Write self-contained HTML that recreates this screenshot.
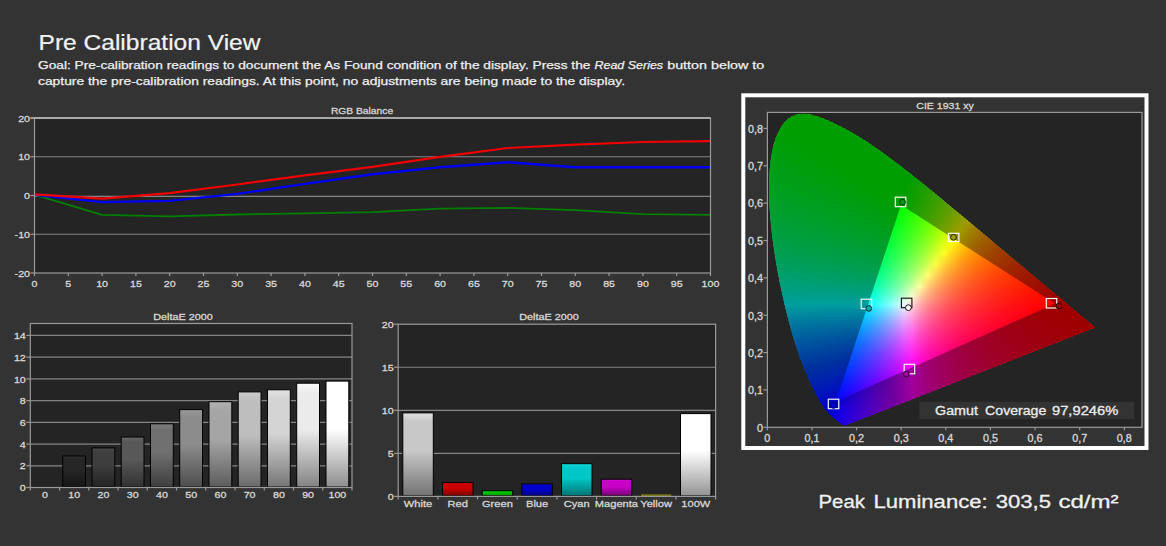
<!DOCTYPE html><html><head><meta charset="utf-8"><style>html,body{margin:0;padding:0;background:#333333}svg{display:block}text{font-family:"Liberation Sans",sans-serif}</style></head><body>
<svg width="1166" height="546" viewBox="0 0 1166 546">
<rect width="1166" height="546" fill="#333333"/>
<text x="38.5" y="49.5" font-size="21.6" fill="#f2f2f2" stroke="#f2f2f2" stroke-width="0.2" textLength="222" lengthAdjust="spacingAndGlyphs">Pre Calibration View</text>
<text x="38" y="68.8" font-size="11.6" fill="#f0f0f0" stroke="#f0f0f0" stroke-width="0.25" lengthAdjust="spacingAndGlyphs" textLength="552.4">Goal: Pre-calibration readings to document the As Found condition of the display. Press the</text>
<text x="594.5" y="68.8" font-size="11.6" fill="#f0f0f0" stroke="#f0f0f0" stroke-width="0.25" lengthAdjust="spacingAndGlyphs" font-style="italic" textLength="68.6">Read Series</text>
<text x="667.2" y="68.8" font-size="11.6" fill="#f0f0f0" stroke="#f0f0f0" stroke-width="0.25" lengthAdjust="spacingAndGlyphs" textLength="97.1">button below to</text>
<text x="38" y="84.6" font-size="11.6" fill="#f0f0f0" stroke="#f0f0f0" stroke-width="0.25" textLength="587" lengthAdjust="spacingAndGlyphs">capture the pre-calibration readings. At this point, no adjustments are being made to the display.</text>
<rect x="34.5" y="118" width="676" height="155" fill="#242424"/>
<line x1="34.5" y1="156.75" x2="710.5" y2="156.75" stroke="#858585" stroke-width="1.2"/>
<line x1="34.5" y1="196.3" x2="710.5" y2="196.3" stroke="#858585" stroke-width="1.2"/>
<line x1="34.5" y1="234.25" x2="710.5" y2="234.25" stroke="#858585" stroke-width="1.2"/>
<clipPath id="rc"><rect x="34.5" y="118" width="676" height="155"/></clipPath>
<polyline clip-path="url(#rc)" points="34.5,194.7 102.1,214.9 169.7,216.4 237.3,214.5 304.9,213.3 372.5,212.2 440.1,208.7 507.7,207.9 575.3,210.2 642.9,214.1 710.5,214.9" fill="none" stroke="#008000" stroke-width="1.8" stroke-linejoin="round"/>
<polyline clip-path="url(#rc)" points="34.5,194.7 102.1,202.1 169.7,200.9 237.3,193.9 304.9,183.9 372.5,174.2 440.1,167.2 507.7,162.2 575.3,167.2 642.9,167.2 710.5,167.2" fill="none" stroke="#0000f0" stroke-width="2.4" stroke-linejoin="round"/>
<polyline clip-path="url(#rc)" points="34.5,194.3 102.1,198.6 169.7,193.2 237.3,184.5 304.9,175.3 372.5,166.8 440.1,156.8 507.7,148.0 575.3,144.7 642.9,142.0 710.5,141.2" fill="none" stroke="#f00000" stroke-width="2.2" stroke-linejoin="round"/>
<rect x="34.5" y="118" width="676" height="155" fill="none" stroke="#9a9a9a" stroke-width="1.2"/>
<line x1="30.5" y1="118" x2="710.5" y2="118" stroke="#a8a8a8" stroke-width="1.8"/>
<line x1="30.5" y1="118" x2="34.5" y2="118" stroke="#9a9a9a" stroke-width="1.2"/>
<text transform="translate(30.0,121.6) scale(1.1,1)" font-size="9.7" fill="#d8d8d8" stroke="#d8d8d8" stroke-width="0.3" text-anchor="end">20</text>
<line x1="30.5" y1="156.75" x2="34.5" y2="156.75" stroke="#9a9a9a" stroke-width="1.2"/>
<text transform="translate(30.0,160.3) scale(1.1,1)" font-size="9.7" fill="#d8d8d8" stroke="#d8d8d8" stroke-width="0.3" text-anchor="end">10</text>
<line x1="30.5" y1="195.5" x2="34.5" y2="195.5" stroke="#9a9a9a" stroke-width="1.2"/>
<text transform="translate(30.0,199.1) scale(1.1,1)" font-size="9.7" fill="#d8d8d8" stroke="#d8d8d8" stroke-width="0.3" text-anchor="end">0</text>
<line x1="30.5" y1="234.25" x2="34.5" y2="234.25" stroke="#9a9a9a" stroke-width="1.2"/>
<text transform="translate(30.0,237.8) scale(1.1,1)" font-size="9.7" fill="#d8d8d8" stroke="#d8d8d8" stroke-width="0.3" text-anchor="end">-10</text>
<line x1="30.5" y1="273" x2="34.5" y2="273" stroke="#9a9a9a" stroke-width="1.2"/>
<text transform="translate(30.0,276.6) scale(1.1,1)" font-size="9.7" fill="#d8d8d8" stroke="#d8d8d8" stroke-width="0.3" text-anchor="end">-20</text>
<line x1="34.5" y1="273" x2="34.5" y2="276" stroke="#9a9a9a" stroke-width="1.2"/>
<text transform="translate(34.5,287.0) scale(1.1,1)" font-size="9.7" fill="#d8d8d8" stroke="#d8d8d8" stroke-width="0.3" text-anchor="middle">0</text>
<line x1="68.3" y1="273" x2="68.3" y2="276" stroke="#9a9a9a" stroke-width="1.2"/>
<text transform="translate(68.3,287.0) scale(1.1,1)" font-size="9.7" fill="#d8d8d8" stroke="#d8d8d8" stroke-width="0.3" text-anchor="middle">5</text>
<line x1="102.1" y1="273" x2="102.1" y2="276" stroke="#9a9a9a" stroke-width="1.2"/>
<text transform="translate(102.1,287.0) scale(1.1,1)" font-size="9.7" fill="#d8d8d8" stroke="#d8d8d8" stroke-width="0.3" text-anchor="middle">10</text>
<line x1="135.9" y1="273" x2="135.9" y2="276" stroke="#9a9a9a" stroke-width="1.2"/>
<text transform="translate(135.9,287.0) scale(1.1,1)" font-size="9.7" fill="#d8d8d8" stroke="#d8d8d8" stroke-width="0.3" text-anchor="middle">15</text>
<line x1="169.7" y1="273" x2="169.7" y2="276" stroke="#9a9a9a" stroke-width="1.2"/>
<text transform="translate(169.7,287.0) scale(1.1,1)" font-size="9.7" fill="#d8d8d8" stroke="#d8d8d8" stroke-width="0.3" text-anchor="middle">20</text>
<line x1="203.5" y1="273" x2="203.5" y2="276" stroke="#9a9a9a" stroke-width="1.2"/>
<text transform="translate(203.5,287.0) scale(1.1,1)" font-size="9.7" fill="#d8d8d8" stroke="#d8d8d8" stroke-width="0.3" text-anchor="middle">25</text>
<line x1="237.3" y1="273" x2="237.3" y2="276" stroke="#9a9a9a" stroke-width="1.2"/>
<text transform="translate(237.3,287.0) scale(1.1,1)" font-size="9.7" fill="#d8d8d8" stroke="#d8d8d8" stroke-width="0.3" text-anchor="middle">30</text>
<line x1="271.1" y1="273" x2="271.1" y2="276" stroke="#9a9a9a" stroke-width="1.2"/>
<text transform="translate(271.1,287.0) scale(1.1,1)" font-size="9.7" fill="#d8d8d8" stroke="#d8d8d8" stroke-width="0.3" text-anchor="middle">35</text>
<line x1="304.9" y1="273" x2="304.9" y2="276" stroke="#9a9a9a" stroke-width="1.2"/>
<text transform="translate(304.9,287.0) scale(1.1,1)" font-size="9.7" fill="#d8d8d8" stroke="#d8d8d8" stroke-width="0.3" text-anchor="middle">40</text>
<line x1="338.7" y1="273" x2="338.7" y2="276" stroke="#9a9a9a" stroke-width="1.2"/>
<text transform="translate(338.7,287.0) scale(1.1,1)" font-size="9.7" fill="#d8d8d8" stroke="#d8d8d8" stroke-width="0.3" text-anchor="middle">45</text>
<line x1="372.5" y1="273" x2="372.5" y2="276" stroke="#9a9a9a" stroke-width="1.2"/>
<text transform="translate(372.5,287.0) scale(1.1,1)" font-size="9.7" fill="#d8d8d8" stroke="#d8d8d8" stroke-width="0.3" text-anchor="middle">50</text>
<line x1="406.3" y1="273" x2="406.3" y2="276" stroke="#9a9a9a" stroke-width="1.2"/>
<text transform="translate(406.3,287.0) scale(1.1,1)" font-size="9.7" fill="#d8d8d8" stroke="#d8d8d8" stroke-width="0.3" text-anchor="middle">55</text>
<line x1="440.1" y1="273" x2="440.1" y2="276" stroke="#9a9a9a" stroke-width="1.2"/>
<text transform="translate(440.1,287.0) scale(1.1,1)" font-size="9.7" fill="#d8d8d8" stroke="#d8d8d8" stroke-width="0.3" text-anchor="middle">60</text>
<line x1="473.9" y1="273" x2="473.9" y2="276" stroke="#9a9a9a" stroke-width="1.2"/>
<text transform="translate(473.9,287.0) scale(1.1,1)" font-size="9.7" fill="#d8d8d8" stroke="#d8d8d8" stroke-width="0.3" text-anchor="middle">65</text>
<line x1="507.7" y1="273" x2="507.7" y2="276" stroke="#9a9a9a" stroke-width="1.2"/>
<text transform="translate(507.7,287.0) scale(1.1,1)" font-size="9.7" fill="#d8d8d8" stroke="#d8d8d8" stroke-width="0.3" text-anchor="middle">70</text>
<line x1="541.5" y1="273" x2="541.5" y2="276" stroke="#9a9a9a" stroke-width="1.2"/>
<text transform="translate(541.5,287.0) scale(1.1,1)" font-size="9.7" fill="#d8d8d8" stroke="#d8d8d8" stroke-width="0.3" text-anchor="middle">75</text>
<line x1="575.3" y1="273" x2="575.3" y2="276" stroke="#9a9a9a" stroke-width="1.2"/>
<text transform="translate(575.3,287.0) scale(1.1,1)" font-size="9.7" fill="#d8d8d8" stroke="#d8d8d8" stroke-width="0.3" text-anchor="middle">80</text>
<line x1="609.1" y1="273" x2="609.1" y2="276" stroke="#9a9a9a" stroke-width="1.2"/>
<text transform="translate(609.1,287.0) scale(1.1,1)" font-size="9.7" fill="#d8d8d8" stroke="#d8d8d8" stroke-width="0.3" text-anchor="middle">85</text>
<line x1="642.9" y1="273" x2="642.9" y2="276" stroke="#9a9a9a" stroke-width="1.2"/>
<text transform="translate(642.9,287.0) scale(1.1,1)" font-size="9.7" fill="#d8d8d8" stroke="#d8d8d8" stroke-width="0.3" text-anchor="middle">90</text>
<line x1="676.7" y1="273" x2="676.7" y2="276" stroke="#9a9a9a" stroke-width="1.2"/>
<text transform="translate(676.7,287.0) scale(1.1,1)" font-size="9.7" fill="#d8d8d8" stroke="#d8d8d8" stroke-width="0.3" text-anchor="middle">95</text>
<line x1="710.5" y1="273" x2="710.5" y2="276" stroke="#9a9a9a" stroke-width="1.2"/>
<text transform="translate(710.5,287.0) scale(1.1,1)" font-size="9.7" fill="#d8d8d8" stroke="#d8d8d8" stroke-width="0.3" text-anchor="middle">100</text>
<text transform="translate(362.0,113.8) scale(1.07,1)" font-size="9.6" fill="#d8d8d8" stroke="#d8d8d8" stroke-width="0.3" text-anchor="middle">RGB Balance</text>
<rect x="30.3" y="323.5" width="321.7" height="164" fill="#242424"/>
<line x1="30.3" y1="465.78" x2="352" y2="465.78" stroke="#858585" stroke-width="1.2"/>
<line x1="30.3" y1="444.06" x2="352" y2="444.06" stroke="#858585" stroke-width="1.2"/>
<line x1="30.3" y1="422.34" x2="352" y2="422.34" stroke="#858585" stroke-width="1.2"/>
<line x1="30.3" y1="400.62" x2="352" y2="400.62" stroke="#858585" stroke-width="1.2"/>
<line x1="30.3" y1="378.9" x2="352" y2="378.9" stroke="#858585" stroke-width="1.2"/>
<line x1="30.3" y1="357.18" x2="352" y2="357.18" stroke="#858585" stroke-width="1.2"/>
<line x1="30.3" y1="335.46" x2="352" y2="335.46" stroke="#858585" stroke-width="1.2"/>
<defs>
<linearGradient id="gb1" x1="0" y1="0" x2="0" y2="1"><stop offset="0" stop-color="rgb(52,52,52)"/><stop offset="0.1" stop-color="rgb(38,38,38)"/><stop offset="0.45" stop-color="rgb(38,38,38)"/><stop offset="1" stop-color="rgb(21,21,21)"/></linearGradient>
<linearGradient id="gb2" x1="0" y1="0" x2="0" y2="1"><stop offset="0" stop-color="rgb(76,76,76)"/><stop offset="0.1" stop-color="rgb(62,62,62)"/><stop offset="0.45" stop-color="rgb(62,62,62)"/><stop offset="1" stop-color="rgb(34,34,34)"/></linearGradient>
<linearGradient id="gb3" x1="0" y1="0" x2="0" y2="1"><stop offset="0" stop-color="rgb(102,102,102)"/><stop offset="0.1" stop-color="rgb(88,88,88)"/><stop offset="0.45" stop-color="rgb(88,88,88)"/><stop offset="1" stop-color="rgb(49,49,49)"/></linearGradient>
<linearGradient id="gb4" x1="0" y1="0" x2="0" y2="1"><stop offset="0" stop-color="rgb(126,126,126)"/><stop offset="0.1" stop-color="rgb(112,112,112)"/><stop offset="0.45" stop-color="rgb(112,112,112)"/><stop offset="1" stop-color="rgb(62,62,62)"/></linearGradient>
<linearGradient id="gb5" x1="0" y1="0" x2="0" y2="1"><stop offset="0" stop-color="rgb(154,154,154)"/><stop offset="0.1" stop-color="rgb(140,140,140)"/><stop offset="0.45" stop-color="rgb(140,140,140)"/><stop offset="1" stop-color="rgb(78,78,78)"/></linearGradient>
<linearGradient id="gb6" x1="0" y1="0" x2="0" y2="1"><stop offset="0" stop-color="rgb(179,179,179)"/><stop offset="0.1" stop-color="rgb(165,165,165)"/><stop offset="0.45" stop-color="rgb(165,165,165)"/><stop offset="1" stop-color="rgb(92,92,92)"/></linearGradient>
<linearGradient id="gb7" x1="0" y1="0" x2="0" y2="1"><stop offset="0" stop-color="rgb(204,204,204)"/><stop offset="0.1" stop-color="rgb(190,190,190)"/><stop offset="0.45" stop-color="rgb(190,190,190)"/><stop offset="1" stop-color="rgb(106,106,106)"/></linearGradient>
<linearGradient id="gb8" x1="0" y1="0" x2="0" y2="1"><stop offset="0" stop-color="rgb(226,226,226)"/><stop offset="0.1" stop-color="rgb(212,212,212)"/><stop offset="0.45" stop-color="rgb(212,212,212)"/><stop offset="1" stop-color="rgb(118,118,118)"/></linearGradient>
<linearGradient id="gb9" x1="0" y1="0" x2="0" y2="1"><stop offset="0" stop-color="rgb(249,249,249)"/><stop offset="0.1" stop-color="rgb(235,235,235)"/><stop offset="0.45" stop-color="rgb(235,235,235)"/><stop offset="1" stop-color="rgb(131,131,131)"/></linearGradient>
<linearGradient id="gb10" x1="0" y1="0" x2="0" y2="1"><stop offset="0" stop-color="rgb(255,255,255)"/><stop offset="0.1" stop-color="rgb(255,255,255)"/><stop offset="0.45" stop-color="rgb(255,255,255)"/><stop offset="1" stop-color="rgb(142,142,142)"/></linearGradient>
</defs>
<rect x="62.7" y="456.0" width="22.8" height="31.0" fill="url(#gb1)" stroke="#000" stroke-width="1"/>
<rect x="92.0" y="447.9" width="22.8" height="39.1" fill="url(#gb2)" stroke="#000" stroke-width="1"/>
<rect x="121.2" y="437.0" width="22.8" height="50.0" fill="url(#gb3)" stroke="#000" stroke-width="1"/>
<rect x="150.5" y="423.8" width="22.8" height="63.2" fill="url(#gb4)" stroke="#000" stroke-width="1"/>
<rect x="179.7" y="409.6" width="22.8" height="77.4" fill="url(#gb5)" stroke="#000" stroke-width="1"/>
<rect x="209.0" y="401.7" width="22.8" height="85.3" fill="url(#gb6)" stroke="#000" stroke-width="1"/>
<rect x="238.2" y="391.9" width="22.8" height="95.1" fill="url(#gb7)" stroke="#000" stroke-width="1"/>
<rect x="267.5" y="389.8" width="22.8" height="97.2" fill="url(#gb8)" stroke="#000" stroke-width="1"/>
<rect x="296.7" y="383.2" width="22.8" height="103.8" fill="url(#gb9)" stroke="#000" stroke-width="1"/>
<rect x="326.0" y="381.1" width="22.8" height="105.9" fill="url(#gb10)" stroke="#000" stroke-width="1"/>
<rect x="30.3" y="323.5" width="321.7" height="164" fill="none" stroke="#9a9a9a" stroke-width="1.2"/>
<line x1="26.3" y1="487.5" x2="30.3" y2="487.5" stroke="#9a9a9a" stroke-width="1.2"/>
<text transform="translate(25.8,491.1) scale(1.1,1)" font-size="9.7" fill="#d8d8d8" stroke="#d8d8d8" stroke-width="0.3" text-anchor="end">0</text>
<line x1="26.3" y1="465.78" x2="30.3" y2="465.78" stroke="#9a9a9a" stroke-width="1.2"/>
<text transform="translate(25.8,469.4) scale(1.1,1)" font-size="9.7" fill="#d8d8d8" stroke="#d8d8d8" stroke-width="0.3" text-anchor="end">2</text>
<line x1="26.3" y1="444.06" x2="30.3" y2="444.06" stroke="#9a9a9a" stroke-width="1.2"/>
<text transform="translate(25.8,447.7) scale(1.1,1)" font-size="9.7" fill="#d8d8d8" stroke="#d8d8d8" stroke-width="0.3" text-anchor="end">4</text>
<line x1="26.3" y1="422.34" x2="30.3" y2="422.34" stroke="#9a9a9a" stroke-width="1.2"/>
<text transform="translate(25.8,425.9) scale(1.1,1)" font-size="9.7" fill="#d8d8d8" stroke="#d8d8d8" stroke-width="0.3" text-anchor="end">6</text>
<line x1="26.3" y1="400.62" x2="30.3" y2="400.62" stroke="#9a9a9a" stroke-width="1.2"/>
<text transform="translate(25.8,404.2) scale(1.1,1)" font-size="9.7" fill="#d8d8d8" stroke="#d8d8d8" stroke-width="0.3" text-anchor="end">8</text>
<line x1="26.3" y1="378.9" x2="30.3" y2="378.9" stroke="#9a9a9a" stroke-width="1.2"/>
<text transform="translate(25.8,382.5) scale(1.1,1)" font-size="9.7" fill="#d8d8d8" stroke="#d8d8d8" stroke-width="0.3" text-anchor="end">10</text>
<line x1="26.3" y1="357.18" x2="30.3" y2="357.18" stroke="#9a9a9a" stroke-width="1.2"/>
<text transform="translate(25.8,360.8) scale(1.1,1)" font-size="9.7" fill="#d8d8d8" stroke="#d8d8d8" stroke-width="0.3" text-anchor="end">12</text>
<line x1="26.3" y1="335.46" x2="30.3" y2="335.46" stroke="#9a9a9a" stroke-width="1.2"/>
<text transform="translate(25.8,339.1) scale(1.1,1)" font-size="9.7" fill="#d8d8d8" stroke="#d8d8d8" stroke-width="0.3" text-anchor="end">14</text>
<line x1="30.3" y1="487.5" x2="30.3" y2="490.5" stroke="#9a9a9a" stroke-width="1.2"/>
<line x1="59.5455" y1="487.5" x2="59.5455" y2="490.5" stroke="#9a9a9a" stroke-width="1.2"/>
<line x1="88.7909" y1="487.5" x2="88.7909" y2="490.5" stroke="#9a9a9a" stroke-width="1.2"/>
<line x1="118.036" y1="487.5" x2="118.036" y2="490.5" stroke="#9a9a9a" stroke-width="1.2"/>
<line x1="147.282" y1="487.5" x2="147.282" y2="490.5" stroke="#9a9a9a" stroke-width="1.2"/>
<line x1="176.527" y1="487.5" x2="176.527" y2="490.5" stroke="#9a9a9a" stroke-width="1.2"/>
<line x1="205.773" y1="487.5" x2="205.773" y2="490.5" stroke="#9a9a9a" stroke-width="1.2"/>
<line x1="235.018" y1="487.5" x2="235.018" y2="490.5" stroke="#9a9a9a" stroke-width="1.2"/>
<line x1="264.264" y1="487.5" x2="264.264" y2="490.5" stroke="#9a9a9a" stroke-width="1.2"/>
<line x1="293.509" y1="487.5" x2="293.509" y2="490.5" stroke="#9a9a9a" stroke-width="1.2"/>
<line x1="322.755" y1="487.5" x2="322.755" y2="490.5" stroke="#9a9a9a" stroke-width="1.2"/>
<line x1="352" y1="487.5" x2="352" y2="490.5" stroke="#9a9a9a" stroke-width="1.2"/>
<text transform="translate(44.9,497.9) scale(1.1,1)" font-size="9.7" fill="#d8d8d8" stroke="#d8d8d8" stroke-width="0.3" text-anchor="middle">0</text>
<text transform="translate(74.2,497.9) scale(1.1,1)" font-size="9.7" fill="#d8d8d8" stroke="#d8d8d8" stroke-width="0.3" text-anchor="middle">10</text>
<text transform="translate(103.4,497.9) scale(1.1,1)" font-size="9.7" fill="#d8d8d8" stroke="#d8d8d8" stroke-width="0.3" text-anchor="middle">20</text>
<text transform="translate(132.7,497.9) scale(1.1,1)" font-size="9.7" fill="#d8d8d8" stroke="#d8d8d8" stroke-width="0.3" text-anchor="middle">30</text>
<text transform="translate(161.9,497.9) scale(1.1,1)" font-size="9.7" fill="#d8d8d8" stroke="#d8d8d8" stroke-width="0.3" text-anchor="middle">40</text>
<text transform="translate(191.2,497.9) scale(1.1,1)" font-size="9.7" fill="#d8d8d8" stroke="#d8d8d8" stroke-width="0.3" text-anchor="middle">50</text>
<text transform="translate(220.4,497.9) scale(1.1,1)" font-size="9.7" fill="#d8d8d8" stroke="#d8d8d8" stroke-width="0.3" text-anchor="middle">60</text>
<text transform="translate(249.6,497.9) scale(1.1,1)" font-size="9.7" fill="#d8d8d8" stroke="#d8d8d8" stroke-width="0.3" text-anchor="middle">70</text>
<text transform="translate(278.9,497.9) scale(1.1,1)" font-size="9.7" fill="#d8d8d8" stroke="#d8d8d8" stroke-width="0.3" text-anchor="middle">80</text>
<text transform="translate(308.1,497.9) scale(1.1,1)" font-size="9.7" fill="#d8d8d8" stroke="#d8d8d8" stroke-width="0.3" text-anchor="middle">90</text>
<text transform="translate(337.4,497.9) scale(1.1,1)" font-size="9.7" fill="#d8d8d8" stroke="#d8d8d8" stroke-width="0.3" text-anchor="middle">100</text>
<text transform="translate(183.0,319.8) scale(1.13,1)" font-size="9.6" fill="#d8d8d8" stroke="#d8d8d8" stroke-width="0.3" text-anchor="middle">DeltaE 2000</text>
<rect x="398.2" y="324.2" width="317.4" height="172.2" fill="#242424"/>
<line x1="398.2" y1="453.35" x2="715.6" y2="453.35" stroke="#858585" stroke-width="1.2"/>
<line x1="398.2" y1="410.3" x2="715.6" y2="410.3" stroke="#858585" stroke-width="1.2"/>
<line x1="398.2" y1="367.25" x2="715.6" y2="367.25" stroke="#858585" stroke-width="1.2"/>
<defs>
<linearGradient id="cb0" x1="0" y1="0" x2="0" y2="1"><stop offset="0" stop-color="rgb(225,225,225)"/><stop offset="0.1" stop-color="rgb(200,200,200)"/><stop offset="0.45" stop-color="rgb(200,200,200)"/><stop offset="1" stop-color="rgb(115,115,115)"/></linearGradient>
<linearGradient id="cb1" x1="0" y1="0" x2="0" y2="1"><stop offset="0" stop-color="rgb(230,25,25)"/><stop offset="0.1" stop-color="rgb(205,0,0)"/><stop offset="0.45" stop-color="rgb(205,0,0)"/><stop offset="1" stop-color="rgb(118,0,0)"/></linearGradient>
<linearGradient id="cb2" x1="0" y1="0" x2="0" y2="1"><stop offset="0" stop-color="rgb(25,225,25)"/><stop offset="0.1" stop-color="rgb(0,200,0)"/><stop offset="0.45" stop-color="rgb(0,200,0)"/><stop offset="1" stop-color="rgb(0,115,0)"/></linearGradient>
<linearGradient id="cb3" x1="0" y1="0" x2="0" y2="1"><stop offset="0" stop-color="rgb(25,25,230)"/><stop offset="0.1" stop-color="rgb(0,0,205)"/><stop offset="0.45" stop-color="rgb(0,0,205)"/><stop offset="1" stop-color="rgb(0,0,118)"/></linearGradient>
<linearGradient id="cb4" x1="0" y1="0" x2="0" y2="1"><stop offset="0" stop-color="rgb(25,225,225)"/><stop offset="0.1" stop-color="rgb(0,200,200)"/><stop offset="0.45" stop-color="rgb(0,200,200)"/><stop offset="1" stop-color="rgb(0,115,115)"/></linearGradient>
<linearGradient id="cb5" x1="0" y1="0" x2="0" y2="1"><stop offset="0" stop-color="rgb(225,25,225)"/><stop offset="0.1" stop-color="rgb(200,0,200)"/><stop offset="0.45" stop-color="rgb(200,0,200)"/><stop offset="1" stop-color="rgb(115,0,115)"/></linearGradient>
<linearGradient id="cb6" x1="0" y1="0" x2="0" y2="1"><stop offset="0" stop-color="rgb(225,225,25)"/><stop offset="0.1" stop-color="rgb(200,200,0)"/><stop offset="0.45" stop-color="rgb(200,200,0)"/><stop offset="1" stop-color="rgb(115,115,0)"/></linearGradient>
<linearGradient id="cb7" x1="0" y1="0" x2="0" y2="1"><stop offset="0" stop-color="rgb(255,255,255)"/><stop offset="0.1" stop-color="rgb(255,255,255)"/><stop offset="0.45" stop-color="rgb(255,255,255)"/><stop offset="1" stop-color="rgb(147,147,147)"/></linearGradient>
</defs>
<rect x="402.8" y="412.9" width="30.5" height="83.0" fill="url(#cb0)" stroke="#000" stroke-width="1"/>
<rect x="442.5" y="482.6" width="30.5" height="13.3" fill="url(#cb1)" stroke="#000" stroke-width="1"/>
<rect x="482.2" y="490.7" width="30.5" height="5.2" fill="url(#cb2)" stroke="#000" stroke-width="1"/>
<rect x="521.8" y="483.9" width="30.5" height="12.0" fill="url(#cb3)" stroke="#000" stroke-width="1"/>
<rect x="561.5" y="463.7" width="30.5" height="32.2" fill="url(#cb4)" stroke="#000" stroke-width="1"/>
<rect x="601.2" y="479.2" width="30.5" height="16.7" fill="url(#cb5)" stroke="#000" stroke-width="1"/>
<rect x="640.4" y="494.2" width="31.5" height="2" fill="#111"/><rect x="640.9" y="494.5" width="30.5" height="1.2" fill="#a0a010"/>
<rect x="680.5" y="413.6" width="30.5" height="82.3" fill="url(#cb7)" stroke="#000" stroke-width="1"/>
<rect x="398.2" y="324.2" width="317.4" height="172.2" fill="none" stroke="#9a9a9a" stroke-width="1.2"/>
<line x1="394.2" y1="496.4" x2="398.2" y2="496.4" stroke="#9a9a9a" stroke-width="1.2"/>
<text transform="translate(393.7,500.0) scale(1.1,1)" font-size="9.7" fill="#d8d8d8" stroke="#d8d8d8" stroke-width="0.3" text-anchor="end">0</text>
<line x1="394.2" y1="453.35" x2="398.2" y2="453.35" stroke="#9a9a9a" stroke-width="1.2"/>
<text transform="translate(393.7,456.9) scale(1.1,1)" font-size="9.7" fill="#d8d8d8" stroke="#d8d8d8" stroke-width="0.3" text-anchor="end">5</text>
<line x1="394.2" y1="410.3" x2="398.2" y2="410.3" stroke="#9a9a9a" stroke-width="1.2"/>
<text transform="translate(393.7,413.9) scale(1.1,1)" font-size="9.7" fill="#d8d8d8" stroke="#d8d8d8" stroke-width="0.3" text-anchor="end">10</text>
<line x1="394.2" y1="367.25" x2="398.2" y2="367.25" stroke="#9a9a9a" stroke-width="1.2"/>
<text transform="translate(393.7,370.9) scale(1.1,1)" font-size="9.7" fill="#d8d8d8" stroke="#d8d8d8" stroke-width="0.3" text-anchor="end">15</text>
<line x1="394.2" y1="324.2" x2="398.2" y2="324.2" stroke="#9a9a9a" stroke-width="1.2"/>
<text transform="translate(393.7,327.8) scale(1.1,1)" font-size="9.7" fill="#d8d8d8" stroke="#d8d8d8" stroke-width="0.3" text-anchor="end">20</text>
<line x1="398.2" y1="496.4" x2="398.2" y2="499.4" stroke="#9a9a9a" stroke-width="1.2"/>
<line x1="437.875" y1="496.4" x2="437.875" y2="499.4" stroke="#9a9a9a" stroke-width="1.2"/>
<line x1="477.55" y1="496.4" x2="477.55" y2="499.4" stroke="#9a9a9a" stroke-width="1.2"/>
<line x1="517.225" y1="496.4" x2="517.225" y2="499.4" stroke="#9a9a9a" stroke-width="1.2"/>
<line x1="556.9" y1="496.4" x2="556.9" y2="499.4" stroke="#9a9a9a" stroke-width="1.2"/>
<line x1="596.575" y1="496.4" x2="596.575" y2="499.4" stroke="#9a9a9a" stroke-width="1.2"/>
<line x1="636.25" y1="496.4" x2="636.25" y2="499.4" stroke="#9a9a9a" stroke-width="1.2"/>
<line x1="675.925" y1="496.4" x2="675.925" y2="499.4" stroke="#9a9a9a" stroke-width="1.2"/>
<line x1="715.6" y1="496.4" x2="715.6" y2="499.4" stroke="#9a9a9a" stroke-width="1.2"/>
<text transform="translate(418.0,507.3) scale(1.12,1)" font-size="9.9" fill="#d8d8d8" stroke="#d8d8d8" stroke-width="0.3" text-anchor="middle">White</text>
<text transform="translate(457.7,507.3) scale(1.12,1)" font-size="9.9" fill="#d8d8d8" stroke="#d8d8d8" stroke-width="0.3" text-anchor="middle">Red</text>
<text transform="translate(497.4,507.3) scale(1.12,1)" font-size="9.9" fill="#d8d8d8" stroke="#d8d8d8" stroke-width="0.3" text-anchor="middle">Green</text>
<text transform="translate(537.1,507.3) scale(1.12,1)" font-size="9.9" fill="#d8d8d8" stroke="#d8d8d8" stroke-width="0.3" text-anchor="middle">Blue</text>
<text transform="translate(576.7,507.3) scale(1.12,1)" font-size="9.9" fill="#d8d8d8" stroke="#d8d8d8" stroke-width="0.3" text-anchor="middle">Cyan</text>
<text transform="translate(616.4,507.3) scale(1.12,1)" font-size="9.9" fill="#d8d8d8" stroke="#d8d8d8" stroke-width="0.3" text-anchor="middle">Magenta</text>
<text transform="translate(656.1,507.3) scale(1.12,1)" font-size="9.9" fill="#d8d8d8" stroke="#d8d8d8" stroke-width="0.3" text-anchor="middle">Yellow</text>
<text transform="translate(695.8,507.3) scale(1.12,1)" font-size="9.9" fill="#d8d8d8" stroke="#d8d8d8" stroke-width="0.3" text-anchor="middle">100W</text>
<text transform="translate(549.0,319.8) scale(1.13,1)" font-size="9.6" fill="#d8d8d8" stroke="#d8d8d8" stroke-width="0.3" text-anchor="middle">DeltaE 2000</text>
<rect x="743.3" y="95.3" width="403.2" height="352.7" fill="#333333" stroke="#ffffff" stroke-width="4"/>
<rect x="767.4" y="112.4" width="374.6" height="314.9" fill="#242424"/>
<defs><clipPath id="lc"><polygon points="845.0,425.4 845.0,425.4 845.0,425.4 845.0,425.4 844.9,425.4 844.9,425.4 844.9,425.4 844.9,425.5 844.9,425.5 844.8,425.5 844.8,425.5 844.8,425.5 844.8,425.5 844.7,425.5 844.7,425.5 844.7,425.5 844.6,425.5 844.6,425.5 844.6,425.5 844.5,425.5 844.5,425.5 844.5,425.5 844.4,425.5 844.4,425.5 844.3,425.5 844.3,425.5 844.2,425.5 844.2,425.5 844.1,425.5 844.0,425.5 844.0,425.5 843.9,425.4 843.8,425.4 843.7,425.3 843.6,425.3 843.4,425.2 843.3,425.1 843.2,425.0 843.0,424.9 842.8,424.8 842.7,424.7 842.5,424.6 842.3,424.4 842.0,424.2 841.8,424.1 841.5,423.9 841.3,423.7 841.0,423.4 840.7,423.2 840.3,423.0 840.0,422.7 839.6,422.4 839.2,422.1 838.7,421.8 838.3,421.4 837.7,421.1 837.2,420.6 836.6,420.2 836.0,419.8 835.4,419.3 834.7,418.8 834.0,418.2 833.2,417.6 832.4,416.9 831.6,416.1 830.7,415.3 829.8,414.5 828.8,413.5 827.8,412.3 826.6,410.9 825.4,409.4 824.1,407.6 822.7,405.6 821.2,403.3 819.6,400.8 818.0,397.9 816.2,394.7 814.3,391.0 812.4,387.0 810.3,382.5 808.0,377.4 805.7,371.8 803.1,365.8 800.5,359.1 798.0,351.9 795.4,343.9 792.7,335.3 790.1,326.1 787.6,316.4 785.0,306.0 782.5,295.0 780.0,283.6 777.8,272.2 775.8,260.5 773.9,248.5 772.3,236.6 771.0,224.9 770.0,213.5 769.3,202.3 769.0,191.5 769.0,181.2 769.6,171.3 770.5,161.9 771.8,153.2 773.5,145.3 775.7,138.3 778.4,132.0 781.4,126.5 784.7,122.1 788.2,118.7 792.1,116.3 796.3,114.8 800.5,113.9 804.8,113.7 809.2,114.3 813.7,115.4 818.3,116.7 822.8,118.3 827.3,120.2 831.9,122.2 836.3,124.4 840.7,126.5 845.0,128.8 849.2,131.1 853.4,133.5 857.5,136.0 861.6,138.5 865.7,141.1 869.8,143.8 873.8,146.5 877.9,149.3 881.9,152.1 885.9,155.0 889.9,158.0 893.9,161.0 897.9,164.0 901.9,167.1 905.9,170.2 909.9,173.3 913.8,176.4 917.8,179.6 921.8,182.8 925.8,186.0 929.8,189.3 933.8,192.6 937.8,195.8 941.8,199.1 945.7,202.4 949.7,205.7 953.6,209.0 957.6,212.2 961.6,215.5 965.5,218.8 969.4,222.0 973.3,225.3 977.1,228.5 981.0,231.8 984.8,235.0 988.6,238.1 992.3,241.3 996.0,244.4 999.7,247.5 1003.3,250.5 1006.9,253.5 1010.4,256.5 1013.9,259.4 1017.3,262.3 1020.7,265.1 1024.0,267.8 1027.2,270.5 1030.3,273.2 1033.4,275.8 1036.3,278.3 1039.2,280.6 1041.9,282.9 1044.5,285.1 1047.1,287.3 1049.6,289.4 1052.0,291.4 1054.3,293.3 1056.6,295.2 1058.7,297.0 1060.7,298.6 1062.6,300.2 1064.4,301.7 1066.1,303.2 1067.8,304.6 1069.3,305.9 1070.8,307.1 1072.2,308.3 1073.5,309.4 1074.7,310.4 1075.9,311.4 1077.0,312.3 1078.0,313.2 1079.0,314.0 1079.9,314.8 1080.8,315.5 1081.7,316.2 1082.4,316.9 1083.2,317.5 1083.9,318.2 1084.6,318.7 1085.3,319.3 1085.9,319.8 1086.5,320.3 1087.1,320.8 1087.6,321.3 1088.2,321.7 1088.6,322.1 1089.1,322.5 1089.5,322.8 1089.9,323.2 1090.3,323.5 1090.7,323.8 1091.0,324.0 1091.3,324.3 1091.6,324.5 1091.8,324.8 1092.1,325.0 1092.3,325.2 1092.5,325.3 1092.7,325.5 1092.9,325.7 1093.1,325.8 1093.2,325.9 1093.3,326.0 1093.4,326.1 1093.6,326.2 1093.7,326.3 1093.8,326.4 1093.9,326.5 1094.0,326.6 1094.0,326.6 1094.1,326.7 1094.2,326.8 1094.3,326.8 1094.3,326.9 1094.4,327.0 1094.5,327.0 1094.6,327.1 1094.7,327.1 1094.7,327.2 1094.8,327.3 1094.8,327.3 1094.9,327.4 1094.9,327.4 1095.0,327.4 1095.0,327.5 1095.1,327.5 1095.1,327.5 1095.1,327.5 1095.1,327.5 1095.1,327.5 1095.1,327.6 1095.2,327.6 1095.2,327.6"/></clipPath>
<linearGradient id="s0" gradientUnits="userSpaceOnUse" x1="792.0" y1="0" x2="816.0" y2="0"><stop offset="0" stop-color="#00ff00"/><stop offset="0.333" stop-color="#00ff00"/><stop offset="0.667" stop-color="#00ff00"/><stop offset="1" stop-color="#00ff00"/></linearGradient>
<linearGradient id="s1" gradientUnits="userSpaceOnUse" x1="784.0" y1="0" x2="824.0" y2="0"><stop offset="0" stop-color="#00ff00"/><stop offset="0.2" stop-color="#00ff00"/><stop offset="0.4" stop-color="#00ff00"/><stop offset="0.6" stop-color="#00ff00"/><stop offset="0.8" stop-color="#00ff00"/><stop offset="1" stop-color="#00ff00"/></linearGradient>
<linearGradient id="s2" gradientUnits="userSpaceOnUse" x1="784.0" y1="0" x2="824.0" y2="0"><stop offset="0" stop-color="#00ff00"/><stop offset="0.2" stop-color="#00ff00"/><stop offset="0.4" stop-color="#00ff00"/><stop offset="0.6" stop-color="#00ff00"/><stop offset="0.8" stop-color="#00ff00"/><stop offset="1" stop-color="#00ff00"/></linearGradient>
<linearGradient id="s3" gradientUnits="userSpaceOnUse" x1="784.0" y1="0" x2="832.0" y2="0"><stop offset="0" stop-color="#00ff00"/><stop offset="0.167" stop-color="#00ff00"/><stop offset="0.333" stop-color="#00ff00"/><stop offset="0.5" stop-color="#00ff00"/><stop offset="0.667" stop-color="#00ff00"/><stop offset="0.833" stop-color="#00ff00"/><stop offset="1" stop-color="#00ff00"/></linearGradient>
<linearGradient id="s4" gradientUnits="userSpaceOnUse" x1="776.0" y1="0" x2="840.0" y2="0"><stop offset="0" stop-color="#00ff01"/><stop offset="0.125" stop-color="#00ff00"/><stop offset="0.25" stop-color="#00ff00"/><stop offset="0.375" stop-color="#00ff00"/><stop offset="0.5" stop-color="#00ff00"/><stop offset="0.625" stop-color="#00ff00"/><stop offset="0.75" stop-color="#00ff00"/><stop offset="0.875" stop-color="#00ff00"/><stop offset="1" stop-color="#00ff00"/></linearGradient>
<linearGradient id="s5" gradientUnits="userSpaceOnUse" x1="776.0" y1="0" x2="840.0" y2="0"><stop offset="0" stop-color="#00ff02"/><stop offset="0.125" stop-color="#00ff00"/><stop offset="0.25" stop-color="#00ff00"/><stop offset="0.375" stop-color="#00ff00"/><stop offset="0.5" stop-color="#00ff00"/><stop offset="0.625" stop-color="#00ff00"/><stop offset="0.75" stop-color="#00ff00"/><stop offset="0.875" stop-color="#00ff00"/><stop offset="1" stop-color="#00ff00"/></linearGradient>
<linearGradient id="s6" gradientUnits="userSpaceOnUse" x1="776.0" y1="0" x2="848.0" y2="0"><stop offset="0" stop-color="#00ff03"/><stop offset="0.111" stop-color="#00ff00"/><stop offset="0.222" stop-color="#00ff00"/><stop offset="0.333" stop-color="#00ff00"/><stop offset="0.444" stop-color="#00ff00"/><stop offset="0.556" stop-color="#00ff00"/><stop offset="0.667" stop-color="#00ff00"/><stop offset="0.778" stop-color="#00ff00"/><stop offset="0.889" stop-color="#00ff00"/><stop offset="1" stop-color="#00ff00"/></linearGradient>
<linearGradient id="s7" gradientUnits="userSpaceOnUse" x1="776.0" y1="0" x2="848.0" y2="0"><stop offset="0" stop-color="#00ff04"/><stop offset="0.111" stop-color="#00ff01"/><stop offset="0.222" stop-color="#00ff00"/><stop offset="0.333" stop-color="#00ff00"/><stop offset="0.444" stop-color="#00ff00"/><stop offset="0.556" stop-color="#00ff00"/><stop offset="0.667" stop-color="#00ff00"/><stop offset="0.778" stop-color="#00ff00"/><stop offset="0.889" stop-color="#00ff00"/><stop offset="1" stop-color="#00ff00"/></linearGradient>
<linearGradient id="s8" gradientUnits="userSpaceOnUse" x1="776.0" y1="0" x2="856.0" y2="0"><stop offset="0" stop-color="#00ff05"/><stop offset="0.1" stop-color="#00ff02"/><stop offset="0.2" stop-color="#00ff00"/><stop offset="0.3" stop-color="#00ff00"/><stop offset="0.4" stop-color="#00ff00"/><stop offset="0.5" stop-color="#00ff00"/><stop offset="0.6" stop-color="#00ff00"/><stop offset="0.7" stop-color="#00ff00"/><stop offset="0.8" stop-color="#00ff00"/><stop offset="0.9" stop-color="#00ff00"/><stop offset="1" stop-color="#00ff00"/></linearGradient>
<linearGradient id="s9" gradientUnits="userSpaceOnUse" x1="776.0" y1="0" x2="856.0" y2="0"><stop offset="0" stop-color="#00ff06"/><stop offset="0.1" stop-color="#00ff03"/><stop offset="0.2" stop-color="#00ff00"/><stop offset="0.3" stop-color="#00ff00"/><stop offset="0.4" stop-color="#00ff00"/><stop offset="0.5" stop-color="#00ff00"/><stop offset="0.6" stop-color="#00ff00"/><stop offset="0.7" stop-color="#00ff00"/><stop offset="0.8" stop-color="#00ff00"/><stop offset="0.9" stop-color="#00ff00"/><stop offset="1" stop-color="#00ff00"/></linearGradient>
<linearGradient id="s10" gradientUnits="userSpaceOnUse" x1="768.0" y1="0" x2="864.0" y2="0"><stop offset="0" stop-color="#00ff0b"/><stop offset="0.0833" stop-color="#00ff08"/><stop offset="0.167" stop-color="#00ff05"/><stop offset="0.25" stop-color="#00ff01"/><stop offset="0.333" stop-color="#00ff00"/><stop offset="0.417" stop-color="#00ff00"/><stop offset="0.5" stop-color="#00ff00"/><stop offset="0.583" stop-color="#00ff00"/><stop offset="0.667" stop-color="#00ff00"/><stop offset="0.75" stop-color="#00ff00"/><stop offset="0.833" stop-color="#00ff00"/><stop offset="0.917" stop-color="#00ff00"/><stop offset="1" stop-color="#00ff00"/></linearGradient>
<linearGradient id="s11" gradientUnits="userSpaceOnUse" x1="768.0" y1="0" x2="864.0" y2="0"><stop offset="0" stop-color="#00ff0c"/><stop offset="0.0833" stop-color="#00ff09"/><stop offset="0.167" stop-color="#00ff06"/><stop offset="0.25" stop-color="#00ff03"/><stop offset="0.333" stop-color="#00ff00"/><stop offset="0.417" stop-color="#00ff00"/><stop offset="0.5" stop-color="#00ff00"/><stop offset="0.583" stop-color="#00ff00"/><stop offset="0.667" stop-color="#00ff00"/><stop offset="0.75" stop-color="#00ff00"/><stop offset="0.833" stop-color="#00ff00"/><stop offset="0.917" stop-color="#00ff00"/><stop offset="1" stop-color="#00ff00"/></linearGradient>
<linearGradient id="s12" gradientUnits="userSpaceOnUse" x1="768.0" y1="0" x2="864.0" y2="0"><stop offset="0" stop-color="#00ff0d"/><stop offset="0.0833" stop-color="#00ff0a"/><stop offset="0.167" stop-color="#00ff07"/><stop offset="0.25" stop-color="#00ff04"/><stop offset="0.333" stop-color="#00ff01"/><stop offset="0.417" stop-color="#00ff00"/><stop offset="0.5" stop-color="#00ff00"/><stop offset="0.583" stop-color="#00ff00"/><stop offset="0.667" stop-color="#00ff00"/><stop offset="0.75" stop-color="#00ff00"/><stop offset="0.833" stop-color="#00ff00"/><stop offset="0.917" stop-color="#00ff00"/><stop offset="1" stop-color="#00ff00"/></linearGradient>
<linearGradient id="s13" gradientUnits="userSpaceOnUse" x1="768.0" y1="0" x2="872.0" y2="0"><stop offset="0" stop-color="#00ff0e"/><stop offset="0.0769" stop-color="#00ff0b"/><stop offset="0.154" stop-color="#00ff08"/><stop offset="0.231" stop-color="#00ff05"/><stop offset="0.308" stop-color="#00ff02"/><stop offset="0.385" stop-color="#00ff00"/><stop offset="0.462" stop-color="#00ff00"/><stop offset="0.538" stop-color="#00ff00"/><stop offset="0.615" stop-color="#00ff00"/><stop offset="0.692" stop-color="#00ff00"/><stop offset="0.769" stop-color="#00ff00"/><stop offset="0.846" stop-color="#00ff00"/><stop offset="0.923" stop-color="#00ff00"/><stop offset="1" stop-color="#00ff00"/></linearGradient>
<linearGradient id="s14" gradientUnits="userSpaceOnUse" x1="768.0" y1="0" x2="872.0" y2="0"><stop offset="0" stop-color="#00ff10"/><stop offset="0.0769" stop-color="#00ff0d"/><stop offset="0.154" stop-color="#00ff0a"/><stop offset="0.231" stop-color="#00ff06"/><stop offset="0.308" stop-color="#00ff03"/><stop offset="0.385" stop-color="#00ff00"/><stop offset="0.462" stop-color="#00ff00"/><stop offset="0.538" stop-color="#00ff00"/><stop offset="0.615" stop-color="#00ff00"/><stop offset="0.692" stop-color="#00ff00"/><stop offset="0.769" stop-color="#00ff00"/><stop offset="0.846" stop-color="#00ff00"/><stop offset="0.923" stop-color="#00ff00"/><stop offset="1" stop-color="#00ff00"/></linearGradient>
<linearGradient id="s15" gradientUnits="userSpaceOnUse" x1="768.0" y1="0" x2="880.0" y2="0"><stop offset="0" stop-color="#00ff11"/><stop offset="0.0714" stop-color="#00ff0e"/><stop offset="0.143" stop-color="#00ff0b"/><stop offset="0.214" stop-color="#00ff08"/><stop offset="0.286" stop-color="#00ff04"/><stop offset="0.357" stop-color="#00ff01"/><stop offset="0.429" stop-color="#00ff00"/><stop offset="0.5" stop-color="#00ff00"/><stop offset="0.571" stop-color="#00ff00"/><stop offset="0.643" stop-color="#00ff00"/><stop offset="0.714" stop-color="#00ff00"/><stop offset="0.786" stop-color="#00ff00"/><stop offset="0.857" stop-color="#00ff00"/><stop offset="0.929" stop-color="#00ff00"/><stop offset="1" stop-color="#00ff00"/></linearGradient>
<linearGradient id="s16" gradientUnits="userSpaceOnUse" x1="768.0" y1="0" x2="880.0" y2="0"><stop offset="0" stop-color="#00ff12"/><stop offset="0.0714" stop-color="#00ff0f"/><stop offset="0.143" stop-color="#00ff0c"/><stop offset="0.214" stop-color="#00ff09"/><stop offset="0.286" stop-color="#00ff06"/><stop offset="0.357" stop-color="#00ff02"/><stop offset="0.429" stop-color="#00ff00"/><stop offset="0.5" stop-color="#00ff00"/><stop offset="0.571" stop-color="#00ff00"/><stop offset="0.643" stop-color="#00ff00"/><stop offset="0.714" stop-color="#00ff00"/><stop offset="0.786" stop-color="#00ff00"/><stop offset="0.857" stop-color="#00ff00"/><stop offset="0.929" stop-color="#00ff00"/><stop offset="1" stop-color="#00ff00"/></linearGradient>
<linearGradient id="s17" gradientUnits="userSpaceOnUse" x1="768.0" y1="0" x2="880.0" y2="0"><stop offset="0" stop-color="#00ff14"/><stop offset="0.0714" stop-color="#00ff11"/><stop offset="0.143" stop-color="#00ff0e"/><stop offset="0.214" stop-color="#00ff0a"/><stop offset="0.286" stop-color="#00ff07"/><stop offset="0.357" stop-color="#00ff04"/><stop offset="0.429" stop-color="#00ff00"/><stop offset="0.5" stop-color="#00ff00"/><stop offset="0.571" stop-color="#00ff00"/><stop offset="0.643" stop-color="#00ff00"/><stop offset="0.714" stop-color="#00ff00"/><stop offset="0.786" stop-color="#00ff00"/><stop offset="0.857" stop-color="#00ff00"/><stop offset="0.929" stop-color="#00ff00"/><stop offset="1" stop-color="#00ff00"/></linearGradient>
<linearGradient id="s18" gradientUnits="userSpaceOnUse" x1="768.0" y1="0" x2="888.0" y2="0"><stop offset="0" stop-color="#00ff15"/><stop offset="0.0667" stop-color="#00ff12"/><stop offset="0.133" stop-color="#00ff0f"/><stop offset="0.2" stop-color="#00ff0c"/><stop offset="0.267" stop-color="#00ff08"/><stop offset="0.333" stop-color="#00ff05"/><stop offset="0.4" stop-color="#00ff02"/><stop offset="0.467" stop-color="#00ff00"/><stop offset="0.533" stop-color="#00ff00"/><stop offset="0.6" stop-color="#00ff00"/><stop offset="0.667" stop-color="#00ff00"/><stop offset="0.733" stop-color="#00ff00"/><stop offset="0.8" stop-color="#00ff00"/><stop offset="0.867" stop-color="#00ff00"/><stop offset="0.933" stop-color="#00ff00"/><stop offset="1" stop-color="#00ff00"/></linearGradient>
<linearGradient id="s19" gradientUnits="userSpaceOnUse" x1="768.0" y1="0" x2="888.0" y2="0"><stop offset="0" stop-color="#00ff16"/><stop offset="0.0667" stop-color="#00ff13"/><stop offset="0.133" stop-color="#00ff10"/><stop offset="0.2" stop-color="#00ff0d"/><stop offset="0.267" stop-color="#00ff0a"/><stop offset="0.333" stop-color="#00ff06"/><stop offset="0.4" stop-color="#00ff03"/><stop offset="0.467" stop-color="#00ff00"/><stop offset="0.533" stop-color="#00ff00"/><stop offset="0.6" stop-color="#00ff00"/><stop offset="0.667" stop-color="#00ff00"/><stop offset="0.733" stop-color="#00ff00"/><stop offset="0.8" stop-color="#00ff00"/><stop offset="0.867" stop-color="#00ff00"/><stop offset="0.933" stop-color="#00ff00"/><stop offset="1" stop-color="#00ff00"/></linearGradient>
<linearGradient id="s20" gradientUnits="userSpaceOnUse" x1="768.0" y1="0" x2="888.0" y2="0"><stop offset="0" stop-color="#00ff18"/><stop offset="0.0667" stop-color="#00ff15"/><stop offset="0.133" stop-color="#00ff12"/><stop offset="0.2" stop-color="#00ff0e"/><stop offset="0.267" stop-color="#00ff0b"/><stop offset="0.333" stop-color="#00ff08"/><stop offset="0.4" stop-color="#00ff04"/><stop offset="0.467" stop-color="#00ff01"/><stop offset="0.533" stop-color="#00ff00"/><stop offset="0.6" stop-color="#00ff00"/><stop offset="0.667" stop-color="#00ff00"/><stop offset="0.733" stop-color="#00ff00"/><stop offset="0.8" stop-color="#00ff00"/><stop offset="0.867" stop-color="#00ff00"/><stop offset="0.933" stop-color="#00ff00"/><stop offset="1" stop-color="#00ff00"/></linearGradient>
<linearGradient id="s21" gradientUnits="userSpaceOnUse" x1="768.0" y1="0" x2="896.0" y2="0"><stop offset="0" stop-color="#00ff19"/><stop offset="0.0625" stop-color="#00ff16"/><stop offset="0.125" stop-color="#00ff13"/><stop offset="0.188" stop-color="#00ff10"/><stop offset="0.25" stop-color="#00ff0d"/><stop offset="0.312" stop-color="#00ff09"/><stop offset="0.375" stop-color="#00ff06"/><stop offset="0.438" stop-color="#00ff02"/><stop offset="0.5" stop-color="#00ff00"/><stop offset="0.562" stop-color="#00ff00"/><stop offset="0.625" stop-color="#00ff00"/><stop offset="0.688" stop-color="#00ff00"/><stop offset="0.75" stop-color="#00ff00"/><stop offset="0.812" stop-color="#00ff00"/><stop offset="0.875" stop-color="#00ff00"/><stop offset="0.938" stop-color="#00ff00"/><stop offset="1" stop-color="#00ff00"/></linearGradient>
<linearGradient id="s22" gradientUnits="userSpaceOnUse" x1="768.0" y1="0" x2="896.0" y2="0"><stop offset="0" stop-color="#00ff1b"/><stop offset="0.0625" stop-color="#00ff18"/><stop offset="0.125" stop-color="#00ff15"/><stop offset="0.188" stop-color="#00ff11"/><stop offset="0.25" stop-color="#00ff0e"/><stop offset="0.312" stop-color="#00ff0b"/><stop offset="0.375" stop-color="#00ff07"/><stop offset="0.438" stop-color="#00ff04"/><stop offset="0.5" stop-color="#00ff00"/><stop offset="0.562" stop-color="#00ff00"/><stop offset="0.625" stop-color="#00ff00"/><stop offset="0.688" stop-color="#00ff00"/><stop offset="0.75" stop-color="#00ff00"/><stop offset="0.812" stop-color="#00ff00"/><stop offset="0.875" stop-color="#00ff00"/><stop offset="0.938" stop-color="#00ff00"/><stop offset="1" stop-color="#00ff00"/></linearGradient>
<linearGradient id="s23" gradientUnits="userSpaceOnUse" x1="768.0" y1="0" x2="896.0" y2="0"><stop offset="0" stop-color="#00ff1c"/><stop offset="0.0625" stop-color="#00ff19"/><stop offset="0.125" stop-color="#00ff16"/><stop offset="0.188" stop-color="#00ff13"/><stop offset="0.25" stop-color="#00ff0f"/><stop offset="0.312" stop-color="#00ff0c"/><stop offset="0.375" stop-color="#00ff09"/><stop offset="0.438" stop-color="#00ff05"/><stop offset="0.5" stop-color="#00ff01"/><stop offset="0.562" stop-color="#00ff00"/><stop offset="0.625" stop-color="#00ff00"/><stop offset="0.688" stop-color="#00ff00"/><stop offset="0.75" stop-color="#00ff00"/><stop offset="0.812" stop-color="#00ff00"/><stop offset="0.875" stop-color="#00ff00"/><stop offset="0.938" stop-color="#00ff00"/><stop offset="1" stop-color="#00ff00"/></linearGradient>
<linearGradient id="s24" gradientUnits="userSpaceOnUse" x1="768.0" y1="0" x2="904.0" y2="0"><stop offset="0" stop-color="#00ff1e"/><stop offset="0.0588" stop-color="#00ff1b"/><stop offset="0.118" stop-color="#00ff17"/><stop offset="0.176" stop-color="#00ff14"/><stop offset="0.235" stop-color="#00ff11"/><stop offset="0.294" stop-color="#00ff0e"/><stop offset="0.353" stop-color="#00ff0a"/><stop offset="0.412" stop-color="#00ff06"/><stop offset="0.471" stop-color="#00ff03"/><stop offset="0.529" stop-color="#00ff00"/><stop offset="0.588" stop-color="#00ff00"/><stop offset="0.647" stop-color="#00ff00"/><stop offset="0.706" stop-color="#00ff00"/><stop offset="0.765" stop-color="#00ff00"/><stop offset="0.824" stop-color="#00ff00"/><stop offset="0.882" stop-color="#00ff00"/><stop offset="0.941" stop-color="#00ff00"/><stop offset="1" stop-color="#00ff00"/></linearGradient>
<linearGradient id="s25" gradientUnits="userSpaceOnUse" x1="768.0" y1="0" x2="904.0" y2="0"><stop offset="0" stop-color="#00ff1f"/><stop offset="0.0588" stop-color="#00ff1c"/><stop offset="0.118" stop-color="#00ff19"/><stop offset="0.176" stop-color="#00ff16"/><stop offset="0.235" stop-color="#00ff12"/><stop offset="0.294" stop-color="#00ff0f"/><stop offset="0.353" stop-color="#00ff0c"/><stop offset="0.412" stop-color="#00ff08"/><stop offset="0.471" stop-color="#00ff04"/><stop offset="0.529" stop-color="#00ff00"/><stop offset="0.588" stop-color="#00ff00"/><stop offset="0.647" stop-color="#00ff00"/><stop offset="0.706" stop-color="#00ff00"/><stop offset="0.765" stop-color="#00ff00"/><stop offset="0.824" stop-color="#00ff00"/><stop offset="0.882" stop-color="#00ff00"/><stop offset="0.941" stop-color="#00ff00"/><stop offset="1" stop-color="#00ff00"/></linearGradient>
<linearGradient id="s26" gradientUnits="userSpaceOnUse" x1="768.0" y1="0" x2="904.0" y2="0"><stop offset="0" stop-color="#00ff21"/><stop offset="0.0588" stop-color="#00ff1e"/><stop offset="0.118" stop-color="#00ff1a"/><stop offset="0.176" stop-color="#00ff17"/><stop offset="0.235" stop-color="#00ff14"/><stop offset="0.294" stop-color="#00ff11"/><stop offset="0.353" stop-color="#00ff0d"/><stop offset="0.412" stop-color="#00ff09"/><stop offset="0.471" stop-color="#00ff06"/><stop offset="0.529" stop-color="#00ff02"/><stop offset="0.588" stop-color="#00ff00"/><stop offset="0.647" stop-color="#00ff00"/><stop offset="0.706" stop-color="#00ff00"/><stop offset="0.765" stop-color="#00ff00"/><stop offset="0.824" stop-color="#00ff00"/><stop offset="0.882" stop-color="#00ff00"/><stop offset="0.941" stop-color="#00ff00"/><stop offset="1" stop-color="#00ff00"/></linearGradient>
<linearGradient id="s27" gradientUnits="userSpaceOnUse" x1="760.0" y1="0" x2="912.0" y2="0"><stop offset="0" stop-color="#00ff25"/><stop offset="0.0526" stop-color="#00ff22"/><stop offset="0.105" stop-color="#00ff1f"/><stop offset="0.158" stop-color="#00ff1c"/><stop offset="0.211" stop-color="#00ff19"/><stop offset="0.263" stop-color="#00ff16"/><stop offset="0.316" stop-color="#00ff12"/><stop offset="0.368" stop-color="#00ff0f"/><stop offset="0.421" stop-color="#00ff0b"/><stop offset="0.474" stop-color="#00ff07"/><stop offset="0.526" stop-color="#00ff03"/><stop offset="0.579" stop-color="#00ff00"/><stop offset="0.632" stop-color="#00ff00"/><stop offset="0.684" stop-color="#00ff00"/><stop offset="0.737" stop-color="#00ff00"/><stop offset="0.789" stop-color="#00ff00"/><stop offset="0.842" stop-color="#00ff00"/><stop offset="0.895" stop-color="#00ff00"/><stop offset="0.947" stop-color="#00ff00"/><stop offset="1" stop-color="#00ff00"/></linearGradient>
<linearGradient id="s28" gradientUnits="userSpaceOnUse" x1="760.0" y1="0" x2="912.0" y2="0"><stop offset="0" stop-color="#00ff27"/><stop offset="0.0526" stop-color="#00ff24"/><stop offset="0.105" stop-color="#00ff21"/><stop offset="0.158" stop-color="#00ff1e"/><stop offset="0.211" stop-color="#00ff1a"/><stop offset="0.263" stop-color="#00ff17"/><stop offset="0.316" stop-color="#00ff14"/><stop offset="0.368" stop-color="#00ff10"/><stop offset="0.421" stop-color="#00ff0d"/><stop offset="0.474" stop-color="#00ff09"/><stop offset="0.526" stop-color="#00ff05"/><stop offset="0.579" stop-color="#00ff01"/><stop offset="0.632" stop-color="#00ff00"/><stop offset="0.684" stop-color="#00ff00"/><stop offset="0.737" stop-color="#00ff00"/><stop offset="0.789" stop-color="#00ff00"/><stop offset="0.842" stop-color="#00ff00"/><stop offset="0.895" stop-color="#00ff00"/><stop offset="0.947" stop-color="#00ff00"/><stop offset="1" stop-color="#00ff00"/></linearGradient>
<linearGradient id="s29" gradientUnits="userSpaceOnUse" x1="760.0" y1="0" x2="912.0" y2="0"><stop offset="0" stop-color="#00ff28"/><stop offset="0.0526" stop-color="#00ff25"/><stop offset="0.105" stop-color="#00ff22"/><stop offset="0.158" stop-color="#00ff1f"/><stop offset="0.211" stop-color="#00ff1c"/><stop offset="0.263" stop-color="#00ff19"/><stop offset="0.316" stop-color="#00ff15"/><stop offset="0.368" stop-color="#00ff12"/><stop offset="0.421" stop-color="#00ff0e"/><stop offset="0.474" stop-color="#00ff0a"/><stop offset="0.526" stop-color="#00ff06"/><stop offset="0.579" stop-color="#00ff02"/><stop offset="0.632" stop-color="#00ff00"/><stop offset="0.684" stop-color="#00ff00"/><stop offset="0.737" stop-color="#00ff00"/><stop offset="0.789" stop-color="#00ff00"/><stop offset="0.842" stop-color="#00ff00"/><stop offset="0.895" stop-color="#00ff00"/><stop offset="0.947" stop-color="#00ff00"/><stop offset="1" stop-color="#00ff00"/></linearGradient>
<linearGradient id="s30" gradientUnits="userSpaceOnUse" x1="760.0" y1="0" x2="920.0" y2="0"><stop offset="0" stop-color="#00ff2a"/><stop offset="0.05" stop-color="#00ff27"/><stop offset="0.1" stop-color="#00ff24"/><stop offset="0.15" stop-color="#00ff21"/><stop offset="0.2" stop-color="#00ff1e"/><stop offset="0.25" stop-color="#00ff1a"/><stop offset="0.3" stop-color="#00ff17"/><stop offset="0.35" stop-color="#00ff13"/><stop offset="0.4" stop-color="#00ff10"/><stop offset="0.45" stop-color="#00ff0c"/><stop offset="0.5" stop-color="#00ff08"/><stop offset="0.55" stop-color="#00ff04"/><stop offset="0.6" stop-color="#00ff00"/><stop offset="0.65" stop-color="#00ff00"/><stop offset="0.7" stop-color="#00ff00"/><stop offset="0.75" stop-color="#00ff00"/><stop offset="0.8" stop-color="#00ff00"/><stop offset="0.85" stop-color="#00ff00"/><stop offset="0.9" stop-color="#00ff00"/><stop offset="0.95" stop-color="#02ff00"/><stop offset="1" stop-color="#14ff00"/></linearGradient>
<linearGradient id="s31" gradientUnits="userSpaceOnUse" x1="760.0" y1="0" x2="920.0" y2="0"><stop offset="0" stop-color="#00ff2c"/><stop offset="0.05" stop-color="#00ff29"/><stop offset="0.1" stop-color="#00ff26"/><stop offset="0.15" stop-color="#00ff22"/><stop offset="0.2" stop-color="#00ff1f"/><stop offset="0.25" stop-color="#00ff1c"/><stop offset="0.3" stop-color="#00ff18"/><stop offset="0.35" stop-color="#00ff15"/><stop offset="0.4" stop-color="#00ff11"/><stop offset="0.45" stop-color="#00ff0e"/><stop offset="0.5" stop-color="#00ff0a"/><stop offset="0.55" stop-color="#00ff06"/><stop offset="0.6" stop-color="#00ff02"/><stop offset="0.65" stop-color="#00ff00"/><stop offset="0.7" stop-color="#00ff00"/><stop offset="0.75" stop-color="#00ff00"/><stop offset="0.8" stop-color="#00ff00"/><stop offset="0.85" stop-color="#00ff00"/><stop offset="0.9" stop-color="#00ff00"/><stop offset="0.95" stop-color="#03ff00"/><stop offset="1" stop-color="#16ff00"/></linearGradient>
<linearGradient id="s32" gradientUnits="userSpaceOnUse" x1="760.0" y1="0" x2="920.0" y2="0"><stop offset="0" stop-color="#00ff2d"/><stop offset="0.05" stop-color="#00ff2a"/><stop offset="0.1" stop-color="#00ff27"/><stop offset="0.15" stop-color="#00ff24"/><stop offset="0.2" stop-color="#00ff21"/><stop offset="0.25" stop-color="#00ff1e"/><stop offset="0.3" stop-color="#00ff1a"/><stop offset="0.35" stop-color="#00ff17"/><stop offset="0.4" stop-color="#00ff13"/><stop offset="0.45" stop-color="#00ff0f"/><stop offset="0.5" stop-color="#00ff0b"/><stop offset="0.55" stop-color="#00ff07"/><stop offset="0.6" stop-color="#00ff03"/><stop offset="0.65" stop-color="#00ff00"/><stop offset="0.7" stop-color="#00ff00"/><stop offset="0.75" stop-color="#00ff00"/><stop offset="0.8" stop-color="#00ff00"/><stop offset="0.85" stop-color="#00ff00"/><stop offset="0.9" stop-color="#00ff00"/><stop offset="0.95" stop-color="#05ff00"/><stop offset="1" stop-color="#17ff00"/></linearGradient>
<linearGradient id="s33" gradientUnits="userSpaceOnUse" x1="760.0" y1="0" x2="928.0" y2="0"><stop offset="0" stop-color="#00ff2f"/><stop offset="0.0476" stop-color="#00ff2c"/><stop offset="0.0952" stop-color="#00ff29"/><stop offset="0.143" stop-color="#00ff26"/><stop offset="0.19" stop-color="#00ff23"/><stop offset="0.238" stop-color="#00ff1f"/><stop offset="0.286" stop-color="#00ff1c"/><stop offset="0.333" stop-color="#00ff18"/><stop offset="0.381" stop-color="#00ff15"/><stop offset="0.429" stop-color="#00ff11"/><stop offset="0.476" stop-color="#00ff0d"/><stop offset="0.524" stop-color="#00ff09"/><stop offset="0.571" stop-color="#00ff05"/><stop offset="0.619" stop-color="#00ff00"/><stop offset="0.667" stop-color="#00ff00"/><stop offset="0.714" stop-color="#00ff00"/><stop offset="0.762" stop-color="#00ff00"/><stop offset="0.81" stop-color="#00ff00"/><stop offset="0.857" stop-color="#00ff00"/><stop offset="0.905" stop-color="#06ff00"/><stop offset="0.952" stop-color="#19ff00"/><stop offset="1" stop-color="#2dff00"/></linearGradient>
<linearGradient id="s34" gradientUnits="userSpaceOnUse" x1="760.0" y1="0" x2="928.0" y2="0"><stop offset="0" stop-color="#00ff31"/><stop offset="0.0476" stop-color="#00ff2e"/><stop offset="0.0952" stop-color="#00ff2b"/><stop offset="0.143" stop-color="#00ff28"/><stop offset="0.19" stop-color="#00ff24"/><stop offset="0.238" stop-color="#00ff21"/><stop offset="0.286" stop-color="#00ff1e"/><stop offset="0.333" stop-color="#00ff1a"/><stop offset="0.381" stop-color="#00ff16"/><stop offset="0.429" stop-color="#00ff13"/><stop offset="0.476" stop-color="#00ff0f"/><stop offset="0.524" stop-color="#00ff0b"/><stop offset="0.571" stop-color="#00ff06"/><stop offset="0.619" stop-color="#00ff02"/><stop offset="0.667" stop-color="#00ff00"/><stop offset="0.714" stop-color="#00ff00"/><stop offset="0.762" stop-color="#00ff00"/><stop offset="0.81" stop-color="#00ff00"/><stop offset="0.857" stop-color="#00ff00"/><stop offset="0.905" stop-color="#08ff00"/><stop offset="0.952" stop-color="#1bff00"/><stop offset="1" stop-color="#2fff00"/></linearGradient>
<linearGradient id="s35" gradientUnits="userSpaceOnUse" x1="760.0" y1="0" x2="928.0" y2="0"><stop offset="0" stop-color="#00ff32"/><stop offset="0.0476" stop-color="#00ff2f"/><stop offset="0.0952" stop-color="#00ff2c"/><stop offset="0.143" stop-color="#00ff29"/><stop offset="0.19" stop-color="#00ff26"/><stop offset="0.238" stop-color="#00ff23"/><stop offset="0.286" stop-color="#00ff1f"/><stop offset="0.333" stop-color="#00ff1c"/><stop offset="0.381" stop-color="#00ff18"/><stop offset="0.429" stop-color="#00ff14"/><stop offset="0.476" stop-color="#00ff10"/><stop offset="0.524" stop-color="#00ff0c"/><stop offset="0.571" stop-color="#00ff08"/><stop offset="0.619" stop-color="#00ff04"/><stop offset="0.667" stop-color="#00ff00"/><stop offset="0.714" stop-color="#00ff00"/><stop offset="0.762" stop-color="#00ff00"/><stop offset="0.81" stop-color="#00ff00"/><stop offset="0.857" stop-color="#00ff00"/><stop offset="0.905" stop-color="#0aff00"/><stop offset="0.952" stop-color="#1dff00"/><stop offset="1" stop-color="#31ff00"/></linearGradient>
<linearGradient id="s36" gradientUnits="userSpaceOnUse" x1="760.0" y1="0" x2="928.0" y2="0"><stop offset="0" stop-color="#00ff34"/><stop offset="0.0476" stop-color="#00ff31"/><stop offset="0.0952" stop-color="#00ff2e"/><stop offset="0.143" stop-color="#00ff2b"/><stop offset="0.19" stop-color="#00ff28"/><stop offset="0.238" stop-color="#00ff25"/><stop offset="0.286" stop-color="#00ff21"/><stop offset="0.333" stop-color="#00ff1e"/><stop offset="0.381" stop-color="#00ff1a"/><stop offset="0.429" stop-color="#00ff16"/><stop offset="0.476" stop-color="#00ff12"/><stop offset="0.524" stop-color="#00ff0e"/><stop offset="0.571" stop-color="#00ff0a"/><stop offset="0.619" stop-color="#00ff06"/><stop offset="0.667" stop-color="#00ff01"/><stop offset="0.714" stop-color="#00ff00"/><stop offset="0.762" stop-color="#00ff00"/><stop offset="0.81" stop-color="#00ff00"/><stop offset="0.857" stop-color="#00ff00"/><stop offset="0.905" stop-color="#0bff00"/><stop offset="0.952" stop-color="#1fff00"/><stop offset="1" stop-color="#33ff00"/></linearGradient>
<linearGradient id="s37" gradientUnits="userSpaceOnUse" x1="760.0" y1="0" x2="936.0" y2="0"><stop offset="0" stop-color="#00ff36"/><stop offset="0.0455" stop-color="#00ff33"/><stop offset="0.0909" stop-color="#00ff30"/><stop offset="0.136" stop-color="#00ff2d"/><stop offset="0.182" stop-color="#00ff2a"/><stop offset="0.227" stop-color="#00ff26"/><stop offset="0.273" stop-color="#00ff23"/><stop offset="0.318" stop-color="#00ff1f"/><stop offset="0.364" stop-color="#00ff1c"/><stop offset="0.409" stop-color="#00ff18"/><stop offset="0.455" stop-color="#00ff14"/><stop offset="0.5" stop-color="#00ff10"/><stop offset="0.545" stop-color="#00ff0c"/><stop offset="0.591" stop-color="#00ff07"/><stop offset="0.636" stop-color="#00ff03"/><stop offset="0.682" stop-color="#00ff00"/><stop offset="0.727" stop-color="#00ff00"/><stop offset="0.773" stop-color="#00ff00"/><stop offset="0.818" stop-color="#00ff00"/><stop offset="0.864" stop-color="#0dff00"/><stop offset="0.909" stop-color="#21ff00"/><stop offset="0.955" stop-color="#36ff00"/><stop offset="1" stop-color="#4bff00"/></linearGradient>
<linearGradient id="s38" gradientUnits="userSpaceOnUse" x1="760.0" y1="0" x2="936.0" y2="0"><stop offset="0" stop-color="#00ff38"/><stop offset="0.0455" stop-color="#00ff35"/><stop offset="0.0909" stop-color="#00ff32"/><stop offset="0.136" stop-color="#00ff2f"/><stop offset="0.182" stop-color="#00ff2c"/><stop offset="0.227" stop-color="#00ff28"/><stop offset="0.273" stop-color="#00ff25"/><stop offset="0.318" stop-color="#00ff21"/><stop offset="0.364" stop-color="#00ff1e"/><stop offset="0.409" stop-color="#00ff1a"/><stop offset="0.455" stop-color="#00ff16"/><stop offset="0.5" stop-color="#00ff12"/><stop offset="0.545" stop-color="#00ff0e"/><stop offset="0.591" stop-color="#00ff09"/><stop offset="0.636" stop-color="#00ff05"/><stop offset="0.682" stop-color="#00ff00"/><stop offset="0.727" stop-color="#00ff00"/><stop offset="0.773" stop-color="#00ff00"/><stop offset="0.818" stop-color="#00ff00"/><stop offset="0.864" stop-color="#0fff00"/><stop offset="0.909" stop-color="#23ff00"/><stop offset="0.955" stop-color="#38ff00"/><stop offset="1" stop-color="#4eff00"/></linearGradient>
<linearGradient id="s39" gradientUnits="userSpaceOnUse" x1="760.0" y1="0" x2="936.0" y2="0"><stop offset="0" stop-color="#00ff3a"/><stop offset="0.0455" stop-color="#00ff37"/><stop offset="0.0909" stop-color="#00ff34"/><stop offset="0.136" stop-color="#00ff31"/><stop offset="0.182" stop-color="#00ff2d"/><stop offset="0.227" stop-color="#00ff2a"/><stop offset="0.273" stop-color="#00ff27"/><stop offset="0.318" stop-color="#00ff23"/><stop offset="0.364" stop-color="#00ff1f"/><stop offset="0.409" stop-color="#00ff1c"/><stop offset="0.455" stop-color="#00ff18"/><stop offset="0.5" stop-color="#00ff14"/><stop offset="0.545" stop-color="#00ff0f"/><stop offset="0.591" stop-color="#00ff0b"/><stop offset="0.636" stop-color="#00ff06"/><stop offset="0.682" stop-color="#00ff02"/><stop offset="0.727" stop-color="#00ff00"/><stop offset="0.773" stop-color="#00ff00"/><stop offset="0.818" stop-color="#00ff00"/><stop offset="0.864" stop-color="#11ff00"/><stop offset="0.909" stop-color="#25ff00"/><stop offset="0.955" stop-color="#3aff00"/><stop offset="1" stop-color="#50ff00"/></linearGradient>
<linearGradient id="s40" gradientUnits="userSpaceOnUse" x1="760.0" y1="0" x2="944.0" y2="0"><stop offset="0" stop-color="#00ff3c"/><stop offset="0.0435" stop-color="#00ff39"/><stop offset="0.087" stop-color="#00ff36"/><stop offset="0.13" stop-color="#00ff33"/><stop offset="0.174" stop-color="#00ff2f"/><stop offset="0.217" stop-color="#00ff2c"/><stop offset="0.261" stop-color="#00ff29"/><stop offset="0.304" stop-color="#00ff25"/><stop offset="0.348" stop-color="#00ff21"/><stop offset="0.391" stop-color="#00ff1e"/><stop offset="0.435" stop-color="#00ff1a"/><stop offset="0.478" stop-color="#00ff16"/><stop offset="0.522" stop-color="#00ff11"/><stop offset="0.565" stop-color="#00ff0d"/><stop offset="0.609" stop-color="#00ff08"/><stop offset="0.652" stop-color="#00ff04"/><stop offset="0.696" stop-color="#00ff00"/><stop offset="0.739" stop-color="#00ff00"/><stop offset="0.783" stop-color="#00ff00"/><stop offset="0.826" stop-color="#12ff00"/><stop offset="0.87" stop-color="#27ff00"/><stop offset="0.913" stop-color="#3dff00"/><stop offset="0.957" stop-color="#53ff00"/><stop offset="1" stop-color="#6aff00"/></linearGradient>
<linearGradient id="s41" gradientUnits="userSpaceOnUse" x1="760.0" y1="0" x2="944.0" y2="0"><stop offset="0" stop-color="#00ff3e"/><stop offset="0.0435" stop-color="#00ff3b"/><stop offset="0.087" stop-color="#00ff38"/><stop offset="0.13" stop-color="#00ff34"/><stop offset="0.174" stop-color="#00ff31"/><stop offset="0.217" stop-color="#00ff2e"/><stop offset="0.261" stop-color="#00ff2a"/><stop offset="0.304" stop-color="#00ff27"/><stop offset="0.348" stop-color="#00ff23"/><stop offset="0.391" stop-color="#00ff1f"/><stop offset="0.435" stop-color="#00ff1c"/><stop offset="0.478" stop-color="#00ff17"/><stop offset="0.522" stop-color="#00ff13"/><stop offset="0.565" stop-color="#00ff0f"/><stop offset="0.609" stop-color="#00ff0a"/><stop offset="0.652" stop-color="#00ff06"/><stop offset="0.696" stop-color="#00ff01"/><stop offset="0.739" stop-color="#00ff00"/><stop offset="0.783" stop-color="#00ff00"/><stop offset="0.826" stop-color="#14ff00"/><stop offset="0.87" stop-color="#29ff00"/><stop offset="0.913" stop-color="#3fff00"/><stop offset="0.957" stop-color="#56ff00"/><stop offset="1" stop-color="#6eff00"/></linearGradient>
<linearGradient id="s42" gradientUnits="userSpaceOnUse" x1="760.0" y1="0" x2="944.0" y2="0"><stop offset="0" stop-color="#00ff40"/><stop offset="0.0435" stop-color="#00ff3d"/><stop offset="0.087" stop-color="#00ff3a"/><stop offset="0.13" stop-color="#00ff36"/><stop offset="0.174" stop-color="#00ff33"/><stop offset="0.217" stop-color="#00ff30"/><stop offset="0.261" stop-color="#00ff2c"/><stop offset="0.304" stop-color="#00ff29"/><stop offset="0.348" stop-color="#00ff25"/><stop offset="0.391" stop-color="#00ff21"/><stop offset="0.435" stop-color="#00ff1d"/><stop offset="0.478" stop-color="#00ff19"/><stop offset="0.522" stop-color="#00ff15"/><stop offset="0.565" stop-color="#00ff11"/><stop offset="0.609" stop-color="#00ff0c"/><stop offset="0.652" stop-color="#00ff07"/><stop offset="0.696" stop-color="#00ff03"/><stop offset="0.739" stop-color="#00ff00"/><stop offset="0.783" stop-color="#02ff00"/><stop offset="0.826" stop-color="#16ff00"/><stop offset="0.87" stop-color="#2bff00"/><stop offset="0.913" stop-color="#42ff00"/><stop offset="0.957" stop-color="#59ff00"/><stop offset="1" stop-color="#71ff00"/></linearGradient>
<linearGradient id="s43" gradientUnits="userSpaceOnUse" x1="760.0" y1="0" x2="952.0" y2="0"><stop offset="0" stop-color="#00ff41"/><stop offset="0.0417" stop-color="#00ff3f"/><stop offset="0.0833" stop-color="#00ff3c"/><stop offset="0.125" stop-color="#00ff38"/><stop offset="0.167" stop-color="#00ff35"/><stop offset="0.208" stop-color="#00ff32"/><stop offset="0.25" stop-color="#00ff2e"/><stop offset="0.292" stop-color="#00ff2b"/><stop offset="0.333" stop-color="#00ff27"/><stop offset="0.375" stop-color="#00ff23"/><stop offset="0.417" stop-color="#00ff20"/><stop offset="0.458" stop-color="#00ff1b"/><stop offset="0.5" stop-color="#00ff17"/><stop offset="0.542" stop-color="#00ff13"/><stop offset="0.583" stop-color="#00ff0e"/><stop offset="0.625" stop-color="#00ff09"/><stop offset="0.667" stop-color="#00ff04"/><stop offset="0.708" stop-color="#00ff00"/><stop offset="0.75" stop-color="#04ff00"/><stop offset="0.792" stop-color="#18ff00"/><stop offset="0.833" stop-color="#2eff00"/><stop offset="0.875" stop-color="#44ff00"/><stop offset="0.917" stop-color="#5cff00"/><stop offset="0.958" stop-color="#74ff00"/><stop offset="1" stop-color="#8eff00"/></linearGradient>
<linearGradient id="s44" gradientUnits="userSpaceOnUse" x1="760.0" y1="0" x2="952.0" y2="0"><stop offset="0" stop-color="#00ff44"/><stop offset="0.0417" stop-color="#00ff41"/><stop offset="0.0833" stop-color="#00ff3e"/><stop offset="0.125" stop-color="#00ff3a"/><stop offset="0.167" stop-color="#00ff37"/><stop offset="0.208" stop-color="#00ff34"/><stop offset="0.25" stop-color="#00ff31"/><stop offset="0.292" stop-color="#00ff2d"/><stop offset="0.333" stop-color="#00ff29"/><stop offset="0.375" stop-color="#00ff26"/><stop offset="0.417" stop-color="#00ff22"/><stop offset="0.458" stop-color="#00ff1d"/><stop offset="0.5" stop-color="#00ff19"/><stop offset="0.542" stop-color="#00ff15"/><stop offset="0.583" stop-color="#00ff10"/><stop offset="0.625" stop-color="#00ff0b"/><stop offset="0.667" stop-color="#00ff06"/><stop offset="0.708" stop-color="#00ff01"/><stop offset="0.75" stop-color="#05ff00"/><stop offset="0.792" stop-color="#1aff00"/><stop offset="0.833" stop-color="#30ff00"/><stop offset="0.875" stop-color="#47ff00"/><stop offset="0.917" stop-color="#5fff00"/><stop offset="0.958" stop-color="#78ff00"/><stop offset="1" stop-color="#92ff00"/></linearGradient>
<linearGradient id="s45" gradientUnits="userSpaceOnUse" x1="760.0" y1="0" x2="952.0" y2="0"><stop offset="0" stop-color="#00ff46"/><stop offset="0.0417" stop-color="#00ff43"/><stop offset="0.0833" stop-color="#00ff40"/><stop offset="0.125" stop-color="#00ff3d"/><stop offset="0.167" stop-color="#00ff39"/><stop offset="0.208" stop-color="#00ff36"/><stop offset="0.25" stop-color="#00ff33"/><stop offset="0.292" stop-color="#00ff2f"/><stop offset="0.333" stop-color="#00ff2b"/><stop offset="0.375" stop-color="#00ff28"/><stop offset="0.417" stop-color="#00ff24"/><stop offset="0.458" stop-color="#00ff20"/><stop offset="0.5" stop-color="#00ff1b"/><stop offset="0.542" stop-color="#00ff17"/><stop offset="0.583" stop-color="#00ff12"/><stop offset="0.625" stop-color="#00ff0e"/><stop offset="0.667" stop-color="#00ff09"/><stop offset="0.708" stop-color="#00ff03"/><stop offset="0.75" stop-color="#07ff00"/><stop offset="0.792" stop-color="#1cff00"/><stop offset="0.833" stop-color="#32ff00"/><stop offset="0.875" stop-color="#49ff00"/><stop offset="0.917" stop-color="#62ff00"/><stop offset="0.958" stop-color="#7bff00"/><stop offset="1" stop-color="#96ff00"/></linearGradient>
<linearGradient id="s46" gradientUnits="userSpaceOnUse" x1="760.0" y1="0" x2="960.0" y2="0"><stop offset="0" stop-color="#00ff48"/><stop offset="0.04" stop-color="#00ff45"/><stop offset="0.08" stop-color="#00ff42"/><stop offset="0.12" stop-color="#00ff3f"/><stop offset="0.16" stop-color="#00ff3b"/><stop offset="0.2" stop-color="#00ff38"/><stop offset="0.24" stop-color="#00ff35"/><stop offset="0.28" stop-color="#00ff31"/><stop offset="0.32" stop-color="#00ff2e"/><stop offset="0.36" stop-color="#00ff2a"/><stop offset="0.4" stop-color="#00ff26"/><stop offset="0.44" stop-color="#00ff22"/><stop offset="0.48" stop-color="#00ff1d"/><stop offset="0.52" stop-color="#00ff19"/><stop offset="0.56" stop-color="#00ff14"/><stop offset="0.6" stop-color="#00ff10"/><stop offset="0.64" stop-color="#00ff0b"/><stop offset="0.68" stop-color="#00ff05"/><stop offset="0.72" stop-color="#09ff00"/><stop offset="0.76" stop-color="#1eff00"/><stop offset="0.8" stop-color="#35ff00"/><stop offset="0.84" stop-color="#4cff00"/><stop offset="0.88" stop-color="#65ff00"/><stop offset="0.92" stop-color="#7fff00"/><stop offset="0.96" stop-color="#9aff00"/><stop offset="1" stop-color="#b6ff00"/></linearGradient>
<linearGradient id="s47" gradientUnits="userSpaceOnUse" x1="760.0" y1="0" x2="960.0" y2="0"><stop offset="0" stop-color="#00ff4a"/><stop offset="0.04" stop-color="#00ff47"/><stop offset="0.08" stop-color="#00ff44"/><stop offset="0.12" stop-color="#00ff41"/><stop offset="0.16" stop-color="#00ff3e"/><stop offset="0.2" stop-color="#00ff3a"/><stop offset="0.24" stop-color="#00ff37"/><stop offset="0.28" stop-color="#00ff33"/><stop offset="0.32" stop-color="#00ff30"/><stop offset="0.36" stop-color="#00ff2c"/><stop offset="0.4" stop-color="#00ff28"/><stop offset="0.44" stop-color="#00ff24"/><stop offset="0.48" stop-color="#00ff20"/><stop offset="0.52" stop-color="#00ff1b"/><stop offset="0.56" stop-color="#00ff17"/><stop offset="0.6" stop-color="#00ff12"/><stop offset="0.64" stop-color="#00ff0d"/><stop offset="0.68" stop-color="#00ff08"/><stop offset="0.72" stop-color="#0bff02"/><stop offset="0.76" stop-color="#21ff00"/><stop offset="0.8" stop-color="#37ff00"/><stop offset="0.84" stop-color="#4fff00"/><stop offset="0.88" stop-color="#68ff00"/><stop offset="0.92" stop-color="#82ff00"/><stop offset="0.96" stop-color="#9eff00"/><stop offset="1" stop-color="#bbff00"/></linearGradient>
<linearGradient id="s48" gradientUnits="userSpaceOnUse" x1="760.0" y1="0" x2="960.0" y2="0"><stop offset="0" stop-color="#00ff4c"/><stop offset="0.04" stop-color="#00ff49"/><stop offset="0.08" stop-color="#00ff46"/><stop offset="0.12" stop-color="#00ff43"/><stop offset="0.16" stop-color="#00ff40"/><stop offset="0.2" stop-color="#00ff3d"/><stop offset="0.24" stop-color="#00ff39"/><stop offset="0.28" stop-color="#00ff36"/><stop offset="0.32" stop-color="#00ff32"/><stop offset="0.36" stop-color="#00ff2e"/><stop offset="0.4" stop-color="#00ff2a"/><stop offset="0.44" stop-color="#00ff26"/><stop offset="0.48" stop-color="#00ff22"/><stop offset="0.52" stop-color="#00ff1d"/><stop offset="0.56" stop-color="#00ff19"/><stop offset="0.6" stop-color="#00ff14"/><stop offset="0.64" stop-color="#00ff0f"/><stop offset="0.68" stop-color="#00ff0a"/><stop offset="0.72" stop-color="#0dff04"/><stop offset="0.76" stop-color="#23ff00"/><stop offset="0.8" stop-color="#3aff00"/><stop offset="0.84" stop-color="#52ff00"/><stop offset="0.88" stop-color="#6bff00"/><stop offset="0.92" stop-color="#86ff00"/><stop offset="0.96" stop-color="#a2ff00"/><stop offset="1" stop-color="#c0ff00"/></linearGradient>
<linearGradient id="s49" gradientUnits="userSpaceOnUse" x1="760.0" y1="0" x2="960.0" y2="0"><stop offset="0" stop-color="#00ff4e"/><stop offset="0.04" stop-color="#00ff4b"/><stop offset="0.08" stop-color="#00ff48"/><stop offset="0.12" stop-color="#00ff45"/><stop offset="0.16" stop-color="#00ff42"/><stop offset="0.2" stop-color="#00ff3f"/><stop offset="0.24" stop-color="#00ff3b"/><stop offset="0.28" stop-color="#00ff38"/><stop offset="0.32" stop-color="#00ff34"/><stop offset="0.36" stop-color="#00ff30"/><stop offset="0.4" stop-color="#00ff2c"/><stop offset="0.44" stop-color="#00ff28"/><stop offset="0.48" stop-color="#00ff24"/><stop offset="0.52" stop-color="#00ff20"/><stop offset="0.56" stop-color="#00ff1b"/><stop offset="0.6" stop-color="#00ff16"/><stop offset="0.64" stop-color="#00ff11"/><stop offset="0.68" stop-color="#00ff0c"/><stop offset="0.72" stop-color="#0fff06"/><stop offset="0.76" stop-color="#25ff01"/><stop offset="0.8" stop-color="#3cff00"/><stop offset="0.84" stop-color="#55ff00"/><stop offset="0.88" stop-color="#6fff00"/><stop offset="0.92" stop-color="#8aff00"/><stop offset="0.96" stop-color="#a7ff00"/><stop offset="1" stop-color="#c5ff00"/></linearGradient>
<linearGradient id="s50" gradientUnits="userSpaceOnUse" x1="760.0" y1="0" x2="968.0" y2="0"><stop offset="0" stop-color="#00ff50"/><stop offset="0.0385" stop-color="#00ff4e"/><stop offset="0.0769" stop-color="#00ff4b"/><stop offset="0.115" stop-color="#00ff48"/><stop offset="0.154" stop-color="#00ff44"/><stop offset="0.192" stop-color="#00ff41"/><stop offset="0.231" stop-color="#00ff3e"/><stop offset="0.269" stop-color="#00ff3a"/><stop offset="0.308" stop-color="#00ff37"/><stop offset="0.346" stop-color="#00ff33"/><stop offset="0.385" stop-color="#00ff2f"/><stop offset="0.423" stop-color="#00ff2b"/><stop offset="0.462" stop-color="#00ff26"/><stop offset="0.5" stop-color="#00ff22"/><stop offset="0.538" stop-color="#00ff1d"/><stop offset="0.577" stop-color="#00ff19"/><stop offset="0.615" stop-color="#00ff14"/><stop offset="0.654" stop-color="#00ff0e"/><stop offset="0.692" stop-color="#11ff09"/><stop offset="0.731" stop-color="#27ff03"/><stop offset="0.769" stop-color="#3fff00"/><stop offset="0.808" stop-color="#58ff00"/><stop offset="0.846" stop-color="#72ff00"/><stop offset="0.885" stop-color="#8eff00"/><stop offset="0.923" stop-color="#abff00"/><stop offset="0.962" stop-color="#caff00"/><stop offset="1" stop-color="#eaff00"/></linearGradient>
<linearGradient id="s51" gradientUnits="userSpaceOnUse" x1="768.0" y1="0" x2="968.0" y2="0"><stop offset="0" stop-color="#00ff50"/><stop offset="0.04" stop-color="#00ff4d"/><stop offset="0.08" stop-color="#00ff4a"/><stop offset="0.12" stop-color="#00ff47"/><stop offset="0.16" stop-color="#00ff43"/><stop offset="0.2" stop-color="#00ff40"/><stop offset="0.24" stop-color="#00ff3d"/><stop offset="0.28" stop-color="#00ff39"/><stop offset="0.32" stop-color="#00ff35"/><stop offset="0.36" stop-color="#00ff31"/><stop offset="0.4" stop-color="#00ff2d"/><stop offset="0.44" stop-color="#00ff29"/><stop offset="0.48" stop-color="#00ff24"/><stop offset="0.52" stop-color="#00ff20"/><stop offset="0.56" stop-color="#00ff1b"/><stop offset="0.6" stop-color="#00ff16"/><stop offset="0.64" stop-color="#00ff11"/><stop offset="0.68" stop-color="#13ff0b"/><stop offset="0.72" stop-color="#2aff05"/><stop offset="0.76" stop-color="#42ff00"/><stop offset="0.8" stop-color="#5bff00"/><stop offset="0.84" stop-color="#76ff00"/><stop offset="0.88" stop-color="#92ff00"/><stop offset="0.92" stop-color="#b0ff00"/><stop offset="0.96" stop-color="#cfff00"/><stop offset="1" stop-color="#f0ff00"/></linearGradient>
<linearGradient id="s52" gradientUnits="userSpaceOnUse" x1="768.0" y1="0" x2="968.0" y2="0"><stop offset="0" stop-color="#00ff52"/><stop offset="0.04" stop-color="#00ff4f"/><stop offset="0.08" stop-color="#00ff4c"/><stop offset="0.12" stop-color="#00ff49"/><stop offset="0.16" stop-color="#00ff46"/><stop offset="0.2" stop-color="#00ff42"/><stop offset="0.24" stop-color="#00ff3f"/><stop offset="0.28" stop-color="#00ff3b"/><stop offset="0.32" stop-color="#00ff38"/><stop offset="0.36" stop-color="#00ff34"/><stop offset="0.4" stop-color="#00ff30"/><stop offset="0.44" stop-color="#00ff2b"/><stop offset="0.48" stop-color="#00ff27"/><stop offset="0.52" stop-color="#00ff22"/><stop offset="0.56" stop-color="#00ff1d"/><stop offset="0.6" stop-color="#00ff18"/><stop offset="0.64" stop-color="#00ff13"/><stop offset="0.68" stop-color="#15ff0d"/><stop offset="0.72" stop-color="#2cff08"/><stop offset="0.76" stop-color="#45ff02"/><stop offset="0.8" stop-color="#5fff00"/><stop offset="0.84" stop-color="#7aff00"/><stop offset="0.88" stop-color="#96ff00"/><stop offset="0.92" stop-color="#b5ff00"/><stop offset="0.96" stop-color="#d5ff00"/><stop offset="1" stop-color="#f6ff00"/></linearGradient>
<linearGradient id="s53" gradientUnits="userSpaceOnUse" x1="768.0" y1="0" x2="976.0" y2="0"><stop offset="0" stop-color="#00ff55"/><stop offset="0.0385" stop-color="#00ff52"/><stop offset="0.0769" stop-color="#00ff4f"/><stop offset="0.115" stop-color="#00ff4b"/><stop offset="0.154" stop-color="#00ff48"/><stop offset="0.192" stop-color="#00ff45"/><stop offset="0.231" stop-color="#00ff41"/><stop offset="0.269" stop-color="#00ff3e"/><stop offset="0.308" stop-color="#00ff3a"/><stop offset="0.346" stop-color="#00ff36"/><stop offset="0.385" stop-color="#00ff32"/><stop offset="0.423" stop-color="#00ff2e"/><stop offset="0.462" stop-color="#00ff29"/><stop offset="0.5" stop-color="#00ff25"/><stop offset="0.538" stop-color="#00ff20"/><stop offset="0.577" stop-color="#00ff1b"/><stop offset="0.615" stop-color="#00ff15"/><stop offset="0.654" stop-color="#17ff10"/><stop offset="0.692" stop-color="#2fff0a"/><stop offset="0.731" stop-color="#48ff04"/><stop offset="0.769" stop-color="#62ff00"/><stop offset="0.808" stop-color="#7eff00"/><stop offset="0.846" stop-color="#9bff00"/><stop offset="0.885" stop-color="#baff00"/><stop offset="0.923" stop-color="#daff00"/><stop offset="0.962" stop-color="#fdff00"/><stop offset="1" stop-color="#ffe100"/></linearGradient>
<linearGradient id="s54" gradientUnits="userSpaceOnUse" x1="768.0" y1="0" x2="976.0" y2="0"><stop offset="0" stop-color="#00ff57"/><stop offset="0.0385" stop-color="#00ff54"/><stop offset="0.0769" stop-color="#00ff51"/><stop offset="0.115" stop-color="#00ff4e"/><stop offset="0.154" stop-color="#00ff4b"/><stop offset="0.192" stop-color="#00ff47"/><stop offset="0.231" stop-color="#00ff44"/><stop offset="0.269" stop-color="#00ff40"/><stop offset="0.308" stop-color="#00ff3d"/><stop offset="0.346" stop-color="#00ff39"/><stop offset="0.385" stop-color="#00ff35"/><stop offset="0.423" stop-color="#00ff30"/><stop offset="0.462" stop-color="#00ff2c"/><stop offset="0.5" stop-color="#00ff27"/><stop offset="0.538" stop-color="#00ff22"/><stop offset="0.577" stop-color="#00ff1d"/><stop offset="0.615" stop-color="#02ff18"/><stop offset="0.654" stop-color="#19ff12"/><stop offset="0.692" stop-color="#31ff0d"/><stop offset="0.731" stop-color="#4bff06"/><stop offset="0.769" stop-color="#65ff00"/><stop offset="0.808" stop-color="#81ff00"/><stop offset="0.846" stop-color="#9fff00"/><stop offset="0.885" stop-color="#bfff00"/><stop offset="0.923" stop-color="#e0ff00"/><stop offset="0.962" stop-color="#fffb00"/><stop offset="1" stop-color="#ffdb00"/></linearGradient>
<linearGradient id="s55" gradientUnits="userSpaceOnUse" x1="768.0" y1="0" x2="976.0" y2="0"><stop offset="0" stop-color="#00ff59"/><stop offset="0.0385" stop-color="#00ff57"/><stop offset="0.0769" stop-color="#00ff54"/><stop offset="0.115" stop-color="#00ff50"/><stop offset="0.154" stop-color="#00ff4d"/><stop offset="0.192" stop-color="#00ff4a"/><stop offset="0.231" stop-color="#00ff46"/><stop offset="0.269" stop-color="#00ff43"/><stop offset="0.308" stop-color="#00ff3f"/><stop offset="0.346" stop-color="#00ff3b"/><stop offset="0.385" stop-color="#00ff37"/><stop offset="0.423" stop-color="#00ff33"/><stop offset="0.462" stop-color="#00ff2e"/><stop offset="0.5" stop-color="#00ff2a"/><stop offset="0.538" stop-color="#00ff25"/><stop offset="0.577" stop-color="#00ff20"/><stop offset="0.615" stop-color="#04ff1b"/><stop offset="0.654" stop-color="#1bff15"/><stop offset="0.692" stop-color="#34ff0f"/><stop offset="0.731" stop-color="#4eff09"/><stop offset="0.769" stop-color="#69ff03"/><stop offset="0.808" stop-color="#86ff00"/><stop offset="0.846" stop-color="#a4ff00"/><stop offset="0.885" stop-color="#c4ff00"/><stop offset="0.923" stop-color="#e6ff00"/><stop offset="0.962" stop-color="#fff500"/><stop offset="1" stop-color="#ffd600"/></linearGradient>
<linearGradient id="s56" gradientUnits="userSpaceOnUse" x1="768.0" y1="0" x2="984.0" y2="0"><stop offset="0" stop-color="#00ff5c"/><stop offset="0.037" stop-color="#00ff59"/><stop offset="0.0741" stop-color="#00ff56"/><stop offset="0.111" stop-color="#00ff53"/><stop offset="0.148" stop-color="#00ff50"/><stop offset="0.185" stop-color="#00ff4d"/><stop offset="0.222" stop-color="#00ff49"/><stop offset="0.259" stop-color="#00ff45"/><stop offset="0.296" stop-color="#00ff42"/><stop offset="0.333" stop-color="#00ff3e"/><stop offset="0.37" stop-color="#00ff3a"/><stop offset="0.407" stop-color="#00ff36"/><stop offset="0.444" stop-color="#00ff31"/><stop offset="0.481" stop-color="#00ff2d"/><stop offset="0.519" stop-color="#00ff28"/><stop offset="0.556" stop-color="#00ff23"/><stop offset="0.593" stop-color="#06ff1d"/><stop offset="0.63" stop-color="#1eff18"/><stop offset="0.667" stop-color="#37ff12"/><stop offset="0.704" stop-color="#51ff0c"/><stop offset="0.741" stop-color="#6dff05"/><stop offset="0.778" stop-color="#8aff00"/><stop offset="0.815" stop-color="#a9ff00"/><stop offset="0.852" stop-color="#c9ff00"/><stop offset="0.889" stop-color="#ecff00"/><stop offset="0.926" stop-color="#ffee00"/><stop offset="0.963" stop-color="#ffd000"/><stop offset="1" stop-color="#ffb800"/></linearGradient>
<linearGradient id="s57" gradientUnits="userSpaceOnUse" x1="768.0" y1="0" x2="984.0" y2="0"><stop offset="0" stop-color="#00ff5f"/><stop offset="0.037" stop-color="#00ff5c"/><stop offset="0.0741" stop-color="#00ff59"/><stop offset="0.111" stop-color="#00ff56"/><stop offset="0.148" stop-color="#00ff52"/><stop offset="0.185" stop-color="#00ff4f"/><stop offset="0.222" stop-color="#00ff4c"/><stop offset="0.259" stop-color="#00ff48"/><stop offset="0.296" stop-color="#00ff44"/><stop offset="0.333" stop-color="#00ff41"/><stop offset="0.37" stop-color="#00ff3d"/><stop offset="0.407" stop-color="#00ff38"/><stop offset="0.444" stop-color="#00ff34"/><stop offset="0.481" stop-color="#00ff2f"/><stop offset="0.519" stop-color="#00ff2a"/><stop offset="0.556" stop-color="#00ff25"/><stop offset="0.593" stop-color="#08ff20"/><stop offset="0.63" stop-color="#20ff1a"/><stop offset="0.667" stop-color="#39ff15"/><stop offset="0.704" stop-color="#54ff0e"/><stop offset="0.741" stop-color="#70ff08"/><stop offset="0.778" stop-color="#8eff01"/><stop offset="0.815" stop-color="#aeff00"/><stop offset="0.852" stop-color="#cfff00"/><stop offset="0.889" stop-color="#f2ff00"/><stop offset="0.926" stop-color="#ffe800"/><stop offset="0.963" stop-color="#ffcb00"/><stop offset="1" stop-color="#ffb300"/></linearGradient>
<linearGradient id="s58" gradientUnits="userSpaceOnUse" x1="768.0" y1="0" x2="984.0" y2="0"><stop offset="0" stop-color="#00ff61"/><stop offset="0.037" stop-color="#00ff5e"/><stop offset="0.0741" stop-color="#00ff5b"/><stop offset="0.111" stop-color="#00ff58"/><stop offset="0.148" stop-color="#00ff55"/><stop offset="0.185" stop-color="#00ff52"/><stop offset="0.222" stop-color="#00ff4e"/><stop offset="0.259" stop-color="#00ff4b"/><stop offset="0.296" stop-color="#00ff47"/><stop offset="0.333" stop-color="#00ff43"/><stop offset="0.37" stop-color="#00ff3f"/><stop offset="0.407" stop-color="#00ff3b"/><stop offset="0.444" stop-color="#00ff37"/><stop offset="0.481" stop-color="#00ff32"/><stop offset="0.519" stop-color="#00ff2d"/><stop offset="0.556" stop-color="#00ff28"/><stop offset="0.593" stop-color="#0aff23"/><stop offset="0.63" stop-color="#23ff1d"/><stop offset="0.667" stop-color="#3cff17"/><stop offset="0.704" stop-color="#57ff11"/><stop offset="0.741" stop-color="#74ff0b"/><stop offset="0.778" stop-color="#92ff04"/><stop offset="0.815" stop-color="#b3ff00"/><stop offset="0.852" stop-color="#d5ff00"/><stop offset="0.889" stop-color="#f9ff00"/><stop offset="0.926" stop-color="#ffe200"/><stop offset="0.963" stop-color="#ffc600"/><stop offset="1" stop-color="#ffaf00"/></linearGradient>
<linearGradient id="s59" gradientUnits="userSpaceOnUse" x1="768.0" y1="0" x2="984.0" y2="0"><stop offset="0" stop-color="#00ff64"/><stop offset="0.037" stop-color="#00ff61"/><stop offset="0.0741" stop-color="#00ff5e"/><stop offset="0.111" stop-color="#00ff5b"/><stop offset="0.148" stop-color="#00ff58"/><stop offset="0.185" stop-color="#00ff55"/><stop offset="0.222" stop-color="#00ff51"/><stop offset="0.259" stop-color="#00ff4e"/><stop offset="0.296" stop-color="#00ff4a"/><stop offset="0.333" stop-color="#00ff46"/><stop offset="0.37" stop-color="#00ff42"/><stop offset="0.407" stop-color="#00ff3e"/><stop offset="0.444" stop-color="#00ff3a"/><stop offset="0.481" stop-color="#00ff35"/><stop offset="0.519" stop-color="#00ff30"/><stop offset="0.556" stop-color="#00ff2b"/><stop offset="0.593" stop-color="#0cff26"/><stop offset="0.63" stop-color="#25ff20"/><stop offset="0.667" stop-color="#3fff1a"/><stop offset="0.704" stop-color="#5bff14"/><stop offset="0.741" stop-color="#78ff0d"/><stop offset="0.778" stop-color="#97ff07"/><stop offset="0.815" stop-color="#b8ff00"/><stop offset="0.852" stop-color="#dbff00"/><stop offset="0.889" stop-color="#fffe00"/><stop offset="0.926" stop-color="#ffdc00"/><stop offset="0.963" stop-color="#ffc100"/><stop offset="1" stop-color="#ffaa00"/></linearGradient>
<linearGradient id="s60" gradientUnits="userSpaceOnUse" x1="768.0" y1="0" x2="992.0" y2="0"><stop offset="0" stop-color="#00ff67"/><stop offset="0.0357" stop-color="#00ff64"/><stop offset="0.0714" stop-color="#00ff61"/><stop offset="0.107" stop-color="#00ff5e"/><stop offset="0.143" stop-color="#00ff5b"/><stop offset="0.179" stop-color="#00ff57"/><stop offset="0.214" stop-color="#00ff54"/><stop offset="0.25" stop-color="#00ff51"/><stop offset="0.286" stop-color="#00ff4d"/><stop offset="0.321" stop-color="#00ff49"/><stop offset="0.357" stop-color="#00ff45"/><stop offset="0.393" stop-color="#00ff41"/><stop offset="0.429" stop-color="#00ff3c"/><stop offset="0.464" stop-color="#00ff38"/><stop offset="0.5" stop-color="#00ff33"/><stop offset="0.536" stop-color="#00ff2e"/><stop offset="0.571" stop-color="#0eff29"/><stop offset="0.607" stop-color="#28ff23"/><stop offset="0.643" stop-color="#42ff1d"/><stop offset="0.679" stop-color="#5eff17"/><stop offset="0.714" stop-color="#7cff10"/><stop offset="0.75" stop-color="#9cff09"/><stop offset="0.786" stop-color="#bdff02"/><stop offset="0.821" stop-color="#e1ff00"/><stop offset="0.857" stop-color="#fff800"/><stop offset="0.893" stop-color="#ffd700"/><stop offset="0.929" stop-color="#ffbc00"/><stop offset="0.964" stop-color="#ffa600"/><stop offset="1" stop-color="#ff9300"/></linearGradient>
<linearGradient id="s61" gradientUnits="userSpaceOnUse" x1="768.0" y1="0" x2="992.0" y2="0"><stop offset="0" stop-color="#00ff69"/><stop offset="0.0357" stop-color="#00ff67"/><stop offset="0.0714" stop-color="#00ff64"/><stop offset="0.107" stop-color="#00ff61"/><stop offset="0.143" stop-color="#00ff5e"/><stop offset="0.179" stop-color="#00ff5a"/><stop offset="0.214" stop-color="#00ff57"/><stop offset="0.25" stop-color="#00ff53"/><stop offset="0.286" stop-color="#00ff50"/><stop offset="0.321" stop-color="#00ff4c"/><stop offset="0.357" stop-color="#00ff48"/><stop offset="0.393" stop-color="#00ff44"/><stop offset="0.429" stop-color="#00ff40"/><stop offset="0.464" stop-color="#00ff3b"/><stop offset="0.5" stop-color="#00ff36"/><stop offset="0.536" stop-color="#00ff31"/><stop offset="0.571" stop-color="#11ff2c"/><stop offset="0.607" stop-color="#2aff26"/><stop offset="0.643" stop-color="#45ff20"/><stop offset="0.679" stop-color="#62ff1a"/><stop offset="0.714" stop-color="#81ff13"/><stop offset="0.75" stop-color="#a1ff0c"/><stop offset="0.786" stop-color="#c3ff05"/><stop offset="0.821" stop-color="#e7ff00"/><stop offset="0.857" stop-color="#fff100"/><stop offset="0.893" stop-color="#ffd100"/><stop offset="0.929" stop-color="#ffb700"/><stop offset="0.964" stop-color="#ffa100"/><stop offset="1" stop-color="#ff8f00"/></linearGradient>
<linearGradient id="s62" gradientUnits="userSpaceOnUse" x1="768.0" y1="0" x2="992.0" y2="0"><stop offset="0" stop-color="#00ff6c"/><stop offset="0.0357" stop-color="#00ff69"/><stop offset="0.0714" stop-color="#00ff67"/><stop offset="0.107" stop-color="#00ff64"/><stop offset="0.143" stop-color="#00ff61"/><stop offset="0.179" stop-color="#00ff5d"/><stop offset="0.214" stop-color="#00ff5a"/><stop offset="0.25" stop-color="#00ff56"/><stop offset="0.286" stop-color="#00ff53"/><stop offset="0.321" stop-color="#00ff4f"/><stop offset="0.357" stop-color="#00ff4b"/><stop offset="0.393" stop-color="#00ff47"/><stop offset="0.429" stop-color="#00ff43"/><stop offset="0.464" stop-color="#00ff3e"/><stop offset="0.5" stop-color="#00ff39"/><stop offset="0.536" stop-color="#00ff34"/><stop offset="0.571" stop-color="#13ff2f"/><stop offset="0.607" stop-color="#2dff29"/><stop offset="0.643" stop-color="#49ff23"/><stop offset="0.679" stop-color="#66ff1d"/><stop offset="0.714" stop-color="#85ff17"/><stop offset="0.75" stop-color="#a6ff10"/><stop offset="0.786" stop-color="#c9ff08"/><stop offset="0.821" stop-color="#eeff00"/><stop offset="0.857" stop-color="#ffea00"/><stop offset="0.893" stop-color="#ffcb00"/><stop offset="0.929" stop-color="#ffb200"/><stop offset="0.964" stop-color="#ff9d00"/><stop offset="1" stop-color="#ff8b00"/></linearGradient>
<linearGradient id="s63" gradientUnits="userSpaceOnUse" x1="768.0" y1="0" x2="1000.0" y2="0"><stop offset="0" stop-color="#00ff6f"/><stop offset="0.0345" stop-color="#00ff6c"/><stop offset="0.069" stop-color="#00ff69"/><stop offset="0.103" stop-color="#00ff67"/><stop offset="0.138" stop-color="#00ff64"/><stop offset="0.172" stop-color="#00ff60"/><stop offset="0.207" stop-color="#00ff5d"/><stop offset="0.241" stop-color="#00ff5a"/><stop offset="0.276" stop-color="#00ff56"/><stop offset="0.31" stop-color="#00ff52"/><stop offset="0.345" stop-color="#00ff4e"/><stop offset="0.379" stop-color="#00ff4a"/><stop offset="0.414" stop-color="#00ff46"/><stop offset="0.448" stop-color="#00ff41"/><stop offset="0.483" stop-color="#00ff3c"/><stop offset="0.517" stop-color="#00ff37"/><stop offset="0.552" stop-color="#15ff32"/><stop offset="0.586" stop-color="#30ff2d"/><stop offset="0.621" stop-color="#4cff27"/><stop offset="0.655" stop-color="#6aff20"/><stop offset="0.69" stop-color="#89ff1a"/><stop offset="0.724" stop-color="#abff13"/><stop offset="0.759" stop-color="#cfff0b"/><stop offset="0.793" stop-color="#f5ff03"/><stop offset="0.828" stop-color="#ffe400"/><stop offset="0.862" stop-color="#ffc600"/><stop offset="0.897" stop-color="#ffad00"/><stop offset="0.931" stop-color="#ff9900"/><stop offset="0.966" stop-color="#ff8700"/><stop offset="1" stop-color="#ff7900"/></linearGradient>
<linearGradient id="s64" gradientUnits="userSpaceOnUse" x1="768.0" y1="0" x2="1000.0" y2="0"><stop offset="0" stop-color="#00ff72"/><stop offset="0.0345" stop-color="#00ff6f"/><stop offset="0.069" stop-color="#00ff6c"/><stop offset="0.103" stop-color="#00ff6a"/><stop offset="0.138" stop-color="#00ff67"/><stop offset="0.172" stop-color="#00ff63"/><stop offset="0.207" stop-color="#00ff60"/><stop offset="0.241" stop-color="#00ff5d"/><stop offset="0.276" stop-color="#00ff59"/><stop offset="0.31" stop-color="#00ff55"/><stop offset="0.345" stop-color="#00ff51"/><stop offset="0.379" stop-color="#00ff4d"/><stop offset="0.414" stop-color="#00ff49"/><stop offset="0.448" stop-color="#00ff45"/><stop offset="0.483" stop-color="#00ff40"/><stop offset="0.517" stop-color="#00ff3b"/><stop offset="0.552" stop-color="#18ff35"/><stop offset="0.586" stop-color="#33ff30"/><stop offset="0.621" stop-color="#4fff2a"/><stop offset="0.655" stop-color="#6eff24"/><stop offset="0.69" stop-color="#8eff1d"/><stop offset="0.724" stop-color="#b0ff16"/><stop offset="0.759" stop-color="#d5ff0f"/><stop offset="0.793" stop-color="#fcff07"/><stop offset="0.828" stop-color="#ffde00"/><stop offset="0.862" stop-color="#ffc000"/><stop offset="0.897" stop-color="#ffa800"/><stop offset="0.931" stop-color="#ff9500"/><stop offset="0.966" stop-color="#ff8400"/><stop offset="1" stop-color="#ff7500"/></linearGradient>
<linearGradient id="s65" gradientUnits="userSpaceOnUse" x1="768.0" y1="0" x2="1000.0" y2="0"><stop offset="0" stop-color="#00ff75"/><stop offset="0.0345" stop-color="#00ff72"/><stop offset="0.069" stop-color="#00ff70"/><stop offset="0.103" stop-color="#00ff6d"/><stop offset="0.138" stop-color="#00ff6a"/><stop offset="0.172" stop-color="#00ff67"/><stop offset="0.207" stop-color="#00ff63"/><stop offset="0.241" stop-color="#00ff60"/><stop offset="0.276" stop-color="#00ff5c"/><stop offset="0.31" stop-color="#00ff59"/><stop offset="0.345" stop-color="#00ff55"/><stop offset="0.379" stop-color="#00ff51"/><stop offset="0.414" stop-color="#00ff4c"/><stop offset="0.448" stop-color="#00ff48"/><stop offset="0.483" stop-color="#00ff43"/><stop offset="0.517" stop-color="#00ff3e"/><stop offset="0.552" stop-color="#1aff39"/><stop offset="0.586" stop-color="#36ff33"/><stop offset="0.621" stop-color="#53ff2d"/><stop offset="0.655" stop-color="#72ff27"/><stop offset="0.69" stop-color="#93ff21"/><stop offset="0.724" stop-color="#b6ff19"/><stop offset="0.759" stop-color="#dbff12"/><stop offset="0.793" stop-color="#fffb0a"/><stop offset="0.828" stop-color="#ffd701"/><stop offset="0.862" stop-color="#ffbb00"/><stop offset="0.897" stop-color="#ffa400"/><stop offset="0.931" stop-color="#ff9000"/><stop offset="0.966" stop-color="#ff8000"/><stop offset="1" stop-color="#ff7200"/></linearGradient>
<linearGradient id="s66" gradientUnits="userSpaceOnUse" x1="768.0" y1="0" x2="1000.0" y2="0"><stop offset="0" stop-color="#00ff78"/><stop offset="0.0345" stop-color="#00ff75"/><stop offset="0.069" stop-color="#00ff73"/><stop offset="0.103" stop-color="#00ff70"/><stop offset="0.138" stop-color="#00ff6d"/><stop offset="0.172" stop-color="#00ff6a"/><stop offset="0.207" stop-color="#00ff67"/><stop offset="0.241" stop-color="#00ff63"/><stop offset="0.276" stop-color="#00ff60"/><stop offset="0.31" stop-color="#00ff5c"/><stop offset="0.345" stop-color="#00ff58"/><stop offset="0.379" stop-color="#00ff54"/><stop offset="0.414" stop-color="#00ff50"/><stop offset="0.448" stop-color="#00ff4b"/><stop offset="0.483" stop-color="#00ff47"/><stop offset="0.517" stop-color="#02ff42"/><stop offset="0.552" stop-color="#1dff3c"/><stop offset="0.586" stop-color="#39ff37"/><stop offset="0.621" stop-color="#57ff31"/><stop offset="0.655" stop-color="#76ff2b"/><stop offset="0.69" stop-color="#98ff24"/><stop offset="0.724" stop-color="#bcff1d"/><stop offset="0.759" stop-color="#e2ff15"/><stop offset="0.793" stop-color="#fff40d"/><stop offset="0.828" stop-color="#ffd104"/><stop offset="0.862" stop-color="#ffb600"/><stop offset="0.897" stop-color="#ff9f00"/><stop offset="0.931" stop-color="#ff8c00"/><stop offset="0.966" stop-color="#ff7c00"/><stop offset="1" stop-color="#ff6f00"/></linearGradient>
<linearGradient id="s67" gradientUnits="userSpaceOnUse" x1="768.0" y1="0" x2="1008.0" y2="0"><stop offset="0" stop-color="#00ff7b"/><stop offset="0.0333" stop-color="#00ff79"/><stop offset="0.0667" stop-color="#00ff76"/><stop offset="0.1" stop-color="#00ff73"/><stop offset="0.133" stop-color="#00ff70"/><stop offset="0.167" stop-color="#00ff6d"/><stop offset="0.2" stop-color="#00ff6a"/><stop offset="0.233" stop-color="#00ff67"/><stop offset="0.267" stop-color="#00ff63"/><stop offset="0.3" stop-color="#00ff5f"/><stop offset="0.333" stop-color="#00ff5c"/><stop offset="0.367" stop-color="#00ff58"/><stop offset="0.4" stop-color="#00ff53"/><stop offset="0.433" stop-color="#00ff4f"/><stop offset="0.467" stop-color="#00ff4a"/><stop offset="0.5" stop-color="#05ff45"/><stop offset="0.533" stop-color="#20ff40"/><stop offset="0.567" stop-color="#3cff3b"/><stop offset="0.6" stop-color="#5bff35"/><stop offset="0.633" stop-color="#7bff2e"/><stop offset="0.667" stop-color="#9dff28"/><stop offset="0.7" stop-color="#c2ff21"/><stop offset="0.733" stop-color="#e9ff19"/><stop offset="0.767" stop-color="#ffed10"/><stop offset="0.8" stop-color="#ffcb07"/><stop offset="0.833" stop-color="#ffb100"/><stop offset="0.867" stop-color="#ff9b00"/><stop offset="0.9" stop-color="#ff8800"/><stop offset="0.933" stop-color="#ff7900"/><stop offset="0.967" stop-color="#ff6b00"/><stop offset="1" stop-color="#ff6000"/></linearGradient>
<linearGradient id="s68" gradientUnits="userSpaceOnUse" x1="768.0" y1="0" x2="1008.0" y2="0"><stop offset="0" stop-color="#00ff7e"/><stop offset="0.0333" stop-color="#00ff7c"/><stop offset="0.0667" stop-color="#00ff79"/><stop offset="0.1" stop-color="#00ff76"/><stop offset="0.133" stop-color="#00ff74"/><stop offset="0.167" stop-color="#00ff71"/><stop offset="0.2" stop-color="#00ff6d"/><stop offset="0.233" stop-color="#00ff6a"/><stop offset="0.267" stop-color="#00ff67"/><stop offset="0.3" stop-color="#00ff63"/><stop offset="0.333" stop-color="#00ff5f"/><stop offset="0.367" stop-color="#00ff5b"/><stop offset="0.4" stop-color="#00ff57"/><stop offset="0.433" stop-color="#00ff53"/><stop offset="0.467" stop-color="#00ff4e"/><stop offset="0.5" stop-color="#07ff49"/><stop offset="0.533" stop-color="#22ff44"/><stop offset="0.567" stop-color="#3fff3e"/><stop offset="0.6" stop-color="#5eff38"/><stop offset="0.633" stop-color="#7fff32"/><stop offset="0.667" stop-color="#a2ff2c"/><stop offset="0.7" stop-color="#c8ff25"/><stop offset="0.733" stop-color="#f0ff1d"/><stop offset="0.767" stop-color="#ffe613"/><stop offset="0.8" stop-color="#ffc609"/><stop offset="0.833" stop-color="#ffac02"/><stop offset="0.867" stop-color="#ff9600"/><stop offset="0.9" stop-color="#ff8400"/><stop offset="0.933" stop-color="#ff7500"/><stop offset="0.967" stop-color="#ff6800"/><stop offset="1" stop-color="#ff5d00"/></linearGradient>
<linearGradient id="s69" gradientUnits="userSpaceOnUse" x1="768.0" y1="0" x2="1008.0" y2="0"><stop offset="0" stop-color="#00ff82"/><stop offset="0.0333" stop-color="#00ff7f"/><stop offset="0.0667" stop-color="#00ff7d"/><stop offset="0.1" stop-color="#00ff7a"/><stop offset="0.133" stop-color="#00ff77"/><stop offset="0.167" stop-color="#00ff74"/><stop offset="0.2" stop-color="#00ff71"/><stop offset="0.233" stop-color="#00ff6e"/><stop offset="0.267" stop-color="#00ff6a"/><stop offset="0.3" stop-color="#00ff67"/><stop offset="0.333" stop-color="#00ff63"/><stop offset="0.367" stop-color="#00ff5f"/><stop offset="0.4" stop-color="#00ff5b"/><stop offset="0.433" stop-color="#00ff56"/><stop offset="0.467" stop-color="#00ff52"/><stop offset="0.5" stop-color="#09ff4d"/><stop offset="0.533" stop-color="#25ff48"/><stop offset="0.567" stop-color="#43ff42"/><stop offset="0.6" stop-color="#62ff3c"/><stop offset="0.633" stop-color="#84ff36"/><stop offset="0.667" stop-color="#a8ff30"/><stop offset="0.7" stop-color="#ceff29"/><stop offset="0.733" stop-color="#f7ff21"/><stop offset="0.767" stop-color="#ffdf16"/><stop offset="0.8" stop-color="#ffc00c"/><stop offset="0.833" stop-color="#ffa704"/><stop offset="0.867" stop-color="#ff9200"/><stop offset="0.9" stop-color="#ff8000"/><stop offset="0.933" stop-color="#ff7200"/><stop offset="0.967" stop-color="#ff6500"/><stop offset="1" stop-color="#ff5a00"/></linearGradient>
<linearGradient id="s70" gradientUnits="userSpaceOnUse" x1="768.0" y1="0" x2="1016.0" y2="0"><stop offset="0" stop-color="#00ff85"/><stop offset="0.0323" stop-color="#00ff83"/><stop offset="0.0645" stop-color="#00ff80"/><stop offset="0.0968" stop-color="#00ff7d"/><stop offset="0.129" stop-color="#00ff7a"/><stop offset="0.161" stop-color="#00ff78"/><stop offset="0.194" stop-color="#00ff74"/><stop offset="0.226" stop-color="#00ff71"/><stop offset="0.258" stop-color="#00ff6e"/><stop offset="0.29" stop-color="#00ff6a"/><stop offset="0.323" stop-color="#00ff67"/><stop offset="0.355" stop-color="#00ff63"/><stop offset="0.387" stop-color="#00ff5f"/><stop offset="0.419" stop-color="#00ff5a"/><stop offset="0.452" stop-color="#00ff56"/><stop offset="0.484" stop-color="#0cff51"/><stop offset="0.516" stop-color="#28ff4c"/><stop offset="0.548" stop-color="#46ff46"/><stop offset="0.581" stop-color="#67ff40"/><stop offset="0.613" stop-color="#89ff3a"/><stop offset="0.645" stop-color="#aeff34"/><stop offset="0.677" stop-color="#d5ff2d"/><stop offset="0.71" stop-color="#ffff25"/><stop offset="0.742" stop-color="#ffd819"/><stop offset="0.774" stop-color="#ffba0f"/><stop offset="0.806" stop-color="#ffa207"/><stop offset="0.839" stop-color="#ff8d00"/><stop offset="0.871" stop-color="#ff7d00"/><stop offset="0.903" stop-color="#ff6e00"/><stop offset="0.935" stop-color="#ff6200"/><stop offset="0.968" stop-color="#ff5700"/><stop offset="1" stop-color="#ff4d00"/></linearGradient>
<linearGradient id="s71" gradientUnits="userSpaceOnUse" x1="768.0" y1="0" x2="1016.0" y2="0"><stop offset="0" stop-color="#00ff88"/><stop offset="0.0323" stop-color="#00ff86"/><stop offset="0.0645" stop-color="#00ff83"/><stop offset="0.0968" stop-color="#00ff81"/><stop offset="0.129" stop-color="#00ff7e"/><stop offset="0.161" stop-color="#00ff7b"/><stop offset="0.194" stop-color="#00ff78"/><stop offset="0.226" stop-color="#00ff75"/><stop offset="0.258" stop-color="#00ff72"/><stop offset="0.29" stop-color="#00ff6e"/><stop offset="0.323" stop-color="#00ff6b"/><stop offset="0.355" stop-color="#00ff67"/><stop offset="0.387" stop-color="#00ff63"/><stop offset="0.419" stop-color="#00ff5e"/><stop offset="0.452" stop-color="#00ff5a"/><stop offset="0.484" stop-color="#0eff55"/><stop offset="0.516" stop-color="#2bff50"/><stop offset="0.548" stop-color="#4aff4a"/><stop offset="0.581" stop-color="#6bff45"/><stop offset="0.613" stop-color="#8eff3f"/><stop offset="0.645" stop-color="#b4ff38"/><stop offset="0.677" stop-color="#dcff31"/><stop offset="0.71" stop-color="#fff728"/><stop offset="0.742" stop-color="#ffd21b"/><stop offset="0.774" stop-color="#ffb511"/><stop offset="0.806" stop-color="#ff9d09"/><stop offset="0.839" stop-color="#ff8902"/><stop offset="0.871" stop-color="#ff7900"/><stop offset="0.903" stop-color="#ff6b00"/><stop offset="0.935" stop-color="#ff5f00"/><stop offset="0.968" stop-color="#ff5400"/><stop offset="1" stop-color="#ff4b00"/></linearGradient>
<linearGradient id="s72" gradientUnits="userSpaceOnUse" x1="768.0" y1="0" x2="1016.0" y2="0"><stop offset="0" stop-color="#00ff8c"/><stop offset="0.0323" stop-color="#00ff8a"/><stop offset="0.0645" stop-color="#00ff87"/><stop offset="0.0968" stop-color="#00ff84"/><stop offset="0.129" stop-color="#00ff82"/><stop offset="0.161" stop-color="#00ff7f"/><stop offset="0.194" stop-color="#00ff7c"/><stop offset="0.226" stop-color="#00ff79"/><stop offset="0.258" stop-color="#00ff76"/><stop offset="0.29" stop-color="#00ff72"/><stop offset="0.323" stop-color="#00ff6e"/><stop offset="0.355" stop-color="#00ff6b"/><stop offset="0.387" stop-color="#00ff67"/><stop offset="0.419" stop-color="#00ff62"/><stop offset="0.452" stop-color="#00ff5e"/><stop offset="0.484" stop-color="#11ff59"/><stop offset="0.516" stop-color="#2eff54"/><stop offset="0.548" stop-color="#4eff4f"/><stop offset="0.581" stop-color="#6fff49"/><stop offset="0.613" stop-color="#93ff43"/><stop offset="0.645" stop-color="#baff3c"/><stop offset="0.677" stop-color="#e3ff35"/><stop offset="0.71" stop-color="#ffef2b"/><stop offset="0.742" stop-color="#ffcc1e"/><stop offset="0.774" stop-color="#ffaf14"/><stop offset="0.806" stop-color="#ff980b"/><stop offset="0.839" stop-color="#ff8505"/><stop offset="0.871" stop-color="#ff7500"/><stop offset="0.903" stop-color="#ff6700"/><stop offset="0.935" stop-color="#ff5b00"/><stop offset="0.968" stop-color="#ff5100"/><stop offset="1" stop-color="#ff4800"/></linearGradient>
<linearGradient id="s73" gradientUnits="userSpaceOnUse" x1="768.0" y1="0" x2="1024.0" y2="0"><stop offset="0" stop-color="#00ff8f"/><stop offset="0.0312" stop-color="#00ff8d"/><stop offset="0.0625" stop-color="#00ff8b"/><stop offset="0.0938" stop-color="#00ff88"/><stop offset="0.125" stop-color="#00ff86"/><stop offset="0.156" stop-color="#00ff83"/><stop offset="0.188" stop-color="#00ff80"/><stop offset="0.219" stop-color="#00ff7d"/><stop offset="0.25" stop-color="#00ff7a"/><stop offset="0.281" stop-color="#00ff76"/><stop offset="0.312" stop-color="#00ff73"/><stop offset="0.344" stop-color="#00ff6f"/><stop offset="0.375" stop-color="#00ff6b"/><stop offset="0.406" stop-color="#00ff67"/><stop offset="0.438" stop-color="#00ff62"/><stop offset="0.469" stop-color="#13ff5e"/><stop offset="0.5" stop-color="#32ff59"/><stop offset="0.531" stop-color="#52ff53"/><stop offset="0.562" stop-color="#74ff4e"/><stop offset="0.594" stop-color="#99ff47"/><stop offset="0.625" stop-color="#c0ff41"/><stop offset="0.656" stop-color="#ebff3a"/><stop offset="0.688" stop-color="#ffe82e"/><stop offset="0.719" stop-color="#ffc521"/><stop offset="0.75" stop-color="#ffaa16"/><stop offset="0.781" stop-color="#ff930e"/><stop offset="0.812" stop-color="#ff8107"/><stop offset="0.844" stop-color="#ff7101"/><stop offset="0.875" stop-color="#ff6400"/><stop offset="0.906" stop-color="#ff5800"/><stop offset="0.938" stop-color="#ff4e00"/><stop offset="0.969" stop-color="#ff4600"/><stop offset="1" stop-color="#ff3e00"/></linearGradient>
<linearGradient id="s74" gradientUnits="userSpaceOnUse" x1="768.0" y1="0" x2="1024.0" y2="0"><stop offset="0" stop-color="#00ff93"/><stop offset="0.0312" stop-color="#00ff91"/><stop offset="0.0625" stop-color="#00ff8e"/><stop offset="0.0938" stop-color="#00ff8c"/><stop offset="0.125" stop-color="#00ff89"/><stop offset="0.156" stop-color="#00ff87"/><stop offset="0.188" stop-color="#00ff84"/><stop offset="0.219" stop-color="#00ff81"/><stop offset="0.25" stop-color="#00ff7e"/><stop offset="0.281" stop-color="#00ff7a"/><stop offset="0.312" stop-color="#00ff77"/><stop offset="0.344" stop-color="#00ff73"/><stop offset="0.375" stop-color="#00ff6f"/><stop offset="0.406" stop-color="#00ff6b"/><stop offset="0.438" stop-color="#00ff67"/><stop offset="0.469" stop-color="#16ff62"/><stop offset="0.5" stop-color="#35ff5d"/><stop offset="0.531" stop-color="#56ff58"/><stop offset="0.562" stop-color="#79ff52"/><stop offset="0.594" stop-color="#9fff4c"/><stop offset="0.625" stop-color="#c7ff46"/><stop offset="0.656" stop-color="#f2ff3f"/><stop offset="0.688" stop-color="#ffe131"/><stop offset="0.719" stop-color="#ffbf23"/><stop offset="0.75" stop-color="#ffa419"/><stop offset="0.781" stop-color="#ff8f10"/><stop offset="0.812" stop-color="#ff7d09"/><stop offset="0.844" stop-color="#ff6e03"/><stop offset="0.875" stop-color="#ff6100"/><stop offset="0.906" stop-color="#ff5500"/><stop offset="0.938" stop-color="#ff4c00"/><stop offset="0.969" stop-color="#ff4300"/><stop offset="1" stop-color="#ff3b00"/></linearGradient>
<linearGradient id="s75" gradientUnits="userSpaceOnUse" x1="768.0" y1="0" x2="1024.0" y2="0"><stop offset="0" stop-color="#00ff97"/><stop offset="0.0312" stop-color="#00ff95"/><stop offset="0.0625" stop-color="#00ff92"/><stop offset="0.0938" stop-color="#00ff90"/><stop offset="0.125" stop-color="#00ff8d"/><stop offset="0.156" stop-color="#00ff8b"/><stop offset="0.188" stop-color="#00ff88"/><stop offset="0.219" stop-color="#00ff85"/><stop offset="0.25" stop-color="#00ff82"/><stop offset="0.281" stop-color="#00ff7f"/><stop offset="0.312" stop-color="#00ff7b"/><stop offset="0.344" stop-color="#00ff78"/><stop offset="0.375" stop-color="#00ff74"/><stop offset="0.406" stop-color="#00ff70"/><stop offset="0.438" stop-color="#00ff6b"/><stop offset="0.469" stop-color="#19ff67"/><stop offset="0.5" stop-color="#38ff62"/><stop offset="0.531" stop-color="#5aff5d"/><stop offset="0.562" stop-color="#7eff57"/><stop offset="0.594" stop-color="#a5ff51"/><stop offset="0.625" stop-color="#ceff4b"/><stop offset="0.656" stop-color="#fbff44"/><stop offset="0.688" stop-color="#ffda33"/><stop offset="0.719" stop-color="#ffb926"/><stop offset="0.75" stop-color="#ff9f1b"/><stop offset="0.781" stop-color="#ff8a12"/><stop offset="0.812" stop-color="#ff790b"/><stop offset="0.844" stop-color="#ff6a05"/><stop offset="0.875" stop-color="#ff5d00"/><stop offset="0.906" stop-color="#ff5200"/><stop offset="0.938" stop-color="#ff4900"/><stop offset="0.969" stop-color="#ff4000"/><stop offset="1" stop-color="#ff3900"/></linearGradient>
<linearGradient id="s76" gradientUnits="userSpaceOnUse" x1="768.0" y1="0" x2="1024.0" y2="0"><stop offset="0" stop-color="#00ff9b"/><stop offset="0.0312" stop-color="#00ff99"/><stop offset="0.0625" stop-color="#00ff96"/><stop offset="0.0938" stop-color="#00ff94"/><stop offset="0.125" stop-color="#00ff91"/><stop offset="0.156" stop-color="#00ff8f"/><stop offset="0.188" stop-color="#00ff8c"/><stop offset="0.219" stop-color="#00ff89"/><stop offset="0.25" stop-color="#00ff86"/><stop offset="0.281" stop-color="#00ff83"/><stop offset="0.312" stop-color="#00ff80"/><stop offset="0.344" stop-color="#00ff7c"/><stop offset="0.375" stop-color="#00ff78"/><stop offset="0.406" stop-color="#00ff74"/><stop offset="0.438" stop-color="#00ff70"/><stop offset="0.469" stop-color="#1cff6c"/><stop offset="0.5" stop-color="#3cff67"/><stop offset="0.531" stop-color="#5eff62"/><stop offset="0.562" stop-color="#83ff5c"/><stop offset="0.594" stop-color="#abff56"/><stop offset="0.625" stop-color="#d5ff50"/><stop offset="0.656" stop-color="#fffb48"/><stop offset="0.688" stop-color="#ffd336"/><stop offset="0.719" stop-color="#ffb328"/><stop offset="0.75" stop-color="#ff9a1d"/><stop offset="0.781" stop-color="#ff8615"/><stop offset="0.812" stop-color="#ff750d"/><stop offset="0.844" stop-color="#ff6607"/><stop offset="0.875" stop-color="#ff5a01"/><stop offset="0.906" stop-color="#ff4f00"/><stop offset="0.938" stop-color="#ff4600"/><stop offset="0.969" stop-color="#ff3e00"/><stop offset="1" stop-color="#ff3700"/></linearGradient>
<linearGradient id="s77" gradientUnits="userSpaceOnUse" x1="768.0" y1="0" x2="1032.0" y2="0"><stop offset="0" stop-color="#00ff9f"/><stop offset="0.0303" stop-color="#00ff9d"/><stop offset="0.0606" stop-color="#00ff9a"/><stop offset="0.0909" stop-color="#00ff98"/><stop offset="0.121" stop-color="#00ff96"/><stop offset="0.152" stop-color="#00ff93"/><stop offset="0.182" stop-color="#00ff90"/><stop offset="0.212" stop-color="#00ff8e"/><stop offset="0.242" stop-color="#00ff8b"/><stop offset="0.273" stop-color="#00ff88"/><stop offset="0.303" stop-color="#00ff84"/><stop offset="0.333" stop-color="#00ff81"/><stop offset="0.364" stop-color="#00ff7d"/><stop offset="0.394" stop-color="#00ff79"/><stop offset="0.424" stop-color="#00ff75"/><stop offset="0.455" stop-color="#1fff71"/><stop offset="0.485" stop-color="#40ff6c"/><stop offset="0.515" stop-color="#63ff67"/><stop offset="0.545" stop-color="#89ff61"/><stop offset="0.576" stop-color="#b1ff5c"/><stop offset="0.606" stop-color="#ddff55"/><stop offset="0.636" stop-color="#fff34b"/><stop offset="0.667" stop-color="#ffcc39"/><stop offset="0.697" stop-color="#ffad2b"/><stop offset="0.727" stop-color="#ff9520"/><stop offset="0.758" stop-color="#ff8117"/><stop offset="0.788" stop-color="#ff710f"/><stop offset="0.818" stop-color="#ff6309"/><stop offset="0.848" stop-color="#ff5703"/><stop offset="0.879" stop-color="#ff4c00"/><stop offset="0.909" stop-color="#ff4300"/><stop offset="0.939" stop-color="#ff3b00"/><stop offset="0.97" stop-color="#ff3400"/><stop offset="1" stop-color="#ff2e00"/></linearGradient>
<linearGradient id="s78" gradientUnits="userSpaceOnUse" x1="768.0" y1="0" x2="1032.0" y2="0"><stop offset="0" stop-color="#00ffa3"/><stop offset="0.0303" stop-color="#00ffa1"/><stop offset="0.0606" stop-color="#00ff9e"/><stop offset="0.0909" stop-color="#00ff9c"/><stop offset="0.121" stop-color="#00ff9a"/><stop offset="0.152" stop-color="#00ff97"/><stop offset="0.182" stop-color="#00ff95"/><stop offset="0.212" stop-color="#00ff92"/><stop offset="0.242" stop-color="#00ff8f"/><stop offset="0.273" stop-color="#00ff8c"/><stop offset="0.303" stop-color="#00ff89"/><stop offset="0.333" stop-color="#00ff86"/><stop offset="0.364" stop-color="#00ff82"/><stop offset="0.394" stop-color="#00ff7e"/><stop offset="0.424" stop-color="#03ff7a"/><stop offset="0.455" stop-color="#22ff76"/><stop offset="0.485" stop-color="#44ff71"/><stop offset="0.515" stop-color="#68ff6c"/><stop offset="0.545" stop-color="#8eff67"/><stop offset="0.576" stop-color="#b8ff61"/><stop offset="0.606" stop-color="#e5ff5b"/><stop offset="0.636" stop-color="#ffeb4d"/><stop offset="0.667" stop-color="#ffc53b"/><stop offset="0.697" stop-color="#ffa82d"/><stop offset="0.727" stop-color="#ff9022"/><stop offset="0.758" stop-color="#ff7d19"/><stop offset="0.788" stop-color="#ff6d11"/><stop offset="0.818" stop-color="#ff5f0b"/><stop offset="0.848" stop-color="#ff5405"/><stop offset="0.879" stop-color="#ff4a00"/><stop offset="0.909" stop-color="#ff4100"/><stop offset="0.939" stop-color="#ff3900"/><stop offset="0.97" stop-color="#ff3200"/><stop offset="1" stop-color="#ff2c00"/></linearGradient>
<linearGradient id="s79" gradientUnits="userSpaceOnUse" x1="768.0" y1="0" x2="1032.0" y2="0"><stop offset="0" stop-color="#00ffa7"/><stop offset="0.0303" stop-color="#00ffa5"/><stop offset="0.0606" stop-color="#00ffa3"/><stop offset="0.0909" stop-color="#00ffa1"/><stop offset="0.121" stop-color="#00ff9e"/><stop offset="0.152" stop-color="#00ff9c"/><stop offset="0.182" stop-color="#00ff99"/><stop offset="0.212" stop-color="#00ff97"/><stop offset="0.242" stop-color="#00ff94"/><stop offset="0.273" stop-color="#00ff91"/><stop offset="0.303" stop-color="#00ff8e"/><stop offset="0.333" stop-color="#00ff8b"/><stop offset="0.364" stop-color="#00ff87"/><stop offset="0.394" stop-color="#00ff83"/><stop offset="0.424" stop-color="#05ff7f"/><stop offset="0.455" stop-color="#25ff7b"/><stop offset="0.485" stop-color="#48ff77"/><stop offset="0.515" stop-color="#6cff72"/><stop offset="0.545" stop-color="#94ff6c"/><stop offset="0.576" stop-color="#bfff67"/><stop offset="0.606" stop-color="#edff61"/><stop offset="0.636" stop-color="#ffe350"/><stop offset="0.667" stop-color="#ffbe3e"/><stop offset="0.697" stop-color="#ffa230"/><stop offset="0.727" stop-color="#ff8b24"/><stop offset="0.758" stop-color="#ff791b"/><stop offset="0.788" stop-color="#ff6913"/><stop offset="0.818" stop-color="#ff5c0c"/><stop offset="0.848" stop-color="#ff5107"/><stop offset="0.879" stop-color="#ff4702"/><stop offset="0.909" stop-color="#ff3e00"/><stop offset="0.939" stop-color="#ff3600"/><stop offset="0.97" stop-color="#ff3000"/><stop offset="1" stop-color="#ff2a00"/></linearGradient>
<linearGradient id="s80" gradientUnits="userSpaceOnUse" x1="768.0" y1="0" x2="1040.0" y2="0"><stop offset="0" stop-color="#00ffab"/><stop offset="0.0294" stop-color="#00ffa9"/><stop offset="0.0588" stop-color="#00ffa7"/><stop offset="0.0882" stop-color="#00ffa5"/><stop offset="0.118" stop-color="#00ffa3"/><stop offset="0.147" stop-color="#00ffa0"/><stop offset="0.176" stop-color="#00ff9e"/><stop offset="0.206" stop-color="#00ff9b"/><stop offset="0.235" stop-color="#00ff99"/><stop offset="0.265" stop-color="#00ff96"/><stop offset="0.294" stop-color="#00ff93"/><stop offset="0.324" stop-color="#00ff90"/><stop offset="0.353" stop-color="#00ff8c"/><stop offset="0.382" stop-color="#00ff89"/><stop offset="0.412" stop-color="#08ff85"/><stop offset="0.441" stop-color="#29ff81"/><stop offset="0.471" stop-color="#4cff7c"/><stop offset="0.5" stop-color="#71ff78"/><stop offset="0.529" stop-color="#9aff72"/><stop offset="0.559" stop-color="#c6ff6d"/><stop offset="0.588" stop-color="#f5ff67"/><stop offset="0.618" stop-color="#ffdb53"/><stop offset="0.647" stop-color="#ffb840"/><stop offset="0.676" stop-color="#ff9d32"/><stop offset="0.706" stop-color="#ff8727"/><stop offset="0.735" stop-color="#ff751d"/><stop offset="0.765" stop-color="#ff6515"/><stop offset="0.794" stop-color="#ff590e"/><stop offset="0.824" stop-color="#ff4d09"/><stop offset="0.853" stop-color="#ff4404"/><stop offset="0.882" stop-color="#ff3b00"/><stop offset="0.912" stop-color="#ff3400"/><stop offset="0.941" stop-color="#ff2d00"/><stop offset="0.971" stop-color="#ff2700"/><stop offset="1" stop-color="#ff2200"/></linearGradient>
<linearGradient id="s81" gradientUnits="userSpaceOnUse" x1="776.0" y1="0" x2="1040.0" y2="0"><stop offset="0" stop-color="#00ffad"/><stop offset="0.0303" stop-color="#00ffac"/><stop offset="0.0606" stop-color="#00ffaa"/><stop offset="0.0909" stop-color="#00ffa7"/><stop offset="0.121" stop-color="#00ffa5"/><stop offset="0.152" stop-color="#00ffa3"/><stop offset="0.182" stop-color="#00ffa0"/><stop offset="0.212" stop-color="#00ff9e"/><stop offset="0.242" stop-color="#00ff9b"/><stop offset="0.273" stop-color="#00ff98"/><stop offset="0.303" stop-color="#00ff95"/><stop offset="0.333" stop-color="#00ff92"/><stop offset="0.364" stop-color="#00ff8e"/><stop offset="0.394" stop-color="#0bff8a"/><stop offset="0.424" stop-color="#2cff86"/><stop offset="0.455" stop-color="#50ff82"/><stop offset="0.485" stop-color="#77ff7e"/><stop offset="0.515" stop-color="#a0ff79"/><stop offset="0.545" stop-color="#ceff73"/><stop offset="0.576" stop-color="#feff6d"/><stop offset="0.606" stop-color="#ffd355"/><stop offset="0.636" stop-color="#ffb243"/><stop offset="0.667" stop-color="#ff9734"/><stop offset="0.697" stop-color="#ff8229"/><stop offset="0.727" stop-color="#ff701f"/><stop offset="0.758" stop-color="#ff6217"/><stop offset="0.788" stop-color="#ff5510"/><stop offset="0.818" stop-color="#ff4a0a"/><stop offset="0.848" stop-color="#ff4105"/><stop offset="0.879" stop-color="#ff3901"/><stop offset="0.909" stop-color="#ff3200"/><stop offset="0.939" stop-color="#ff2b00"/><stop offset="0.97" stop-color="#ff2500"/><stop offset="1" stop-color="#ff2000"/></linearGradient>
<linearGradient id="s82" gradientUnits="userSpaceOnUse" x1="776.0" y1="0" x2="1040.0" y2="0"><stop offset="0" stop-color="#00ffb2"/><stop offset="0.0303" stop-color="#00ffb0"/><stop offset="0.0606" stop-color="#00ffae"/><stop offset="0.0909" stop-color="#00ffac"/><stop offset="0.121" stop-color="#00ffaa"/><stop offset="0.152" stop-color="#00ffa8"/><stop offset="0.182" stop-color="#00ffa5"/><stop offset="0.212" stop-color="#00ffa3"/><stop offset="0.242" stop-color="#00ffa0"/><stop offset="0.273" stop-color="#00ff9e"/><stop offset="0.303" stop-color="#00ff9b"/><stop offset="0.333" stop-color="#00ff97"/><stop offset="0.364" stop-color="#00ff94"/><stop offset="0.394" stop-color="#0eff90"/><stop offset="0.424" stop-color="#30ff8c"/><stop offset="0.455" stop-color="#55ff88"/><stop offset="0.485" stop-color="#7cff84"/><stop offset="0.515" stop-color="#a7ff7f"/><stop offset="0.545" stop-color="#d5ff7a"/><stop offset="0.576" stop-color="#fff670"/><stop offset="0.606" stop-color="#ffcc58"/><stop offset="0.636" stop-color="#ffab45"/><stop offset="0.667" stop-color="#ff9237"/><stop offset="0.697" stop-color="#ff7d2b"/><stop offset="0.727" stop-color="#ff6c21"/><stop offset="0.758" stop-color="#ff5e19"/><stop offset="0.788" stop-color="#ff5212"/><stop offset="0.818" stop-color="#ff470c"/><stop offset="0.848" stop-color="#ff3e07"/><stop offset="0.879" stop-color="#ff3602"/><stop offset="0.909" stop-color="#ff2f00"/><stop offset="0.939" stop-color="#ff2900"/><stop offset="0.97" stop-color="#ff2300"/><stop offset="1" stop-color="#ff1e00"/></linearGradient>
<linearGradient id="s83" gradientUnits="userSpaceOnUse" x1="776.0" y1="0" x2="1048.0" y2="0"><stop offset="0" stop-color="#00ffb7"/><stop offset="0.0294" stop-color="#00ffb5"/><stop offset="0.0588" stop-color="#00ffb3"/><stop offset="0.0882" stop-color="#00ffb1"/><stop offset="0.118" stop-color="#00ffaf"/><stop offset="0.147" stop-color="#00ffad"/><stop offset="0.176" stop-color="#00ffab"/><stop offset="0.206" stop-color="#00ffa8"/><stop offset="0.235" stop-color="#00ffa6"/><stop offset="0.265" stop-color="#00ffa3"/><stop offset="0.294" stop-color="#00ffa0"/><stop offset="0.324" stop-color="#00ff9d"/><stop offset="0.353" stop-color="#00ff9a"/><stop offset="0.382" stop-color="#11ff96"/><stop offset="0.412" stop-color="#34ff93"/><stop offset="0.441" stop-color="#59ff8f"/><stop offset="0.471" stop-color="#82ff8a"/><stop offset="0.5" stop-color="#aeff86"/><stop offset="0.529" stop-color="#deff81"/><stop offset="0.559" stop-color="#ffee73"/><stop offset="0.588" stop-color="#ffc55a"/><stop offset="0.618" stop-color="#ffa548"/><stop offset="0.647" stop-color="#ff8d39"/><stop offset="0.676" stop-color="#ff792d"/><stop offset="0.706" stop-color="#ff6823"/><stop offset="0.735" stop-color="#ff5a1b"/><stop offset="0.765" stop-color="#ff4f14"/><stop offset="0.794" stop-color="#ff440e"/><stop offset="0.824" stop-color="#ff3c08"/><stop offset="0.853" stop-color="#ff3404"/><stop offset="0.882" stop-color="#ff2d00"/><stop offset="0.912" stop-color="#ff2700"/><stop offset="0.941" stop-color="#ff2100"/><stop offset="0.971" stop-color="#ff1c00"/><stop offset="1" stop-color="#ff1800"/></linearGradient>
<linearGradient id="s84" gradientUnits="userSpaceOnUse" x1="776.0" y1="0" x2="1048.0" y2="0"><stop offset="0" stop-color="#00ffbb"/><stop offset="0.0294" stop-color="#00ffba"/><stop offset="0.0588" stop-color="#00ffb8"/><stop offset="0.0882" stop-color="#00ffb6"/><stop offset="0.118" stop-color="#00ffb4"/><stop offset="0.147" stop-color="#00ffb2"/><stop offset="0.176" stop-color="#00ffb0"/><stop offset="0.206" stop-color="#00ffae"/><stop offset="0.235" stop-color="#00ffab"/><stop offset="0.265" stop-color="#00ffa9"/><stop offset="0.294" stop-color="#00ffa6"/><stop offset="0.324" stop-color="#00ffa3"/><stop offset="0.353" stop-color="#00ffa0"/><stop offset="0.382" stop-color="#14ff9d"/><stop offset="0.412" stop-color="#38ff99"/><stop offset="0.441" stop-color="#5eff95"/><stop offset="0.471" stop-color="#88ff91"/><stop offset="0.5" stop-color="#b5ff8d"/><stop offset="0.529" stop-color="#e6ff88"/><stop offset="0.559" stop-color="#ffe575"/><stop offset="0.588" stop-color="#ffbe5d"/><stop offset="0.618" stop-color="#ff9f4a"/><stop offset="0.647" stop-color="#ff883b"/><stop offset="0.676" stop-color="#ff742f"/><stop offset="0.706" stop-color="#ff6425"/><stop offset="0.735" stop-color="#ff571d"/><stop offset="0.765" stop-color="#ff4b16"/><stop offset="0.794" stop-color="#ff410f"/><stop offset="0.824" stop-color="#ff390a"/><stop offset="0.853" stop-color="#ff3105"/><stop offset="0.882" stop-color="#ff2b01"/><stop offset="0.912" stop-color="#ff2500"/><stop offset="0.941" stop-color="#ff1f00"/><stop offset="0.971" stop-color="#ff1a00"/><stop offset="1" stop-color="#ff1600"/></linearGradient>
<linearGradient id="s85" gradientUnits="userSpaceOnUse" x1="776.0" y1="0" x2="1048.0" y2="0"><stop offset="0" stop-color="#00ffc0"/><stop offset="0.0294" stop-color="#00ffbf"/><stop offset="0.0588" stop-color="#00ffbd"/><stop offset="0.0882" stop-color="#00ffbb"/><stop offset="0.118" stop-color="#00ffba"/><stop offset="0.147" stop-color="#00ffb8"/><stop offset="0.176" stop-color="#00ffb6"/><stop offset="0.206" stop-color="#00ffb3"/><stop offset="0.235" stop-color="#00ffb1"/><stop offset="0.265" stop-color="#00ffaf"/><stop offset="0.294" stop-color="#00ffac"/><stop offset="0.324" stop-color="#00ffa9"/><stop offset="0.353" stop-color="#00ffa7"/><stop offset="0.382" stop-color="#17ffa3"/><stop offset="0.412" stop-color="#3cffa0"/><stop offset="0.441" stop-color="#63ff9c"/><stop offset="0.471" stop-color="#8eff98"/><stop offset="0.5" stop-color="#bdff94"/><stop offset="0.529" stop-color="#f0ff8f"/><stop offset="0.559" stop-color="#ffdc77"/><stop offset="0.588" stop-color="#ffb75f"/><stop offset="0.618" stop-color="#ff9a4c"/><stop offset="0.647" stop-color="#ff833d"/><stop offset="0.676" stop-color="#ff7031"/><stop offset="0.706" stop-color="#ff6027"/><stop offset="0.735" stop-color="#ff531f"/><stop offset="0.765" stop-color="#ff4817"/><stop offset="0.794" stop-color="#ff3f11"/><stop offset="0.824" stop-color="#ff360c"/><stop offset="0.853" stop-color="#ff2f07"/><stop offset="0.882" stop-color="#ff2803"/><stop offset="0.912" stop-color="#ff2200"/><stop offset="0.941" stop-color="#ff1d00"/><stop offset="0.971" stop-color="#ff1800"/><stop offset="1" stop-color="#ff1400"/></linearGradient>
<linearGradient id="s86" gradientUnits="userSpaceOnUse" x1="776.0" y1="0" x2="1048.0" y2="0"><stop offset="0" stop-color="#00ffc5"/><stop offset="0.0294" stop-color="#00ffc4"/><stop offset="0.0588" stop-color="#00ffc2"/><stop offset="0.0882" stop-color="#00ffc1"/><stop offset="0.118" stop-color="#00ffbf"/><stop offset="0.147" stop-color="#00ffbd"/><stop offset="0.176" stop-color="#00ffbb"/><stop offset="0.206" stop-color="#00ffb9"/><stop offset="0.235" stop-color="#00ffb7"/><stop offset="0.265" stop-color="#00ffb5"/><stop offset="0.294" stop-color="#00ffb3"/><stop offset="0.324" stop-color="#00ffb0"/><stop offset="0.353" stop-color="#00ffad"/><stop offset="0.382" stop-color="#1affaa"/><stop offset="0.412" stop-color="#40ffa7"/><stop offset="0.441" stop-color="#69ffa4"/><stop offset="0.471" stop-color="#95ffa0"/><stop offset="0.5" stop-color="#c5ff9c"/><stop offset="0.529" stop-color="#f9ff97"/><stop offset="0.559" stop-color="#ffd47a"/><stop offset="0.588" stop-color="#ffb061"/><stop offset="0.618" stop-color="#ff944e"/><stop offset="0.647" stop-color="#ff7e3f"/><stop offset="0.676" stop-color="#ff6c33"/><stop offset="0.706" stop-color="#ff5d29"/><stop offset="0.735" stop-color="#ff5020"/><stop offset="0.765" stop-color="#ff4519"/><stop offset="0.794" stop-color="#ff3c13"/><stop offset="0.824" stop-color="#ff340d"/><stop offset="0.853" stop-color="#ff2c08"/><stop offset="0.882" stop-color="#ff2604"/><stop offset="0.912" stop-color="#ff2000"/><stop offset="0.941" stop-color="#ff1b00"/><stop offset="0.971" stop-color="#ff1600"/><stop offset="1" stop-color="#ff1200"/></linearGradient>
<linearGradient id="s87" gradientUnits="userSpaceOnUse" x1="776.0" y1="0" x2="1056.0" y2="0"><stop offset="0" stop-color="#00ffca"/><stop offset="0.0286" stop-color="#00ffc9"/><stop offset="0.0571" stop-color="#00ffc8"/><stop offset="0.0857" stop-color="#00ffc6"/><stop offset="0.114" stop-color="#00ffc5"/><stop offset="0.143" stop-color="#00ffc3"/><stop offset="0.171" stop-color="#00ffc1"/><stop offset="0.2" stop-color="#00ffbf"/><stop offset="0.229" stop-color="#00ffbd"/><stop offset="0.257" stop-color="#00ffbb"/><stop offset="0.286" stop-color="#00ffb9"/><stop offset="0.314" stop-color="#00ffb7"/><stop offset="0.343" stop-color="#00ffb4"/><stop offset="0.371" stop-color="#1effb1"/><stop offset="0.4" stop-color="#44ffae"/><stop offset="0.429" stop-color="#6effab"/><stop offset="0.457" stop-color="#9cffa8"/><stop offset="0.486" stop-color="#cdffa4"/><stop offset="0.514" stop-color="#fffb9d"/><stop offset="0.543" stop-color="#ffcc7c"/><stop offset="0.571" stop-color="#ffa964"/><stop offset="0.6" stop-color="#ff8e51"/><stop offset="0.629" stop-color="#ff7941"/><stop offset="0.657" stop-color="#ff6735"/><stop offset="0.686" stop-color="#ff592b"/><stop offset="0.714" stop-color="#ff4c22"/><stop offset="0.743" stop-color="#ff421b"/><stop offset="0.771" stop-color="#ff3914"/><stop offset="0.8" stop-color="#ff310f"/><stop offset="0.829" stop-color="#ff2a0a"/><stop offset="0.857" stop-color="#ff2405"/><stop offset="0.886" stop-color="#ff1e02"/><stop offset="0.914" stop-color="#ff1900"/><stop offset="0.943" stop-color="#ff1500"/><stop offset="0.971" stop-color="#ff1100"/><stop offset="1" stop-color="#ff0d00"/></linearGradient>
<linearGradient id="s88" gradientUnits="userSpaceOnUse" x1="776.0" y1="0" x2="1056.0" y2="0"><stop offset="0" stop-color="#00ffd0"/><stop offset="0.0286" stop-color="#00ffce"/><stop offset="0.0571" stop-color="#00ffcd"/><stop offset="0.0857" stop-color="#00ffcc"/><stop offset="0.114" stop-color="#00ffca"/><stop offset="0.143" stop-color="#00ffc9"/><stop offset="0.171" stop-color="#00ffc7"/><stop offset="0.2" stop-color="#00ffc6"/><stop offset="0.229" stop-color="#00ffc4"/><stop offset="0.257" stop-color="#00ffc2"/><stop offset="0.286" stop-color="#00ffc0"/><stop offset="0.314" stop-color="#00ffbe"/><stop offset="0.343" stop-color="#00ffbb"/><stop offset="0.371" stop-color="#22ffb9"/><stop offset="0.4" stop-color="#49ffb6"/><stop offset="0.429" stop-color="#74ffb3"/><stop offset="0.457" stop-color="#a3ffb0"/><stop offset="0.486" stop-color="#d6ffac"/><stop offset="0.514" stop-color="#fff19f"/><stop offset="0.543" stop-color="#ffc47e"/><stop offset="0.571" stop-color="#ffa366"/><stop offset="0.6" stop-color="#ff8953"/><stop offset="0.629" stop-color="#ff7443"/><stop offset="0.657" stop-color="#ff6337"/><stop offset="0.686" stop-color="#ff552d"/><stop offset="0.714" stop-color="#ff4924"/><stop offset="0.743" stop-color="#ff3f1c"/><stop offset="0.771" stop-color="#ff3616"/><stop offset="0.8" stop-color="#ff2e10"/><stop offset="0.829" stop-color="#ff270b"/><stop offset="0.857" stop-color="#ff2107"/><stop offset="0.886" stop-color="#ff1c03"/><stop offset="0.914" stop-color="#ff1700"/><stop offset="0.943" stop-color="#ff1300"/><stop offset="0.971" stop-color="#ff0f00"/><stop offset="1" stop-color="#ff0b00"/></linearGradient>
<linearGradient id="s89" gradientUnits="userSpaceOnUse" x1="776.0" y1="0" x2="1056.0" y2="0"><stop offset="0" stop-color="#00ffd5"/><stop offset="0.0286" stop-color="#00ffd4"/><stop offset="0.0571" stop-color="#00ffd3"/><stop offset="0.0857" stop-color="#00ffd2"/><stop offset="0.114" stop-color="#00ffd0"/><stop offset="0.143" stop-color="#00ffcf"/><stop offset="0.171" stop-color="#00ffce"/><stop offset="0.2" stop-color="#00ffcc"/><stop offset="0.229" stop-color="#00ffcb"/><stop offset="0.257" stop-color="#00ffc9"/><stop offset="0.286" stop-color="#00ffc7"/><stop offset="0.314" stop-color="#00ffc5"/><stop offset="0.343" stop-color="#00ffc3"/><stop offset="0.371" stop-color="#25ffc1"/><stop offset="0.4" stop-color="#4effbe"/><stop offset="0.429" stop-color="#7affbb"/><stop offset="0.457" stop-color="#aaffb8"/><stop offset="0.486" stop-color="#dfffb5"/><stop offset="0.514" stop-color="#ffe8a1"/><stop offset="0.543" stop-color="#ffbd81"/><stop offset="0.571" stop-color="#ff9c68"/><stop offset="0.6" stop-color="#ff8355"/><stop offset="0.629" stop-color="#ff6f45"/><stop offset="0.657" stop-color="#ff5f39"/><stop offset="0.686" stop-color="#ff512e"/><stop offset="0.714" stop-color="#ff4626"/><stop offset="0.743" stop-color="#ff3c1e"/><stop offset="0.771" stop-color="#ff3318"/><stop offset="0.8" stop-color="#ff2c12"/><stop offset="0.829" stop-color="#ff250d"/><stop offset="0.857" stop-color="#ff1f08"/><stop offset="0.886" stop-color="#ff1a04"/><stop offset="0.914" stop-color="#ff1501"/><stop offset="0.943" stop-color="#ff1100"/><stop offset="0.971" stop-color="#ff0d00"/><stop offset="1" stop-color="#ff0900"/></linearGradient>
<linearGradient id="s90" gradientUnits="userSpaceOnUse" x1="776.0" y1="0" x2="1064.0" y2="0"><stop offset="0" stop-color="#00ffdb"/><stop offset="0.0278" stop-color="#00ffda"/><stop offset="0.0556" stop-color="#00ffd9"/><stop offset="0.0833" stop-color="#00ffd8"/><stop offset="0.111" stop-color="#00ffd7"/><stop offset="0.139" stop-color="#00ffd5"/><stop offset="0.167" stop-color="#00ffd4"/><stop offset="0.194" stop-color="#00ffd3"/><stop offset="0.222" stop-color="#00ffd1"/><stop offset="0.25" stop-color="#00ffd0"/><stop offset="0.278" stop-color="#00ffce"/><stop offset="0.306" stop-color="#00ffcd"/><stop offset="0.333" stop-color="#03ffcb"/><stop offset="0.361" stop-color="#29ffc9"/><stop offset="0.389" stop-color="#53ffc7"/><stop offset="0.417" stop-color="#81ffc4"/><stop offset="0.444" stop-color="#b2ffc1"/><stop offset="0.472" stop-color="#e9ffbf"/><stop offset="0.5" stop-color="#ffdea3"/><stop offset="0.528" stop-color="#ffb583"/><stop offset="0.556" stop-color="#ff966a"/><stop offset="0.583" stop-color="#ff7e57"/><stop offset="0.611" stop-color="#ff6b47"/><stop offset="0.639" stop-color="#ff5b3b"/><stop offset="0.667" stop-color="#ff4e30"/><stop offset="0.694" stop-color="#ff4227"/><stop offset="0.722" stop-color="#ff3920"/><stop offset="0.75" stop-color="#ff3019"/><stop offset="0.778" stop-color="#ff2913"/><stop offset="0.806" stop-color="#ff230e"/><stop offset="0.833" stop-color="#ff1d0a"/><stop offset="0.861" stop-color="#ff1806"/><stop offset="0.889" stop-color="#ff1302"/><stop offset="0.917" stop-color="#ff0f00"/><stop offset="0.944" stop-color="#ff0b00"/><stop offset="0.972" stop-color="#ff0800"/><stop offset="1" stop-color="#ff0500"/></linearGradient>
<linearGradient id="s91" gradientUnits="userSpaceOnUse" x1="776.0" y1="0" x2="1064.0" y2="0"><stop offset="0" stop-color="#00ffe0"/><stop offset="0.0278" stop-color="#00ffe0"/><stop offset="0.0556" stop-color="#00ffdf"/><stop offset="0.0833" stop-color="#00ffde"/><stop offset="0.111" stop-color="#00ffdd"/><stop offset="0.139" stop-color="#00ffdc"/><stop offset="0.167" stop-color="#00ffdb"/><stop offset="0.194" stop-color="#00ffda"/><stop offset="0.222" stop-color="#00ffd9"/><stop offset="0.25" stop-color="#00ffd7"/><stop offset="0.278" stop-color="#00ffd6"/><stop offset="0.306" stop-color="#00ffd5"/><stop offset="0.333" stop-color="#06ffd3"/><stop offset="0.361" stop-color="#2effd1"/><stop offset="0.389" stop-color="#58ffcf"/><stop offset="0.417" stop-color="#87ffcd"/><stop offset="0.444" stop-color="#baffcb"/><stop offset="0.472" stop-color="#f3ffc9"/><stop offset="0.5" stop-color="#ffd5a5"/><stop offset="0.528" stop-color="#ffae85"/><stop offset="0.556" stop-color="#ff906c"/><stop offset="0.583" stop-color="#ff7959"/><stop offset="0.611" stop-color="#ff6649"/><stop offset="0.639" stop-color="#ff573d"/><stop offset="0.667" stop-color="#ff4a32"/><stop offset="0.694" stop-color="#ff3f29"/><stop offset="0.722" stop-color="#ff3621"/><stop offset="0.75" stop-color="#ff2e1b"/><stop offset="0.778" stop-color="#ff2715"/><stop offset="0.806" stop-color="#ff2010"/><stop offset="0.833" stop-color="#ff1b0b"/><stop offset="0.861" stop-color="#ff1607"/><stop offset="0.889" stop-color="#ff1103"/><stop offset="0.917" stop-color="#ff0d00"/><stop offset="0.944" stop-color="#ff0a00"/><stop offset="0.972" stop-color="#ff0600"/><stop offset="1" stop-color="#ff0300"/></linearGradient>
<linearGradient id="s92" gradientUnits="userSpaceOnUse" x1="776.0" y1="0" x2="1064.0" y2="0"><stop offset="0" stop-color="#00ffe6"/><stop offset="0.0278" stop-color="#00ffe6"/><stop offset="0.0556" stop-color="#00ffe5"/><stop offset="0.0833" stop-color="#00ffe4"/><stop offset="0.111" stop-color="#00ffe4"/><stop offset="0.139" stop-color="#00ffe3"/><stop offset="0.167" stop-color="#00ffe2"/><stop offset="0.194" stop-color="#00ffe1"/><stop offset="0.222" stop-color="#00ffe0"/><stop offset="0.25" stop-color="#00ffdf"/><stop offset="0.278" stop-color="#00ffde"/><stop offset="0.306" stop-color="#00ffdd"/><stop offset="0.333" stop-color="#09ffdb"/><stop offset="0.361" stop-color="#32ffda"/><stop offset="0.389" stop-color="#5effd9"/><stop offset="0.417" stop-color="#8effd7"/><stop offset="0.444" stop-color="#c3ffd5"/><stop offset="0.472" stop-color="#feffd3"/><stop offset="0.5" stop-color="#ffcca7"/><stop offset="0.528" stop-color="#ffa787"/><stop offset="0.556" stop-color="#ff8a6e"/><stop offset="0.583" stop-color="#ff745b"/><stop offset="0.611" stop-color="#ff624b"/><stop offset="0.639" stop-color="#ff533f"/><stop offset="0.667" stop-color="#ff4634"/><stop offset="0.694" stop-color="#ff3c2b"/><stop offset="0.722" stop-color="#ff3323"/><stop offset="0.75" stop-color="#ff2b1c"/><stop offset="0.778" stop-color="#ff2416"/><stop offset="0.806" stop-color="#ff1e11"/><stop offset="0.833" stop-color="#ff190c"/><stop offset="0.861" stop-color="#ff1408"/><stop offset="0.889" stop-color="#ff0f04"/><stop offset="0.917" stop-color="#ff0b01"/><stop offset="0.944" stop-color="#ff0800"/><stop offset="0.972" stop-color="#ff0500"/><stop offset="1" stop-color="#ff0100"/></linearGradient>
<linearGradient id="s93" gradientUnits="userSpaceOnUse" x1="776.0" y1="0" x2="1072.0" y2="0"><stop offset="0" stop-color="#00ffec"/><stop offset="0.027" stop-color="#00ffec"/><stop offset="0.0541" stop-color="#00ffec"/><stop offset="0.0811" stop-color="#00ffeb"/><stop offset="0.108" stop-color="#00ffea"/><stop offset="0.135" stop-color="#00ffea"/><stop offset="0.162" stop-color="#00ffe9"/><stop offset="0.189" stop-color="#00ffe9"/><stop offset="0.216" stop-color="#00ffe8"/><stop offset="0.243" stop-color="#00ffe7"/><stop offset="0.27" stop-color="#00ffe6"/><stop offset="0.297" stop-color="#00ffe5"/><stop offset="0.324" stop-color="#0dffe4"/><stop offset="0.351" stop-color="#37ffe3"/><stop offset="0.378" stop-color="#64ffe2"/><stop offset="0.405" stop-color="#96ffe1"/><stop offset="0.432" stop-color="#ccffe0"/><stop offset="0.459" stop-color="#fff5d6"/><stop offset="0.486" stop-color="#ffc4a9"/><stop offset="0.514" stop-color="#ffa089"/><stop offset="0.541" stop-color="#ff8470"/><stop offset="0.568" stop-color="#ff6f5d"/><stop offset="0.595" stop-color="#ff5d4d"/><stop offset="0.622" stop-color="#ff4f40"/><stop offset="0.649" stop-color="#ff4336"/><stop offset="0.676" stop-color="#ff392c"/><stop offset="0.703" stop-color="#ff3025"/><stop offset="0.73" stop-color="#ff281e"/><stop offset="0.757" stop-color="#ff2218"/><stop offset="0.784" stop-color="#ff1c12"/><stop offset="0.811" stop-color="#ff160e"/><stop offset="0.838" stop-color="#ff1209"/><stop offset="0.865" stop-color="#ff0d06"/><stop offset="0.892" stop-color="#ff0a02"/><stop offset="0.919" stop-color="#ff0600"/><stop offset="0.946" stop-color="#ff0300"/><stop offset="0.973" stop-color="#ff0000"/><stop offset="1" stop-color="#ff0000"/></linearGradient>
<linearGradient id="s94" gradientUnits="userSpaceOnUse" x1="776.0" y1="0" x2="1072.0" y2="0"><stop offset="0" stop-color="#00fff3"/><stop offset="0.027" stop-color="#00fff3"/><stop offset="0.0541" stop-color="#00fff2"/><stop offset="0.0811" stop-color="#00fff2"/><stop offset="0.108" stop-color="#00fff2"/><stop offset="0.135" stop-color="#00fff1"/><stop offset="0.162" stop-color="#00fff1"/><stop offset="0.189" stop-color="#00fff0"/><stop offset="0.216" stop-color="#00fff0"/><stop offset="0.243" stop-color="#00ffef"/><stop offset="0.27" stop-color="#00ffef"/><stop offset="0.297" stop-color="#00ffee"/><stop offset="0.324" stop-color="#11ffee"/><stop offset="0.351" stop-color="#3bffed"/><stop offset="0.378" stop-color="#6affec"/><stop offset="0.405" stop-color="#9effec"/><stop offset="0.432" stop-color="#d6ffeb"/><stop offset="0.459" stop-color="#ffebd7"/><stop offset="0.486" stop-color="#ffbbab"/><stop offset="0.514" stop-color="#ff998b"/><stop offset="0.541" stop-color="#ff7e72"/><stop offset="0.568" stop-color="#ff6a5f"/><stop offset="0.595" stop-color="#ff594f"/><stop offset="0.622" stop-color="#ff4b42"/><stop offset="0.649" stop-color="#ff4037"/><stop offset="0.676" stop-color="#ff362e"/><stop offset="0.703" stop-color="#ff2d26"/><stop offset="0.73" stop-color="#ff261f"/><stop offset="0.757" stop-color="#ff1f19"/><stop offset="0.784" stop-color="#ff1914"/><stop offset="0.811" stop-color="#ff140f"/><stop offset="0.838" stop-color="#ff100b"/><stop offset="0.865" stop-color="#ff0c07"/><stop offset="0.892" stop-color="#ff0803"/><stop offset="0.919" stop-color="#ff0400"/><stop offset="0.946" stop-color="#ff0100"/><stop offset="0.973" stop-color="#ff0000"/><stop offset="1" stop-color="#ff0000"/></linearGradient>
<linearGradient id="s95" gradientUnits="userSpaceOnUse" x1="776.0" y1="0" x2="1072.0" y2="0"><stop offset="0" stop-color="#00fff9"/><stop offset="0.027" stop-color="#00fff9"/><stop offset="0.0541" stop-color="#00fff9"/><stop offset="0.0811" stop-color="#00fff9"/><stop offset="0.108" stop-color="#00fff9"/><stop offset="0.135" stop-color="#00fff9"/><stop offset="0.162" stop-color="#00fff9"/><stop offset="0.189" stop-color="#00fff8"/><stop offset="0.216" stop-color="#00fff8"/><stop offset="0.243" stop-color="#00fff8"/><stop offset="0.27" stop-color="#00fff8"/><stop offset="0.297" stop-color="#00fff8"/><stop offset="0.324" stop-color="#14fff7"/><stop offset="0.351" stop-color="#40fff7"/><stop offset="0.378" stop-color="#71fff7"/><stop offset="0.405" stop-color="#a6fff7"/><stop offset="0.432" stop-color="#e0fff6"/><stop offset="0.459" stop-color="#ffe0d9"/><stop offset="0.486" stop-color="#ffb3ad"/><stop offset="0.514" stop-color="#ff928d"/><stop offset="0.541" stop-color="#ff7974"/><stop offset="0.568" stop-color="#ff6561"/><stop offset="0.595" stop-color="#ff5551"/><stop offset="0.622" stop-color="#ff4744"/><stop offset="0.649" stop-color="#ff3c39"/><stop offset="0.676" stop-color="#ff3330"/><stop offset="0.703" stop-color="#ff2a28"/><stop offset="0.73" stop-color="#ff2321"/><stop offset="0.757" stop-color="#ff1d1b"/><stop offset="0.784" stop-color="#ff1715"/><stop offset="0.811" stop-color="#ff1210"/><stop offset="0.838" stop-color="#ff0e0c"/><stop offset="0.865" stop-color="#ff0a08"/><stop offset="0.892" stop-color="#ff0605"/><stop offset="0.919" stop-color="#ff0301"/><stop offset="0.946" stop-color="#ff0000"/><stop offset="0.973" stop-color="#ff0000"/><stop offset="1" stop-color="#ff0000"/></linearGradient>
<linearGradient id="s96" gradientUnits="userSpaceOnUse" x1="776.0" y1="0" x2="1072.0" y2="0"><stop offset="0" stop-color="#00feff"/><stop offset="0.027" stop-color="#00feff"/><stop offset="0.0541" stop-color="#00feff"/><stop offset="0.0811" stop-color="#00feff"/><stop offset="0.108" stop-color="#00feff"/><stop offset="0.135" stop-color="#00fdff"/><stop offset="0.162" stop-color="#00fdff"/><stop offset="0.189" stop-color="#00fdff"/><stop offset="0.216" stop-color="#00fdff"/><stop offset="0.243" stop-color="#00fdff"/><stop offset="0.27" stop-color="#00fdff"/><stop offset="0.297" stop-color="#00fcff"/><stop offset="0.324" stop-color="#18fcff"/><stop offset="0.351" stop-color="#45fcff"/><stop offset="0.378" stop-color="#76fcff"/><stop offset="0.405" stop-color="#acfcff"/><stop offset="0.432" stop-color="#e8fbff"/><stop offset="0.459" stop-color="#ffd6da"/><stop offset="0.486" stop-color="#ffabae"/><stop offset="0.514" stop-color="#ff8c8e"/><stop offset="0.541" stop-color="#ff7376"/><stop offset="0.568" stop-color="#ff6062"/><stop offset="0.595" stop-color="#ff5053"/><stop offset="0.622" stop-color="#ff4446"/><stop offset="0.649" stop-color="#ff393b"/><stop offset="0.676" stop-color="#ff2f31"/><stop offset="0.703" stop-color="#ff2729"/><stop offset="0.73" stop-color="#ff2122"/><stop offset="0.757" stop-color="#ff1a1c"/><stop offset="0.784" stop-color="#ff1517"/><stop offset="0.811" stop-color="#ff1012"/><stop offset="0.838" stop-color="#ff0c0d"/><stop offset="0.865" stop-color="#ff0809"/><stop offset="0.892" stop-color="#ff0406"/><stop offset="0.919" stop-color="#ff0102"/><stop offset="0.946" stop-color="#ff0000"/><stop offset="0.973" stop-color="#ff0000"/><stop offset="1" stop-color="#ff0000"/></linearGradient>
<linearGradient id="s97" gradientUnits="userSpaceOnUse" x1="776.0" y1="0" x2="1080.0" y2="0"><stop offset="0" stop-color="#00f7ff"/><stop offset="0.0263" stop-color="#00f7ff"/><stop offset="0.0526" stop-color="#00f7ff"/><stop offset="0.0789" stop-color="#00f6ff"/><stop offset="0.105" stop-color="#00f6ff"/><stop offset="0.132" stop-color="#00f6ff"/><stop offset="0.158" stop-color="#00f5ff"/><stop offset="0.184" stop-color="#00f5ff"/><stop offset="0.211" stop-color="#00f4ff"/><stop offset="0.237" stop-color="#00f4ff"/><stop offset="0.263" stop-color="#00f3ff"/><stop offset="0.289" stop-color="#00f3ff"/><stop offset="0.316" stop-color="#1bf2ff"/><stop offset="0.342" stop-color="#47f1ff"/><stop offset="0.368" stop-color="#78f1ff"/><stop offset="0.395" stop-color="#adf0ff"/><stop offset="0.421" stop-color="#e7efff"/><stop offset="0.447" stop-color="#ffcddb"/><stop offset="0.474" stop-color="#ffa4b0"/><stop offset="0.5" stop-color="#ff8590"/><stop offset="0.526" stop-color="#ff6e78"/><stop offset="0.553" stop-color="#ff5b64"/><stop offset="0.579" stop-color="#ff4c54"/><stop offset="0.605" stop-color="#ff4047"/><stop offset="0.632" stop-color="#ff353c"/><stop offset="0.658" stop-color="#ff2c33"/><stop offset="0.684" stop-color="#ff252b"/><stop offset="0.711" stop-color="#ff1e24"/><stop offset="0.737" stop-color="#ff181d"/><stop offset="0.763" stop-color="#ff1318"/><stop offset="0.789" stop-color="#ff0e13"/><stop offset="0.816" stop-color="#ff0a0f"/><stop offset="0.842" stop-color="#ff060a"/><stop offset="0.868" stop-color="#ff0307"/><stop offset="0.895" stop-color="#ff0004"/><stop offset="0.921" stop-color="#ff0001"/><stop offset="0.947" stop-color="#ff0000"/><stop offset="0.974" stop-color="#ff0000"/><stop offset="1" stop-color="#ff0000"/></linearGradient>
<linearGradient id="s98" gradientUnits="userSpaceOnUse" x1="776.0" y1="0" x2="1080.0" y2="0"><stop offset="0" stop-color="#00f1ff"/><stop offset="0.0263" stop-color="#00f0ff"/><stop offset="0.0526" stop-color="#00f0ff"/><stop offset="0.0789" stop-color="#00efff"/><stop offset="0.105" stop-color="#00efff"/><stop offset="0.132" stop-color="#00eeff"/><stop offset="0.158" stop-color="#00edff"/><stop offset="0.184" stop-color="#00edff"/><stop offset="0.211" stop-color="#00ecff"/><stop offset="0.237" stop-color="#00ebff"/><stop offset="0.263" stop-color="#00eaff"/><stop offset="0.289" stop-color="#00e9ff"/><stop offset="0.316" stop-color="#1ee8ff"/><stop offset="0.342" stop-color="#4ae7ff"/><stop offset="0.368" stop-color="#79e6ff"/><stop offset="0.395" stop-color="#ade5ff"/><stop offset="0.421" stop-color="#e7e3ff"/><stop offset="0.447" stop-color="#ffc3dd"/><stop offset="0.474" stop-color="#ff9cb2"/><stop offset="0.5" stop-color="#ff7f92"/><stop offset="0.526" stop-color="#ff6979"/><stop offset="0.553" stop-color="#ff5766"/><stop offset="0.579" stop-color="#ff4856"/><stop offset="0.605" stop-color="#ff3c49"/><stop offset="0.632" stop-color="#ff323e"/><stop offset="0.658" stop-color="#ff2934"/><stop offset="0.684" stop-color="#ff222c"/><stop offset="0.711" stop-color="#ff1b25"/><stop offset="0.737" stop-color="#ff161f"/><stop offset="0.763" stop-color="#ff1119"/><stop offset="0.789" stop-color="#ff0c14"/><stop offset="0.816" stop-color="#ff0810"/><stop offset="0.842" stop-color="#ff040c"/><stop offset="0.868" stop-color="#ff0108"/><stop offset="0.895" stop-color="#ff0005"/><stop offset="0.921" stop-color="#ff0002"/><stop offset="0.947" stop-color="#ff0000"/><stop offset="0.974" stop-color="#ff0000"/><stop offset="1" stop-color="#ff0000"/></linearGradient>
<linearGradient id="s99" gradientUnits="userSpaceOnUse" x1="776.0" y1="0" x2="1080.0" y2="0"><stop offset="0" stop-color="#00eaff"/><stop offset="0.0263" stop-color="#00eaff"/><stop offset="0.0526" stop-color="#00e9ff"/><stop offset="0.0789" stop-color="#00e8ff"/><stop offset="0.105" stop-color="#00e8ff"/><stop offset="0.132" stop-color="#00e7ff"/><stop offset="0.158" stop-color="#00e6ff"/><stop offset="0.184" stop-color="#00e5ff"/><stop offset="0.211" stop-color="#00e4ff"/><stop offset="0.237" stop-color="#00e3ff"/><stop offset="0.263" stop-color="#00e2ff"/><stop offset="0.289" stop-color="#00e0ff"/><stop offset="0.316" stop-color="#21dfff"/><stop offset="0.342" stop-color="#4cddff"/><stop offset="0.368" stop-color="#7bdcff"/><stop offset="0.395" stop-color="#aedaff"/><stop offset="0.421" stop-color="#e7d8ff"/><stop offset="0.447" stop-color="#ffbade"/><stop offset="0.474" stop-color="#ff95b3"/><stop offset="0.5" stop-color="#ff7994"/><stop offset="0.526" stop-color="#ff637b"/><stop offset="0.553" stop-color="#ff5268"/><stop offset="0.579" stop-color="#ff4458"/><stop offset="0.605" stop-color="#ff394b"/><stop offset="0.632" stop-color="#ff2f40"/><stop offset="0.658" stop-color="#ff2736"/><stop offset="0.684" stop-color="#ff1f2e"/><stop offset="0.711" stop-color="#ff1927"/><stop offset="0.737" stop-color="#ff1320"/><stop offset="0.763" stop-color="#ff0e1b"/><stop offset="0.789" stop-color="#ff0a16"/><stop offset="0.816" stop-color="#ff0611"/><stop offset="0.842" stop-color="#ff020d"/><stop offset="0.868" stop-color="#ff0009"/><stop offset="0.895" stop-color="#ff0006"/><stop offset="0.921" stop-color="#ff0003"/><stop offset="0.947" stop-color="#ff0000"/><stop offset="0.974" stop-color="#ff0000"/><stop offset="1" stop-color="#ff0000"/></linearGradient>
<linearGradient id="s100" gradientUnits="userSpaceOnUse" x1="784.0" y1="0" x2="1088.0" y2="0"><stop offset="0" stop-color="#00e3ff"/><stop offset="0.0263" stop-color="#00e2ff"/><stop offset="0.0526" stop-color="#00e1ff"/><stop offset="0.0789" stop-color="#00e1ff"/><stop offset="0.105" stop-color="#00dfff"/><stop offset="0.132" stop-color="#00deff"/><stop offset="0.158" stop-color="#00ddff"/><stop offset="0.184" stop-color="#00dcff"/><stop offset="0.211" stop-color="#00daff"/><stop offset="0.237" stop-color="#00d9ff"/><stop offset="0.263" stop-color="#00d7ff"/><stop offset="0.289" stop-color="#24d6ff"/><stop offset="0.316" stop-color="#4ed4ff"/><stop offset="0.342" stop-color="#7cd2ff"/><stop offset="0.368" stop-color="#afd0ff"/><stop offset="0.395" stop-color="#e6cdff"/><stop offset="0.421" stop-color="#ffb1df"/><stop offset="0.447" stop-color="#ff8db5"/><stop offset="0.474" stop-color="#ff7395"/><stop offset="0.5" stop-color="#ff5e7d"/><stop offset="0.526" stop-color="#ff4e69"/><stop offset="0.553" stop-color="#ff405a"/><stop offset="0.579" stop-color="#ff354c"/><stop offset="0.605" stop-color="#ff2c41"/><stop offset="0.632" stop-color="#ff2437"/><stop offset="0.658" stop-color="#ff1d2f"/><stop offset="0.684" stop-color="#ff1628"/><stop offset="0.711" stop-color="#ff1122"/><stop offset="0.737" stop-color="#ff0c1c"/><stop offset="0.763" stop-color="#ff0817"/><stop offset="0.789" stop-color="#ff0412"/><stop offset="0.816" stop-color="#ff010e"/><stop offset="0.842" stop-color="#ff000a"/><stop offset="0.868" stop-color="#ff0007"/><stop offset="0.895" stop-color="#ff0004"/><stop offset="0.921" stop-color="#ff0001"/><stop offset="0.947" stop-color="#ff0000"/><stop offset="0.974" stop-color="#ff0000"/><stop offset="1" stop-color="#ff0000"/></linearGradient>
<linearGradient id="s101" gradientUnits="userSpaceOnUse" x1="784.0" y1="0" x2="1088.0" y2="0"><stop offset="0" stop-color="#00ddff"/><stop offset="0.0263" stop-color="#00dcff"/><stop offset="0.0526" stop-color="#00dbff"/><stop offset="0.0789" stop-color="#00daff"/><stop offset="0.105" stop-color="#00d8ff"/><stop offset="0.132" stop-color="#00d7ff"/><stop offset="0.158" stop-color="#00d6ff"/><stop offset="0.184" stop-color="#00d4ff"/><stop offset="0.211" stop-color="#00d2ff"/><stop offset="0.237" stop-color="#00d1ff"/><stop offset="0.263" stop-color="#00cfff"/><stop offset="0.289" stop-color="#26cdff"/><stop offset="0.316" stop-color="#50cbff"/><stop offset="0.342" stop-color="#7ec8ff"/><stop offset="0.368" stop-color="#afc6ff"/><stop offset="0.395" stop-color="#e6c3ff"/><stop offset="0.421" stop-color="#ffa8e0"/><stop offset="0.447" stop-color="#ff86b6"/><stop offset="0.474" stop-color="#ff6d97"/><stop offset="0.5" stop-color="#ff597f"/><stop offset="0.526" stop-color="#ff496b"/><stop offset="0.553" stop-color="#ff3c5b"/><stop offset="0.579" stop-color="#ff324e"/><stop offset="0.605" stop-color="#ff2943"/><stop offset="0.632" stop-color="#ff2139"/><stop offset="0.658" stop-color="#ff1a31"/><stop offset="0.684" stop-color="#ff1429"/><stop offset="0.711" stop-color="#ff0f23"/><stop offset="0.737" stop-color="#ff0a1d"/><stop offset="0.763" stop-color="#ff0618"/><stop offset="0.789" stop-color="#ff0213"/><stop offset="0.816" stop-color="#ff000f"/><stop offset="0.842" stop-color="#ff000b"/><stop offset="0.868" stop-color="#ff0008"/><stop offset="0.895" stop-color="#ff0005"/><stop offset="0.921" stop-color="#ff0002"/><stop offset="0.947" stop-color="#ff0000"/><stop offset="0.974" stop-color="#ff0000"/><stop offset="1" stop-color="#ff0000"/></linearGradient>
<linearGradient id="s102" gradientUnits="userSpaceOnUse" x1="784.0" y1="0" x2="1088.0" y2="0"><stop offset="0" stop-color="#00d7ff"/><stop offset="0.0263" stop-color="#00d6ff"/><stop offset="0.0526" stop-color="#00d4ff"/><stop offset="0.0789" stop-color="#00d3ff"/><stop offset="0.105" stop-color="#00d2ff"/><stop offset="0.132" stop-color="#00d0ff"/><stop offset="0.158" stop-color="#00ceff"/><stop offset="0.184" stop-color="#00cdff"/><stop offset="0.211" stop-color="#00cbff"/><stop offset="0.237" stop-color="#00c9ff"/><stop offset="0.263" stop-color="#03c7ff"/><stop offset="0.289" stop-color="#29c4ff"/><stop offset="0.316" stop-color="#52c2ff"/><stop offset="0.342" stop-color="#7fbfff"/><stop offset="0.368" stop-color="#b0bcff"/><stop offset="0.395" stop-color="#e6b9ff"/><stop offset="0.421" stop-color="#ffa0e1"/><stop offset="0.447" stop-color="#ff80b8"/><stop offset="0.474" stop-color="#ff6799"/><stop offset="0.5" stop-color="#ff5480"/><stop offset="0.526" stop-color="#ff456d"/><stop offset="0.553" stop-color="#ff395d"/><stop offset="0.579" stop-color="#ff2e4f"/><stop offset="0.605" stop-color="#ff2544"/><stop offset="0.632" stop-color="#ff1e3a"/><stop offset="0.658" stop-color="#ff1732"/><stop offset="0.684" stop-color="#ff122b"/><stop offset="0.711" stop-color="#ff0d24"/><stop offset="0.737" stop-color="#ff081e"/><stop offset="0.763" stop-color="#ff0419"/><stop offset="0.789" stop-color="#ff0015"/><stop offset="0.816" stop-color="#ff0010"/><stop offset="0.842" stop-color="#ff000d"/><stop offset="0.868" stop-color="#ff0009"/><stop offset="0.895" stop-color="#ff0006"/><stop offset="0.921" stop-color="#ff0003"/><stop offset="0.947" stop-color="#ff0000"/><stop offset="0.974" stop-color="#ff0000"/><stop offset="1" stop-color="#ff0000"/></linearGradient>
<linearGradient id="s103" gradientUnits="userSpaceOnUse" x1="784.0" y1="0" x2="1096.0" y2="0"><stop offset="0" stop-color="#00d1ff"/><stop offset="0.0256" stop-color="#00cfff"/><stop offset="0.0513" stop-color="#00ceff"/><stop offset="0.0769" stop-color="#00ccff"/><stop offset="0.103" stop-color="#00cbff"/><stop offset="0.128" stop-color="#00c9ff"/><stop offset="0.154" stop-color="#00c7ff"/><stop offset="0.179" stop-color="#00c5ff"/><stop offset="0.205" stop-color="#00c3ff"/><stop offset="0.231" stop-color="#00c1ff"/><stop offset="0.256" stop-color="#06beff"/><stop offset="0.282" stop-color="#2bbcff"/><stop offset="0.308" stop-color="#54b9ff"/><stop offset="0.333" stop-color="#80b6ff"/><stop offset="0.359" stop-color="#b1b2ff"/><stop offset="0.385" stop-color="#e5afff"/><stop offset="0.41" stop-color="#ff98e3"/><stop offset="0.436" stop-color="#ff79b9"/><stop offset="0.462" stop-color="#ff629a"/><stop offset="0.487" stop-color="#ff4f82"/><stop offset="0.513" stop-color="#ff416e"/><stop offset="0.538" stop-color="#ff355e"/><stop offset="0.564" stop-color="#ff2b51"/><stop offset="0.59" stop-color="#ff2246"/><stop offset="0.615" stop-color="#ff1b3c"/><stop offset="0.641" stop-color="#ff1534"/><stop offset="0.667" stop-color="#ff0f2c"/><stop offset="0.692" stop-color="#ff0a26"/><stop offset="0.718" stop-color="#ff0620"/><stop offset="0.744" stop-color="#ff021a"/><stop offset="0.769" stop-color="#ff0016"/><stop offset="0.795" stop-color="#ff0012"/><stop offset="0.821" stop-color="#ff000e"/><stop offset="0.846" stop-color="#ff000a"/><stop offset="0.872" stop-color="#ff0007"/><stop offset="0.897" stop-color="#ff0004"/><stop offset="0.923" stop-color="#ff0001"/><stop offset="0.949" stop-color="#ff0000"/><stop offset="0.974" stop-color="#ff0000"/><stop offset="1" stop-color="#ff0000"/></linearGradient>
<linearGradient id="s104" gradientUnits="userSpaceOnUse" x1="784.0" y1="0" x2="1096.0" y2="0"><stop offset="0" stop-color="#00cbff"/><stop offset="0.0256" stop-color="#00c9ff"/><stop offset="0.0513" stop-color="#00c8ff"/><stop offset="0.0769" stop-color="#00c6ff"/><stop offset="0.103" stop-color="#00c4ff"/><stop offset="0.128" stop-color="#00c2ff"/><stop offset="0.154" stop-color="#00c0ff"/><stop offset="0.179" stop-color="#00beff"/><stop offset="0.205" stop-color="#00bcff"/><stop offset="0.231" stop-color="#00b9ff"/><stop offset="0.256" stop-color="#09b7ff"/><stop offset="0.282" stop-color="#2eb4ff"/><stop offset="0.308" stop-color="#56b0ff"/><stop offset="0.333" stop-color="#82adff"/><stop offset="0.359" stop-color="#b1a9ff"/><stop offset="0.385" stop-color="#e5a5ff"/><stop offset="0.41" stop-color="#ff90e4"/><stop offset="0.436" stop-color="#ff72bb"/><stop offset="0.462" stop-color="#ff5c9c"/><stop offset="0.487" stop-color="#ff4b84"/><stop offset="0.513" stop-color="#ff3d70"/><stop offset="0.538" stop-color="#ff3160"/><stop offset="0.564" stop-color="#ff2753"/><stop offset="0.59" stop-color="#ff1f47"/><stop offset="0.615" stop-color="#ff183d"/><stop offset="0.641" stop-color="#ff1235"/><stop offset="0.667" stop-color="#ff0d2d"/><stop offset="0.692" stop-color="#ff0827"/><stop offset="0.718" stop-color="#ff0421"/><stop offset="0.744" stop-color="#ff001c"/><stop offset="0.769" stop-color="#ff0017"/><stop offset="0.795" stop-color="#ff0013"/><stop offset="0.821" stop-color="#ff000f"/><stop offset="0.846" stop-color="#ff000b"/><stop offset="0.872" stop-color="#ff0008"/><stop offset="0.897" stop-color="#ff0005"/><stop offset="0.923" stop-color="#ff0002"/><stop offset="0.949" stop-color="#ff0000"/><stop offset="0.974" stop-color="#ff0000"/><stop offset="1" stop-color="#ff0000"/></linearGradient>
<linearGradient id="s105" gradientUnits="userSpaceOnUse" x1="784.0" y1="0" x2="1096.0" y2="0"><stop offset="0" stop-color="#00c5ff"/><stop offset="0.0256" stop-color="#00c3ff"/><stop offset="0.0513" stop-color="#00c2ff"/><stop offset="0.0769" stop-color="#00c0ff"/><stop offset="0.103" stop-color="#00beff"/><stop offset="0.128" stop-color="#00bcff"/><stop offset="0.154" stop-color="#00b9ff"/><stop offset="0.179" stop-color="#00b7ff"/><stop offset="0.205" stop-color="#00b5ff"/><stop offset="0.231" stop-color="#00b2ff"/><stop offset="0.256" stop-color="#0bafff"/><stop offset="0.282" stop-color="#30acff"/><stop offset="0.308" stop-color="#58a8ff"/><stop offset="0.333" stop-color="#83a5ff"/><stop offset="0.359" stop-color="#b2a1ff"/><stop offset="0.385" stop-color="#e59cff"/><stop offset="0.41" stop-color="#ff88e5"/><stop offset="0.436" stop-color="#ff6cbc"/><stop offset="0.462" stop-color="#ff579d"/><stop offset="0.487" stop-color="#ff4685"/><stop offset="0.513" stop-color="#ff3972"/><stop offset="0.538" stop-color="#ff2d62"/><stop offset="0.564" stop-color="#ff2454"/><stop offset="0.59" stop-color="#ff1c49"/><stop offset="0.615" stop-color="#ff163f"/><stop offset="0.641" stop-color="#ff1036"/><stop offset="0.667" stop-color="#ff0a2f"/><stop offset="0.692" stop-color="#ff0628"/><stop offset="0.718" stop-color="#ff0222"/><stop offset="0.744" stop-color="#ff001d"/><stop offset="0.769" stop-color="#ff0018"/><stop offset="0.795" stop-color="#ff0014"/><stop offset="0.821" stop-color="#ff0010"/><stop offset="0.846" stop-color="#ff000c"/><stop offset="0.872" stop-color="#ff0009"/><stop offset="0.897" stop-color="#ff0006"/><stop offset="0.923" stop-color="#ff0003"/><stop offset="0.949" stop-color="#ff0000"/><stop offset="0.974" stop-color="#ff0000"/><stop offset="1" stop-color="#ff0000"/></linearGradient>
<linearGradient id="s106" gradientUnits="userSpaceOnUse" x1="784.0" y1="0" x2="1096.0" y2="0"><stop offset="0" stop-color="#00bfff"/><stop offset="0.0256" stop-color="#00beff"/><stop offset="0.0513" stop-color="#00bcff"/><stop offset="0.0769" stop-color="#00baff"/><stop offset="0.103" stop-color="#00b7ff"/><stop offset="0.128" stop-color="#00b5ff"/><stop offset="0.154" stop-color="#00b3ff"/><stop offset="0.179" stop-color="#00b0ff"/><stop offset="0.205" stop-color="#00aeff"/><stop offset="0.231" stop-color="#00abff"/><stop offset="0.256" stop-color="#0ea7ff"/><stop offset="0.282" stop-color="#32a4ff"/><stop offset="0.308" stop-color="#5aa0ff"/><stop offset="0.333" stop-color="#849cff"/><stop offset="0.359" stop-color="#b298ff"/><stop offset="0.385" stop-color="#e494ff"/><stop offset="0.41" stop-color="#ff80e6"/><stop offset="0.436" stop-color="#ff66be"/><stop offset="0.462" stop-color="#ff519f"/><stop offset="0.487" stop-color="#ff4187"/><stop offset="0.513" stop-color="#ff3573"/><stop offset="0.538" stop-color="#ff2a63"/><stop offset="0.564" stop-color="#ff2156"/><stop offset="0.59" stop-color="#ff194a"/><stop offset="0.615" stop-color="#ff1340"/><stop offset="0.641" stop-color="#ff0d38"/><stop offset="0.667" stop-color="#ff0830"/><stop offset="0.692" stop-color="#ff0429"/><stop offset="0.718" stop-color="#ff0023"/><stop offset="0.744" stop-color="#ff001e"/><stop offset="0.769" stop-color="#ff0019"/><stop offset="0.795" stop-color="#ff0015"/><stop offset="0.821" stop-color="#ff0011"/><stop offset="0.846" stop-color="#ff000d"/><stop offset="0.872" stop-color="#ff000a"/><stop offset="0.897" stop-color="#ff0007"/><stop offset="0.923" stop-color="#ff0004"/><stop offset="0.949" stop-color="#ff0001"/><stop offset="0.974" stop-color="#ff0000"/><stop offset="1" stop-color="#ff0000"/></linearGradient>
<linearGradient id="s107" gradientUnits="userSpaceOnUse" x1="784.0" y1="0" x2="1104.0" y2="0"><stop offset="0" stop-color="#00baff"/><stop offset="0.025" stop-color="#00b8ff"/><stop offset="0.05" stop-color="#00b6ff"/><stop offset="0.075" stop-color="#00b4ff"/><stop offset="0.1" stop-color="#00b1ff"/><stop offset="0.125" stop-color="#00afff"/><stop offset="0.15" stop-color="#00acff"/><stop offset="0.175" stop-color="#00aaff"/><stop offset="0.2" stop-color="#00a7ff"/><stop offset="0.225" stop-color="#00a4ff"/><stop offset="0.25" stop-color="#11a0ff"/><stop offset="0.275" stop-color="#359dff"/><stop offset="0.3" stop-color="#5b99ff"/><stop offset="0.325" stop-color="#8594ff"/><stop offset="0.35" stop-color="#b390ff"/><stop offset="0.375" stop-color="#e48bff"/><stop offset="0.4" stop-color="#ff79e7"/><stop offset="0.425" stop-color="#ff60bf"/><stop offset="0.45" stop-color="#ff4ca0"/><stop offset="0.475" stop-color="#ff3d88"/><stop offset="0.5" stop-color="#ff3175"/><stop offset="0.525" stop-color="#ff2665"/><stop offset="0.55" stop-color="#ff1e57"/><stop offset="0.575" stop-color="#ff164c"/><stop offset="0.6" stop-color="#ff1042"/><stop offset="0.625" stop-color="#ff0b39"/><stop offset="0.65" stop-color="#ff0631"/><stop offset="0.675" stop-color="#ff022b"/><stop offset="0.7" stop-color="#ff0025"/><stop offset="0.725" stop-color="#ff001f"/><stop offset="0.75" stop-color="#ff001a"/><stop offset="0.775" stop-color="#ff0016"/><stop offset="0.8" stop-color="#ff0012"/><stop offset="0.825" stop-color="#ff000e"/><stop offset="0.85" stop-color="#ff000b"/><stop offset="0.875" stop-color="#ff0008"/><stop offset="0.9" stop-color="#ff0005"/><stop offset="0.925" stop-color="#ff0002"/><stop offset="0.95" stop-color="#ff0000"/><stop offset="0.975" stop-color="#ff0000"/><stop offset="1" stop-color="#ff0000"/></linearGradient>
<linearGradient id="s108" gradientUnits="userSpaceOnUse" x1="784.0" y1="0" x2="1104.0" y2="0"><stop offset="0" stop-color="#00b4ff"/><stop offset="0.025" stop-color="#00b2ff"/><stop offset="0.05" stop-color="#00b0ff"/><stop offset="0.075" stop-color="#00aeff"/><stop offset="0.1" stop-color="#00abff"/><stop offset="0.125" stop-color="#00a9ff"/><stop offset="0.15" stop-color="#00a6ff"/><stop offset="0.175" stop-color="#00a3ff"/><stop offset="0.2" stop-color="#00a0ff"/><stop offset="0.225" stop-color="#009dff"/><stop offset="0.25" stop-color="#1399ff"/><stop offset="0.275" stop-color="#3795ff"/><stop offset="0.3" stop-color="#5d91ff"/><stop offset="0.325" stop-color="#868dff"/><stop offset="0.35" stop-color="#b388ff"/><stop offset="0.375" stop-color="#e483ff"/><stop offset="0.4" stop-color="#ff72e8"/><stop offset="0.425" stop-color="#ff5ac0"/><stop offset="0.45" stop-color="#ff47a2"/><stop offset="0.475" stop-color="#ff388a"/><stop offset="0.5" stop-color="#ff2d76"/><stop offset="0.525" stop-color="#ff2366"/><stop offset="0.55" stop-color="#ff1b59"/><stop offset="0.575" stop-color="#ff144d"/><stop offset="0.6" stop-color="#ff0d43"/><stop offset="0.625" stop-color="#ff083a"/><stop offset="0.65" stop-color="#ff0433"/><stop offset="0.675" stop-color="#ff002c"/><stop offset="0.7" stop-color="#ff0026"/><stop offset="0.725" stop-color="#ff0020"/><stop offset="0.75" stop-color="#ff001c"/><stop offset="0.775" stop-color="#ff0017"/><stop offset="0.8" stop-color="#ff0013"/><stop offset="0.825" stop-color="#ff000f"/><stop offset="0.85" stop-color="#ff000c"/><stop offset="0.875" stop-color="#ff0009"/><stop offset="0.9" stop-color="#ff0006"/><stop offset="0.925" stop-color="#ff0003"/><stop offset="0.95" stop-color="#ff0001"/><stop offset="0.975" stop-color="#ff0000"/><stop offset="1" stop-color="#ff0000"/></linearGradient>
<linearGradient id="s109" gradientUnits="userSpaceOnUse" x1="784.0" y1="0" x2="1096.0" y2="0"><stop offset="0" stop-color="#00afff"/><stop offset="0.0256" stop-color="#00adff"/><stop offset="0.0513" stop-color="#00aaff"/><stop offset="0.0769" stop-color="#00a8ff"/><stop offset="0.103" stop-color="#00a5ff"/><stop offset="0.128" stop-color="#00a3ff"/><stop offset="0.154" stop-color="#00a0ff"/><stop offset="0.179" stop-color="#009dff"/><stop offset="0.205" stop-color="#0099ff"/><stop offset="0.231" stop-color="#0096ff"/><stop offset="0.256" stop-color="#1692ff"/><stop offset="0.282" stop-color="#398eff"/><stop offset="0.308" stop-color="#5f8aff"/><stop offset="0.333" stop-color="#8885ff"/><stop offset="0.359" stop-color="#b480ff"/><stop offset="0.385" stop-color="#e37bff"/><stop offset="0.41" stop-color="#ff6be9"/><stop offset="0.436" stop-color="#ff54c1"/><stop offset="0.462" stop-color="#ff42a3"/><stop offset="0.487" stop-color="#ff348b"/><stop offset="0.513" stop-color="#ff2978"/><stop offset="0.538" stop-color="#ff1f68"/><stop offset="0.564" stop-color="#ff175a"/><stop offset="0.59" stop-color="#ff114e"/><stop offset="0.615" stop-color="#ff0b44"/><stop offset="0.641" stop-color="#ff063c"/><stop offset="0.667" stop-color="#ff0134"/><stop offset="0.692" stop-color="#ff002d"/><stop offset="0.718" stop-color="#ff0027"/><stop offset="0.744" stop-color="#ff0022"/><stop offset="0.769" stop-color="#ff001d"/><stop offset="0.795" stop-color="#ff0018"/><stop offset="0.821" stop-color="#ff0014"/><stop offset="0.846" stop-color="#ff0010"/><stop offset="0.872" stop-color="#ff000d"/><stop offset="0.897" stop-color="#ff000a"/><stop offset="0.923" stop-color="#ff0007"/><stop offset="0.949" stop-color="#ff0004"/><stop offset="0.974" stop-color="#ff0002"/><stop offset="1" stop-color="#ff0000"/></linearGradient>
<linearGradient id="s110" gradientUnits="userSpaceOnUse" x1="784.0" y1="0" x2="1088.0" y2="0"><stop offset="0" stop-color="#00aaff"/><stop offset="0.0263" stop-color="#00a7ff"/><stop offset="0.0526" stop-color="#00a5ff"/><stop offset="0.0789" stop-color="#00a2ff"/><stop offset="0.105" stop-color="#00a0ff"/><stop offset="0.132" stop-color="#009dff"/><stop offset="0.158" stop-color="#009aff"/><stop offset="0.184" stop-color="#0097ff"/><stop offset="0.211" stop-color="#0093ff"/><stop offset="0.237" stop-color="#008fff"/><stop offset="0.263" stop-color="#188cff"/><stop offset="0.289" stop-color="#3b87ff"/><stop offset="0.316" stop-color="#6083ff"/><stop offset="0.342" stop-color="#897eff"/><stop offset="0.368" stop-color="#b479ff"/><stop offset="0.395" stop-color="#e373ff"/><stop offset="0.421" stop-color="#ff64ea"/><stop offset="0.447" stop-color="#ff4ec3"/><stop offset="0.474" stop-color="#ff3da5"/><stop offset="0.5" stop-color="#ff308d"/><stop offset="0.526" stop-color="#ff2579"/><stop offset="0.553" stop-color="#ff1c69"/><stop offset="0.579" stop-color="#ff145b"/><stop offset="0.605" stop-color="#ff0e50"/><stop offset="0.632" stop-color="#ff0846"/><stop offset="0.658" stop-color="#ff033d"/><stop offset="0.684" stop-color="#ff0035"/><stop offset="0.711" stop-color="#ff002e"/><stop offset="0.737" stop-color="#ff0028"/><stop offset="0.763" stop-color="#ff0023"/><stop offset="0.789" stop-color="#ff001e"/><stop offset="0.816" stop-color="#ff0019"/><stop offset="0.842" stop-color="#ff0015"/><stop offset="0.868" stop-color="#ff0011"/><stop offset="0.895" stop-color="#ff000e"/><stop offset="0.921" stop-color="#ff000b"/><stop offset="0.947" stop-color="#ff0008"/><stop offset="0.974" stop-color="#ff0005"/><stop offset="1" stop-color="#ff0003"/></linearGradient>
<linearGradient id="s111" gradientUnits="userSpaceOnUse" x1="784.0" y1="0" x2="1088.0" y2="0"><stop offset="0" stop-color="#00a5ff"/><stop offset="0.0263" stop-color="#00a2ff"/><stop offset="0.0526" stop-color="#00a0ff"/><stop offset="0.0789" stop-color="#009dff"/><stop offset="0.105" stop-color="#009aff"/><stop offset="0.132" stop-color="#0097ff"/><stop offset="0.158" stop-color="#0094ff"/><stop offset="0.184" stop-color="#0091ff"/><stop offset="0.211" stop-color="#008dff"/><stop offset="0.237" stop-color="#0089ff"/><stop offset="0.263" stop-color="#1b85ff"/><stop offset="0.289" stop-color="#3d81ff"/><stop offset="0.316" stop-color="#627cff"/><stop offset="0.342" stop-color="#8a77ff"/><stop offset="0.368" stop-color="#b472ff"/><stop offset="0.395" stop-color="#e36cff"/><stop offset="0.421" stop-color="#ff5deb"/><stop offset="0.447" stop-color="#ff48c4"/><stop offset="0.474" stop-color="#ff38a6"/><stop offset="0.5" stop-color="#ff2c8e"/><stop offset="0.526" stop-color="#ff217b"/><stop offset="0.553" stop-color="#ff196b"/><stop offset="0.579" stop-color="#ff115d"/><stop offset="0.605" stop-color="#ff0b51"/><stop offset="0.632" stop-color="#ff0647"/><stop offset="0.658" stop-color="#ff013e"/><stop offset="0.684" stop-color="#ff0037"/><stop offset="0.711" stop-color="#ff0030"/><stop offset="0.737" stop-color="#ff002a"/><stop offset="0.763" stop-color="#ff0024"/><stop offset="0.789" stop-color="#ff001f"/><stop offset="0.816" stop-color="#ff001a"/><stop offset="0.842" stop-color="#ff0016"/><stop offset="0.868" stop-color="#ff0012"/><stop offset="0.895" stop-color="#ff000f"/><stop offset="0.921" stop-color="#ff000c"/><stop offset="0.947" stop-color="#ff0009"/><stop offset="0.974" stop-color="#ff0006"/><stop offset="1" stop-color="#ff0003"/></linearGradient>
<linearGradient id="s112" gradientUnits="userSpaceOnUse" x1="784.0" y1="0" x2="1080.0" y2="0"><stop offset="0" stop-color="#009fff"/><stop offset="0.027" stop-color="#009dff"/><stop offset="0.0541" stop-color="#009aff"/><stop offset="0.0811" stop-color="#0098ff"/><stop offset="0.108" stop-color="#0095ff"/><stop offset="0.135" stop-color="#0091ff"/><stop offset="0.162" stop-color="#008eff"/><stop offset="0.189" stop-color="#008bff"/><stop offset="0.216" stop-color="#0087ff"/><stop offset="0.243" stop-color="#0083ff"/><stop offset="0.27" stop-color="#1d7fff"/><stop offset="0.297" stop-color="#3f7aff"/><stop offset="0.324" stop-color="#6375ff"/><stop offset="0.351" stop-color="#8b70ff"/><stop offset="0.378" stop-color="#b56aff"/><stop offset="0.405" stop-color="#e364ff"/><stop offset="0.432" stop-color="#ff57ec"/><stop offset="0.459" stop-color="#ff43c5"/><stop offset="0.486" stop-color="#ff34a7"/><stop offset="0.514" stop-color="#ff2890"/><stop offset="0.541" stop-color="#ff1e7c"/><stop offset="0.568" stop-color="#ff156c"/><stop offset="0.595" stop-color="#ff0e5e"/><stop offset="0.622" stop-color="#ff0853"/><stop offset="0.649" stop-color="#ff0348"/><stop offset="0.676" stop-color="#ff0040"/><stop offset="0.703" stop-color="#ff0038"/><stop offset="0.73" stop-color="#ff0031"/><stop offset="0.757" stop-color="#ff002b"/><stop offset="0.784" stop-color="#ff0025"/><stop offset="0.811" stop-color="#ff0020"/><stop offset="0.838" stop-color="#ff001b"/><stop offset="0.865" stop-color="#ff0017"/><stop offset="0.892" stop-color="#ff0013"/><stop offset="0.919" stop-color="#ff0010"/><stop offset="0.946" stop-color="#ff000d"/><stop offset="0.973" stop-color="#ff000a"/><stop offset="1" stop-color="#ff0007"/></linearGradient>
<linearGradient id="s113" gradientUnits="userSpaceOnUse" x1="784.0" y1="0" x2="1072.0" y2="0"><stop offset="0" stop-color="#009bff"/><stop offset="0.0278" stop-color="#0098ff"/><stop offset="0.0556" stop-color="#0095ff"/><stop offset="0.0833" stop-color="#0092ff"/><stop offset="0.111" stop-color="#008fff"/><stop offset="0.139" stop-color="#008cff"/><stop offset="0.167" stop-color="#0088ff"/><stop offset="0.194" stop-color="#0085ff"/><stop offset="0.222" stop-color="#0081ff"/><stop offset="0.25" stop-color="#007dff"/><stop offset="0.278" stop-color="#1f78ff"/><stop offset="0.306" stop-color="#4174ff"/><stop offset="0.333" stop-color="#656fff"/><stop offset="0.361" stop-color="#8c69ff"/><stop offset="0.389" stop-color="#b564ff"/><stop offset="0.417" stop-color="#e25dff"/><stop offset="0.444" stop-color="#ff50ec"/><stop offset="0.472" stop-color="#ff3ec6"/><stop offset="0.5" stop-color="#ff2fa9"/><stop offset="0.528" stop-color="#ff2391"/><stop offset="0.556" stop-color="#ff1a7d"/><stop offset="0.583" stop-color="#ff126d"/><stop offset="0.611" stop-color="#ff0b60"/><stop offset="0.639" stop-color="#ff0654"/><stop offset="0.667" stop-color="#ff014a"/><stop offset="0.694" stop-color="#ff0041"/><stop offset="0.722" stop-color="#ff0039"/><stop offset="0.75" stop-color="#ff0032"/><stop offset="0.778" stop-color="#ff002c"/><stop offset="0.806" stop-color="#ff0026"/><stop offset="0.833" stop-color="#ff0021"/><stop offset="0.861" stop-color="#ff001d"/><stop offset="0.889" stop-color="#ff0018"/><stop offset="0.917" stop-color="#ff0014"/><stop offset="0.944" stop-color="#ff0011"/><stop offset="0.972" stop-color="#ff000e"/><stop offset="1" stop-color="#ff000b"/></linearGradient>
<linearGradient id="s114" gradientUnits="userSpaceOnUse" x1="792.0" y1="0" x2="1072.0" y2="0"><stop offset="0" stop-color="#0093ff"/><stop offset="0.0286" stop-color="#0090ff"/><stop offset="0.0571" stop-color="#008dff"/><stop offset="0.0857" stop-color="#008aff"/><stop offset="0.114" stop-color="#0087ff"/><stop offset="0.143" stop-color="#0083ff"/><stop offset="0.171" stop-color="#007fff"/><stop offset="0.2" stop-color="#007bff"/><stop offset="0.229" stop-color="#0277ff"/><stop offset="0.257" stop-color="#2172ff"/><stop offset="0.286" stop-color="#436eff"/><stop offset="0.314" stop-color="#6668ff"/><stop offset="0.343" stop-color="#8d63ff"/><stop offset="0.371" stop-color="#b65dff"/><stop offset="0.4" stop-color="#e257ff"/><stop offset="0.429" stop-color="#ff4aed"/><stop offset="0.457" stop-color="#ff38c7"/><stop offset="0.486" stop-color="#ff2baa"/><stop offset="0.514" stop-color="#ff1f92"/><stop offset="0.543" stop-color="#ff167f"/><stop offset="0.571" stop-color="#ff0f6f"/><stop offset="0.6" stop-color="#ff0861"/><stop offset="0.629" stop-color="#ff0355"/><stop offset="0.657" stop-color="#ff004b"/><stop offset="0.686" stop-color="#ff0042"/><stop offset="0.714" stop-color="#ff003a"/><stop offset="0.743" stop-color="#ff0033"/><stop offset="0.771" stop-color="#ff002d"/><stop offset="0.8" stop-color="#ff0027"/><stop offset="0.829" stop-color="#ff0022"/><stop offset="0.857" stop-color="#ff001e"/><stop offset="0.886" stop-color="#ff0019"/><stop offset="0.914" stop-color="#ff0015"/><stop offset="0.943" stop-color="#ff0012"/><stop offset="0.971" stop-color="#ff000f"/><stop offset="1" stop-color="#ff000c"/></linearGradient>
<linearGradient id="s115" gradientUnits="userSpaceOnUse" x1="792.0" y1="0" x2="1064.0" y2="0"><stop offset="0" stop-color="#008eff"/><stop offset="0.0294" stop-color="#008bff"/><stop offset="0.0588" stop-color="#0088ff"/><stop offset="0.0882" stop-color="#0085ff"/><stop offset="0.118" stop-color="#0081ff"/><stop offset="0.147" stop-color="#007eff"/><stop offset="0.176" stop-color="#007aff"/><stop offset="0.206" stop-color="#0076ff"/><stop offset="0.235" stop-color="#0571ff"/><stop offset="0.265" stop-color="#236dff"/><stop offset="0.294" stop-color="#4468ff"/><stop offset="0.324" stop-color="#6862ff"/><stop offset="0.353" stop-color="#8e5dff"/><stop offset="0.382" stop-color="#b656ff"/><stop offset="0.412" stop-color="#e250ff"/><stop offset="0.441" stop-color="#ff44ee"/><stop offset="0.471" stop-color="#ff33c9"/><stop offset="0.5" stop-color="#ff26ab"/><stop offset="0.529" stop-color="#ff1c94"/><stop offset="0.559" stop-color="#ff1380"/><stop offset="0.588" stop-color="#ff0c70"/><stop offset="0.618" stop-color="#ff0662"/><stop offset="0.647" stop-color="#ff0057"/><stop offset="0.676" stop-color="#ff004c"/><stop offset="0.706" stop-color="#ff0043"/><stop offset="0.735" stop-color="#ff003b"/><stop offset="0.765" stop-color="#ff0034"/><stop offset="0.794" stop-color="#ff002e"/><stop offset="0.824" stop-color="#ff0028"/><stop offset="0.853" stop-color="#ff0023"/><stop offset="0.882" stop-color="#ff001f"/><stop offset="0.912" stop-color="#ff001a"/><stop offset="0.941" stop-color="#ff0016"/><stop offset="0.971" stop-color="#ff0013"/><stop offset="1" stop-color="#ff0010"/></linearGradient>
<linearGradient id="s116" gradientUnits="userSpaceOnUse" x1="792.0" y1="0" x2="1056.0" y2="0"><stop offset="0" stop-color="#0089ff"/><stop offset="0.0303" stop-color="#0086ff"/><stop offset="0.0606" stop-color="#0083ff"/><stop offset="0.0909" stop-color="#0080ff"/><stop offset="0.121" stop-color="#007cff"/><stop offset="0.152" stop-color="#0078ff"/><stop offset="0.182" stop-color="#0074ff"/><stop offset="0.212" stop-color="#0070ff"/><stop offset="0.242" stop-color="#076cff"/><stop offset="0.273" stop-color="#2667ff"/><stop offset="0.303" stop-color="#4662ff"/><stop offset="0.333" stop-color="#695cff"/><stop offset="0.364" stop-color="#8e56ff"/><stop offset="0.394" stop-color="#b750ff"/><stop offset="0.424" stop-color="#e249ff"/><stop offset="0.455" stop-color="#ff3eef"/><stop offset="0.485" stop-color="#ff2eca"/><stop offset="0.515" stop-color="#ff22ac"/><stop offset="0.545" stop-color="#ff1895"/><stop offset="0.576" stop-color="#ff0f82"/><stop offset="0.606" stop-color="#ff0971"/><stop offset="0.636" stop-color="#ff0364"/><stop offset="0.667" stop-color="#ff0058"/><stop offset="0.697" stop-color="#ff004e"/><stop offset="0.727" stop-color="#ff0045"/><stop offset="0.758" stop-color="#ff003d"/><stop offset="0.788" stop-color="#ff0036"/><stop offset="0.818" stop-color="#ff002f"/><stop offset="0.848" stop-color="#ff002a"/><stop offset="0.879" stop-color="#ff0024"/><stop offset="0.909" stop-color="#ff0020"/><stop offset="0.939" stop-color="#ff001b"/><stop offset="0.97" stop-color="#ff0017"/><stop offset="1" stop-color="#ff0014"/></linearGradient>
<linearGradient id="s117" gradientUnits="userSpaceOnUse" x1="792.0" y1="0" x2="1056.0" y2="0"><stop offset="0" stop-color="#0085ff"/><stop offset="0.0303" stop-color="#0081ff"/><stop offset="0.0606" stop-color="#007eff"/><stop offset="0.0909" stop-color="#007bff"/><stop offset="0.121" stop-color="#0077ff"/><stop offset="0.152" stop-color="#0073ff"/><stop offset="0.182" stop-color="#006fff"/><stop offset="0.212" stop-color="#006bff"/><stop offset="0.242" stop-color="#0966ff"/><stop offset="0.273" stop-color="#2861ff"/><stop offset="0.303" stop-color="#485cff"/><stop offset="0.333" stop-color="#6a56ff"/><stop offset="0.364" stop-color="#8f50ff"/><stop offset="0.394" stop-color="#b74aff"/><stop offset="0.424" stop-color="#e143ff"/><stop offset="0.455" stop-color="#ff38f0"/><stop offset="0.485" stop-color="#ff29cb"/><stop offset="0.515" stop-color="#ff1dae"/><stop offset="0.545" stop-color="#ff1496"/><stop offset="0.576" stop-color="#ff0c83"/><stop offset="0.606" stop-color="#ff0573"/><stop offset="0.636" stop-color="#ff0065"/><stop offset="0.667" stop-color="#ff0059"/><stop offset="0.697" stop-color="#ff004f"/><stop offset="0.727" stop-color="#ff0046"/><stop offset="0.758" stop-color="#ff003e"/><stop offset="0.788" stop-color="#ff0037"/><stop offset="0.818" stop-color="#ff0030"/><stop offset="0.848" stop-color="#ff002b"/><stop offset="0.879" stop-color="#ff0025"/><stop offset="0.909" stop-color="#ff0021"/><stop offset="0.939" stop-color="#ff001c"/><stop offset="0.97" stop-color="#ff0018"/><stop offset="1" stop-color="#ff0015"/></linearGradient>
<linearGradient id="s118" gradientUnits="userSpaceOnUse" x1="792.0" y1="0" x2="1048.0" y2="0"><stop offset="0" stop-color="#0080ff"/><stop offset="0.0312" stop-color="#007dff"/><stop offset="0.0625" stop-color="#0079ff"/><stop offset="0.0938" stop-color="#0076ff"/><stop offset="0.125" stop-color="#0072ff"/><stop offset="0.156" stop-color="#006eff"/><stop offset="0.188" stop-color="#006aff"/><stop offset="0.219" stop-color="#0065ff"/><stop offset="0.25" stop-color="#0c61ff"/><stop offset="0.281" stop-color="#2a5cff"/><stop offset="0.312" stop-color="#4a56ff"/><stop offset="0.344" stop-color="#6c51ff"/><stop offset="0.375" stop-color="#904bff"/><stop offset="0.406" stop-color="#b744ff"/><stop offset="0.438" stop-color="#e13dff"/><stop offset="0.469" stop-color="#ff33f1"/><stop offset="0.5" stop-color="#ff24cc"/><stop offset="0.531" stop-color="#ff19af"/><stop offset="0.562" stop-color="#ff1097"/><stop offset="0.594" stop-color="#ff0984"/><stop offset="0.625" stop-color="#ff0274"/><stop offset="0.656" stop-color="#ff0066"/><stop offset="0.688" stop-color="#ff005a"/><stop offset="0.719" stop-color="#ff0050"/><stop offset="0.75" stop-color="#ff0047"/><stop offset="0.781" stop-color="#ff003f"/><stop offset="0.812" stop-color="#ff0038"/><stop offset="0.844" stop-color="#ff0032"/><stop offset="0.875" stop-color="#ff002c"/><stop offset="0.906" stop-color="#ff0027"/><stop offset="0.938" stop-color="#ff0022"/><stop offset="0.969" stop-color="#ff001d"/><stop offset="1" stop-color="#ff0019"/></linearGradient>
<linearGradient id="s119" gradientUnits="userSpaceOnUse" x1="792.0" y1="0" x2="1040.0" y2="0"><stop offset="0" stop-color="#007bff"/><stop offset="0.0323" stop-color="#0078ff"/><stop offset="0.0645" stop-color="#0075ff"/><stop offset="0.0968" stop-color="#0071ff"/><stop offset="0.129" stop-color="#006dff"/><stop offset="0.161" stop-color="#0069ff"/><stop offset="0.194" stop-color="#0065ff"/><stop offset="0.226" stop-color="#0060ff"/><stop offset="0.258" stop-color="#0e5bff"/><stop offset="0.29" stop-color="#2c56ff"/><stop offset="0.323" stop-color="#4b51ff"/><stop offset="0.355" stop-color="#6d4bff"/><stop offset="0.387" stop-color="#9145ff"/><stop offset="0.419" stop-color="#b83eff"/><stop offset="0.452" stop-color="#e137ff"/><stop offset="0.484" stop-color="#ff2df1"/><stop offset="0.516" stop-color="#ff20cd"/><stop offset="0.548" stop-color="#ff15b0"/><stop offset="0.581" stop-color="#ff0c99"/><stop offset="0.613" stop-color="#ff0585"/><stop offset="0.645" stop-color="#ff0075"/><stop offset="0.677" stop-color="#ff0068"/><stop offset="0.71" stop-color="#ff005c"/><stop offset="0.742" stop-color="#ff0051"/><stop offset="0.774" stop-color="#ff0048"/><stop offset="0.806" stop-color="#ff0040"/><stop offset="0.839" stop-color="#ff0039"/><stop offset="0.871" stop-color="#ff0033"/><stop offset="0.903" stop-color="#ff002d"/><stop offset="0.935" stop-color="#ff0028"/><stop offset="0.968" stop-color="#ff0023"/><stop offset="1" stop-color="#ff001e"/></linearGradient>
<linearGradient id="s120" gradientUnits="userSpaceOnUse" x1="792.0" y1="0" x2="1040.0" y2="0"><stop offset="0" stop-color="#0077ff"/><stop offset="0.0323" stop-color="#0074ff"/><stop offset="0.0645" stop-color="#0070ff"/><stop offset="0.0968" stop-color="#006cff"/><stop offset="0.129" stop-color="#0068ff"/><stop offset="0.161" stop-color="#0064ff"/><stop offset="0.194" stop-color="#0060ff"/><stop offset="0.226" stop-color="#005bff"/><stop offset="0.258" stop-color="#1056ff"/><stop offset="0.29" stop-color="#2d51ff"/><stop offset="0.323" stop-color="#4d4cff"/><stop offset="0.355" stop-color="#6e46ff"/><stop offset="0.387" stop-color="#923fff"/><stop offset="0.419" stop-color="#b839ff"/><stop offset="0.452" stop-color="#e131ff"/><stop offset="0.484" stop-color="#ff28f2"/><stop offset="0.516" stop-color="#ff1bce"/><stop offset="0.548" stop-color="#ff11b1"/><stop offset="0.581" stop-color="#ff099a"/><stop offset="0.613" stop-color="#ff0287"/><stop offset="0.645" stop-color="#ff0077"/><stop offset="0.677" stop-color="#ff0069"/><stop offset="0.71" stop-color="#ff005d"/><stop offset="0.742" stop-color="#ff0053"/><stop offset="0.774" stop-color="#ff0049"/><stop offset="0.806" stop-color="#ff0041"/><stop offset="0.839" stop-color="#ff003a"/><stop offset="0.871" stop-color="#ff0034"/><stop offset="0.903" stop-color="#ff002e"/><stop offset="0.935" stop-color="#ff0029"/><stop offset="0.968" stop-color="#ff0024"/><stop offset="1" stop-color="#ff001f"/></linearGradient>
<linearGradient id="s121" gradientUnits="userSpaceOnUse" x1="792.0" y1="0" x2="1032.0" y2="0"><stop offset="0" stop-color="#0073ff"/><stop offset="0.0333" stop-color="#006fff"/><stop offset="0.0667" stop-color="#006cff"/><stop offset="0.1" stop-color="#0068ff"/><stop offset="0.133" stop-color="#0064ff"/><stop offset="0.167" stop-color="#005fff"/><stop offset="0.2" stop-color="#005bff"/><stop offset="0.233" stop-color="#0056ff"/><stop offset="0.267" stop-color="#1251ff"/><stop offset="0.3" stop-color="#2f4cff"/><stop offset="0.333" stop-color="#4e46ff"/><stop offset="0.367" stop-color="#6f40ff"/><stop offset="0.4" stop-color="#933aff"/><stop offset="0.433" stop-color="#b833ff"/><stop offset="0.467" stop-color="#e12cff"/><stop offset="0.5" stop-color="#ff22f3"/><stop offset="0.533" stop-color="#ff16cf"/><stop offset="0.567" stop-color="#ff0db2"/><stop offset="0.6" stop-color="#ff059b"/><stop offset="0.633" stop-color="#ff0088"/><stop offset="0.667" stop-color="#ff0078"/><stop offset="0.7" stop-color="#ff006a"/><stop offset="0.733" stop-color="#ff005e"/><stop offset="0.767" stop-color="#ff0054"/><stop offset="0.8" stop-color="#ff004b"/><stop offset="0.833" stop-color="#ff0043"/><stop offset="0.867" stop-color="#ff003b"/><stop offset="0.9" stop-color="#ff0035"/><stop offset="0.933" stop-color="#ff002f"/><stop offset="0.967" stop-color="#ff002a"/><stop offset="1" stop-color="#ff0025"/></linearGradient>
<linearGradient id="s122" gradientUnits="userSpaceOnUse" x1="792.0" y1="0" x2="1032.0" y2="0"><stop offset="0" stop-color="#006eff"/><stop offset="0.0333" stop-color="#006bff"/><stop offset="0.0667" stop-color="#0067ff"/><stop offset="0.1" stop-color="#0063ff"/><stop offset="0.133" stop-color="#005fff"/><stop offset="0.167" stop-color="#005bff"/><stop offset="0.2" stop-color="#0056ff"/><stop offset="0.233" stop-color="#0051ff"/><stop offset="0.267" stop-color="#144cff"/><stop offset="0.3" stop-color="#3147ff"/><stop offset="0.333" stop-color="#5041ff"/><stop offset="0.367" stop-color="#713bff"/><stop offset="0.4" stop-color="#9335ff"/><stop offset="0.433" stop-color="#b92eff"/><stop offset="0.467" stop-color="#e026ff"/><stop offset="0.5" stop-color="#ff1df3"/><stop offset="0.533" stop-color="#ff12d0"/><stop offset="0.567" stop-color="#ff09b3"/><stop offset="0.6" stop-color="#ff029c"/><stop offset="0.633" stop-color="#ff0089"/><stop offset="0.667" stop-color="#ff0079"/><stop offset="0.7" stop-color="#ff006b"/><stop offset="0.733" stop-color="#ff005f"/><stop offset="0.767" stop-color="#ff0055"/><stop offset="0.8" stop-color="#ff004c"/><stop offset="0.833" stop-color="#ff0044"/><stop offset="0.867" stop-color="#ff003c"/><stop offset="0.9" stop-color="#ff0036"/><stop offset="0.933" stop-color="#ff0030"/><stop offset="0.967" stop-color="#ff002b"/><stop offset="1" stop-color="#ff0026"/></linearGradient>
<linearGradient id="s123" gradientUnits="userSpaceOnUse" x1="792.0" y1="0" x2="1024.0" y2="0"><stop offset="0" stop-color="#006aff"/><stop offset="0.0345" stop-color="#0067ff"/><stop offset="0.069" stop-color="#0063ff"/><stop offset="0.103" stop-color="#005fff"/><stop offset="0.138" stop-color="#005bff"/><stop offset="0.172" stop-color="#0056ff"/><stop offset="0.207" stop-color="#0052ff"/><stop offset="0.241" stop-color="#004dff"/><stop offset="0.276" stop-color="#1648ff"/><stop offset="0.31" stop-color="#3342ff"/><stop offset="0.345" stop-color="#513cff"/><stop offset="0.379" stop-color="#7236ff"/><stop offset="0.414" stop-color="#9430ff"/><stop offset="0.448" stop-color="#b929ff"/><stop offset="0.483" stop-color="#e021ff"/><stop offset="0.517" stop-color="#ff18f4"/><stop offset="0.552" stop-color="#ff0dd1"/><stop offset="0.586" stop-color="#ff05b5"/><stop offset="0.621" stop-color="#ff009e"/><stop offset="0.655" stop-color="#ff008a"/><stop offset="0.69" stop-color="#ff007a"/><stop offset="0.724" stop-color="#ff006d"/><stop offset="0.759" stop-color="#ff0061"/><stop offset="0.793" stop-color="#ff0056"/><stop offset="0.828" stop-color="#ff004d"/><stop offset="0.862" stop-color="#ff0045"/><stop offset="0.897" stop-color="#ff003e"/><stop offset="0.931" stop-color="#ff0037"/><stop offset="0.966" stop-color="#ff0031"/><stop offset="1" stop-color="#ff002c"/></linearGradient>
<linearGradient id="s124" gradientUnits="userSpaceOnUse" x1="792.0" y1="0" x2="1016.0" y2="0"><stop offset="0" stop-color="#0066ff"/><stop offset="0.0357" stop-color="#0062ff"/><stop offset="0.0714" stop-color="#005eff"/><stop offset="0.107" stop-color="#005aff"/><stop offset="0.143" stop-color="#0056ff"/><stop offset="0.179" stop-color="#0052ff"/><stop offset="0.214" stop-color="#004dff"/><stop offset="0.25" stop-color="#0048ff"/><stop offset="0.286" stop-color="#1843ff"/><stop offset="0.321" stop-color="#353dff"/><stop offset="0.357" stop-color="#5337ff"/><stop offset="0.393" stop-color="#7331ff"/><stop offset="0.429" stop-color="#952aff"/><stop offset="0.464" stop-color="#b923ff"/><stop offset="0.5" stop-color="#e01cff"/><stop offset="0.536" stop-color="#ff13f5"/><stop offset="0.571" stop-color="#ff09d2"/><stop offset="0.607" stop-color="#ff01b6"/><stop offset="0.643" stop-color="#ff009f"/><stop offset="0.679" stop-color="#ff008c"/><stop offset="0.714" stop-color="#ff007b"/><stop offset="0.75" stop-color="#ff006e"/><stop offset="0.786" stop-color="#ff0062"/><stop offset="0.821" stop-color="#ff0057"/><stop offset="0.857" stop-color="#ff004e"/><stop offset="0.893" stop-color="#ff0046"/><stop offset="0.929" stop-color="#ff003f"/><stop offset="0.964" stop-color="#ff0038"/><stop offset="1" stop-color="#ff0032"/></linearGradient>
<linearGradient id="s125" gradientUnits="userSpaceOnUse" x1="792.0" y1="0" x2="1016.0" y2="0"><stop offset="0" stop-color="#0062ff"/><stop offset="0.0357" stop-color="#005eff"/><stop offset="0.0714" stop-color="#005aff"/><stop offset="0.107" stop-color="#0056ff"/><stop offset="0.143" stop-color="#0052ff"/><stop offset="0.179" stop-color="#004dff"/><stop offset="0.214" stop-color="#0049ff"/><stop offset="0.25" stop-color="#0044ff"/><stop offset="0.286" stop-color="#1a3eff"/><stop offset="0.321" stop-color="#3639ff"/><stop offset="0.357" stop-color="#5433ff"/><stop offset="0.393" stop-color="#742cff"/><stop offset="0.429" stop-color="#9626ff"/><stop offset="0.464" stop-color="#ba1eff"/><stop offset="0.5" stop-color="#e017ff"/><stop offset="0.536" stop-color="#ff0ef6"/><stop offset="0.571" stop-color="#ff05d3"/><stop offset="0.607" stop-color="#ff00b7"/><stop offset="0.643" stop-color="#ff00a0"/><stop offset="0.679" stop-color="#ff008d"/><stop offset="0.714" stop-color="#ff007d"/><stop offset="0.75" stop-color="#ff006f"/><stop offset="0.786" stop-color="#ff0063"/><stop offset="0.821" stop-color="#ff0058"/><stop offset="0.857" stop-color="#ff004f"/><stop offset="0.893" stop-color="#ff0047"/><stop offset="0.929" stop-color="#ff0040"/><stop offset="0.964" stop-color="#ff0039"/><stop offset="1" stop-color="#ff0033"/></linearGradient>
<linearGradient id="s126" gradientUnits="userSpaceOnUse" x1="800.0" y1="0" x2="1008.0" y2="0"><stop offset="0" stop-color="#005aff"/><stop offset="0.0385" stop-color="#0056ff"/><stop offset="0.0769" stop-color="#0052ff"/><stop offset="0.115" stop-color="#004eff"/><stop offset="0.154" stop-color="#0049ff"/><stop offset="0.192" stop-color="#0044ff"/><stop offset="0.231" stop-color="#023fff"/><stop offset="0.269" stop-color="#1c3aff"/><stop offset="0.308" stop-color="#3834ff"/><stop offset="0.346" stop-color="#562eff"/><stop offset="0.385" stop-color="#7528ff"/><stop offset="0.423" stop-color="#9621ff"/><stop offset="0.462" stop-color="#ba1aff"/><stop offset="0.5" stop-color="#e012ff"/><stop offset="0.538" stop-color="#ff09f6"/><stop offset="0.577" stop-color="#ff01d4"/><stop offset="0.615" stop-color="#ff00b8"/><stop offset="0.654" stop-color="#ff00a1"/><stop offset="0.692" stop-color="#ff008e"/><stop offset="0.731" stop-color="#ff007e"/><stop offset="0.769" stop-color="#ff0070"/><stop offset="0.808" stop-color="#ff0064"/><stop offset="0.846" stop-color="#ff005a"/><stop offset="0.885" stop-color="#ff0050"/><stop offset="0.923" stop-color="#ff0048"/><stop offset="0.962" stop-color="#ff0041"/><stop offset="1" stop-color="#ff003a"/></linearGradient>
<linearGradient id="s127" gradientUnits="userSpaceOnUse" x1="800.0" y1="0" x2="1000.0" y2="0"><stop offset="0" stop-color="#0056ff"/><stop offset="0.04" stop-color="#0052ff"/><stop offset="0.08" stop-color="#004eff"/><stop offset="0.12" stop-color="#0049ff"/><stop offset="0.16" stop-color="#0045ff"/><stop offset="0.2" stop-color="#0040ff"/><stop offset="0.24" stop-color="#043bff"/><stop offset="0.28" stop-color="#1e35ff"/><stop offset="0.32" stop-color="#3a30ff"/><stop offset="0.36" stop-color="#5729ff"/><stop offset="0.4" stop-color="#7623ff"/><stop offset="0.44" stop-color="#971cff"/><stop offset="0.48" stop-color="#ba15ff"/><stop offset="0.52" stop-color="#df0dff"/><stop offset="0.56" stop-color="#ff05f7"/><stop offset="0.6" stop-color="#ff00d4"/><stop offset="0.64" stop-color="#ff00b9"/><stop offset="0.68" stop-color="#ff00a2"/><stop offset="0.72" stop-color="#ff008f"/><stop offset="0.76" stop-color="#ff007f"/><stop offset="0.8" stop-color="#ff0071"/><stop offset="0.84" stop-color="#ff0065"/><stop offset="0.88" stop-color="#ff005b"/><stop offset="0.92" stop-color="#ff0051"/><stop offset="0.96" stop-color="#ff0049"/><stop offset="1" stop-color="#ff0042"/></linearGradient>
<linearGradient id="s128" gradientUnits="userSpaceOnUse" x1="800.0" y1="0" x2="1000.0" y2="0"><stop offset="0" stop-color="#0052ff"/><stop offset="0.04" stop-color="#004eff"/><stop offset="0.08" stop-color="#004aff"/><stop offset="0.12" stop-color="#0045ff"/><stop offset="0.16" stop-color="#0041ff"/><stop offset="0.2" stop-color="#003cff"/><stop offset="0.24" stop-color="#0636ff"/><stop offset="0.28" stop-color="#2031ff"/><stop offset="0.32" stop-color="#3b2bff"/><stop offset="0.36" stop-color="#5825ff"/><stop offset="0.4" stop-color="#771eff"/><stop offset="0.44" stop-color="#9818ff"/><stop offset="0.48" stop-color="#ba10ff"/><stop offset="0.52" stop-color="#df08ff"/><stop offset="0.56" stop-color="#ff00f7"/><stop offset="0.6" stop-color="#ff00d5"/><stop offset="0.64" stop-color="#ff00ba"/><stop offset="0.68" stop-color="#ff00a3"/><stop offset="0.72" stop-color="#ff0090"/><stop offset="0.76" stop-color="#ff0080"/><stop offset="0.8" stop-color="#ff0072"/><stop offset="0.84" stop-color="#ff0066"/><stop offset="0.88" stop-color="#ff005c"/><stop offset="0.92" stop-color="#ff0053"/><stop offset="0.96" stop-color="#ff004a"/><stop offset="1" stop-color="#ff0043"/></linearGradient>
<linearGradient id="s129" gradientUnits="userSpaceOnUse" x1="800.0" y1="0" x2="992.0" y2="0"><stop offset="0" stop-color="#004eff"/><stop offset="0.0417" stop-color="#004aff"/><stop offset="0.0833" stop-color="#0046ff"/><stop offset="0.125" stop-color="#0041ff"/><stop offset="0.167" stop-color="#003dff"/><stop offset="0.208" stop-color="#0038ff"/><stop offset="0.25" stop-color="#0832ff"/><stop offset="0.292" stop-color="#222dff"/><stop offset="0.333" stop-color="#3d27ff"/><stop offset="0.375" stop-color="#5a21ff"/><stop offset="0.417" stop-color="#781aff"/><stop offset="0.458" stop-color="#9813ff"/><stop offset="0.5" stop-color="#bb0cff"/><stop offset="0.542" stop-color="#df04ff"/><stop offset="0.583" stop-color="#ff00f8"/><stop offset="0.625" stop-color="#ff00d6"/><stop offset="0.667" stop-color="#ff00bb"/><stop offset="0.708" stop-color="#ff00a4"/><stop offset="0.75" stop-color="#ff0091"/><stop offset="0.792" stop-color="#ff0081"/><stop offset="0.833" stop-color="#ff0073"/><stop offset="0.875" stop-color="#ff0067"/><stop offset="0.917" stop-color="#ff005d"/><stop offset="0.958" stop-color="#ff0054"/><stop offset="1" stop-color="#ff004b"/></linearGradient>
<linearGradient id="s130" gradientUnits="userSpaceOnUse" x1="800.0" y1="0" x2="984.0" y2="0"><stop offset="0" stop-color="#004bff"/><stop offset="0.0435" stop-color="#0046ff"/><stop offset="0.087" stop-color="#0042ff"/><stop offset="0.13" stop-color="#003dff"/><stop offset="0.174" stop-color="#0039ff"/><stop offset="0.217" stop-color="#0033ff"/><stop offset="0.261" stop-color="#0a2eff"/><stop offset="0.304" stop-color="#2329ff"/><stop offset="0.348" stop-color="#3e23ff"/><stop offset="0.391" stop-color="#5b1cff"/><stop offset="0.435" stop-color="#7916ff"/><stop offset="0.478" stop-color="#990fff"/><stop offset="0.522" stop-color="#bb07ff"/><stop offset="0.565" stop-color="#df00ff"/><stop offset="0.609" stop-color="#ff00f9"/><stop offset="0.652" stop-color="#ff00d7"/><stop offset="0.696" stop-color="#ff00bc"/><stop offset="0.739" stop-color="#ff00a5"/><stop offset="0.783" stop-color="#ff0092"/><stop offset="0.826" stop-color="#ff0082"/><stop offset="0.87" stop-color="#ff0075"/><stop offset="0.913" stop-color="#ff0069"/><stop offset="0.957" stop-color="#ff005e"/><stop offset="1" stop-color="#ff0055"/></linearGradient>
<linearGradient id="s131" gradientUnits="userSpaceOnUse" x1="800.0" y1="0" x2="984.0" y2="0"><stop offset="0" stop-color="#0047ff"/><stop offset="0.0435" stop-color="#0043ff"/><stop offset="0.087" stop-color="#003eff"/><stop offset="0.13" stop-color="#003aff"/><stop offset="0.174" stop-color="#0035ff"/><stop offset="0.217" stop-color="#0030ff"/><stop offset="0.261" stop-color="#0c2aff"/><stop offset="0.304" stop-color="#2524ff"/><stop offset="0.348" stop-color="#401eff"/><stop offset="0.391" stop-color="#5c18ff"/><stop offset="0.435" stop-color="#7a12ff"/><stop offset="0.478" stop-color="#9a0aff"/><stop offset="0.522" stop-color="#bb03ff"/><stop offset="0.565" stop-color="#df00ff"/><stop offset="0.609" stop-color="#ff00f9"/><stop offset="0.652" stop-color="#ff00d8"/><stop offset="0.696" stop-color="#ff00bd"/><stop offset="0.739" stop-color="#ff00a6"/><stop offset="0.783" stop-color="#ff0094"/><stop offset="0.826" stop-color="#ff0084"/><stop offset="0.87" stop-color="#ff0076"/><stop offset="0.913" stop-color="#ff006a"/><stop offset="0.957" stop-color="#ff005f"/><stop offset="1" stop-color="#ff0056"/></linearGradient>
<linearGradient id="s132" gradientUnits="userSpaceOnUse" x1="800.0" y1="0" x2="976.0" y2="0"><stop offset="0" stop-color="#0043ff"/><stop offset="0.0455" stop-color="#003fff"/><stop offset="0.0909" stop-color="#003aff"/><stop offset="0.136" stop-color="#0036ff"/><stop offset="0.182" stop-color="#0031ff"/><stop offset="0.227" stop-color="#002cff"/><stop offset="0.273" stop-color="#0e26ff"/><stop offset="0.318" stop-color="#2720ff"/><stop offset="0.364" stop-color="#411aff"/><stop offset="0.409" stop-color="#5d14ff"/><stop offset="0.455" stop-color="#7b0dff"/><stop offset="0.5" stop-color="#9a06ff"/><stop offset="0.545" stop-color="#bb00ff"/><stop offset="0.591" stop-color="#df00ff"/><stop offset="0.636" stop-color="#ff00fa"/><stop offset="0.682" stop-color="#ff00d9"/><stop offset="0.727" stop-color="#ff00be"/><stop offset="0.773" stop-color="#ff00a7"/><stop offset="0.818" stop-color="#ff0095"/><stop offset="0.864" stop-color="#ff0085"/><stop offset="0.909" stop-color="#ff0077"/><stop offset="0.955" stop-color="#ff006b"/><stop offset="1" stop-color="#ff0060"/></linearGradient>
<linearGradient id="s133" gradientUnits="userSpaceOnUse" x1="800.0" y1="0" x2="976.0" y2="0"><stop offset="0" stop-color="#0040ff"/><stop offset="0.0455" stop-color="#003bff"/><stop offset="0.0909" stop-color="#0037ff"/><stop offset="0.136" stop-color="#0032ff"/><stop offset="0.182" stop-color="#002dff"/><stop offset="0.227" stop-color="#0028ff"/><stop offset="0.273" stop-color="#0f22ff"/><stop offset="0.318" stop-color="#281dff"/><stop offset="0.364" stop-color="#4316ff"/><stop offset="0.409" stop-color="#5f10ff"/><stop offset="0.455" stop-color="#7c09ff"/><stop offset="0.5" stop-color="#9b02ff"/><stop offset="0.545" stop-color="#bc00ff"/><stop offset="0.591" stop-color="#df00ff"/><stop offset="0.636" stop-color="#ff00fa"/><stop offset="0.682" stop-color="#ff00d9"/><stop offset="0.727" stop-color="#ff00bf"/><stop offset="0.773" stop-color="#ff00a8"/><stop offset="0.818" stop-color="#ff0096"/><stop offset="0.864" stop-color="#ff0086"/><stop offset="0.909" stop-color="#ff0078"/><stop offset="0.955" stop-color="#ff006c"/><stop offset="1" stop-color="#ff0061"/></linearGradient>
<linearGradient id="s134" gradientUnits="userSpaceOnUse" x1="800.0" y1="0" x2="968.0" y2="0"><stop offset="0" stop-color="#003cff"/><stop offset="0.0476" stop-color="#0038ff"/><stop offset="0.0952" stop-color="#0033ff"/><stop offset="0.143" stop-color="#002eff"/><stop offset="0.19" stop-color="#0029ff"/><stop offset="0.238" stop-color="#0024ff"/><stop offset="0.286" stop-color="#111fff"/><stop offset="0.333" stop-color="#2a19ff"/><stop offset="0.381" stop-color="#4413ff"/><stop offset="0.429" stop-color="#600cff"/><stop offset="0.476" stop-color="#7d05ff"/><stop offset="0.524" stop-color="#9b00ff"/><stop offset="0.571" stop-color="#bc00ff"/><stop offset="0.619" stop-color="#de00ff"/><stop offset="0.667" stop-color="#ff00fb"/><stop offset="0.714" stop-color="#ff00da"/><stop offset="0.762" stop-color="#ff00c0"/><stop offset="0.81" stop-color="#ff00a9"/><stop offset="0.857" stop-color="#ff0097"/><stop offset="0.905" stop-color="#ff0087"/><stop offset="0.952" stop-color="#ff0079"/><stop offset="1" stop-color="#ff006d"/></linearGradient>
<linearGradient id="s135" gradientUnits="userSpaceOnUse" x1="808.0" y1="0" x2="960.0" y2="0"><stop offset="0" stop-color="#0034ff"/><stop offset="0.0526" stop-color="#0030ff"/><stop offset="0.105" stop-color="#002bff"/><stop offset="0.158" stop-color="#0026ff"/><stop offset="0.211" stop-color="#0020ff"/><stop offset="0.263" stop-color="#131bff"/><stop offset="0.316" stop-color="#2c15ff"/><stop offset="0.368" stop-color="#460fff"/><stop offset="0.421" stop-color="#6108ff"/><stop offset="0.474" stop-color="#7e01ff"/><stop offset="0.526" stop-color="#9c00ff"/><stop offset="0.579" stop-color="#bc00ff"/><stop offset="0.632" stop-color="#de00ff"/><stop offset="0.684" stop-color="#ff00fc"/><stop offset="0.737" stop-color="#ff00db"/><stop offset="0.789" stop-color="#ff00c0"/><stop offset="0.842" stop-color="#ff00aa"/><stop offset="0.895" stop-color="#ff0098"/><stop offset="0.947" stop-color="#ff0088"/><stop offset="1" stop-color="#ff007a"/></linearGradient>
<linearGradient id="s136" gradientUnits="userSpaceOnUse" x1="808.0" y1="0" x2="960.0" y2="0"><stop offset="0" stop-color="#0031ff"/><stop offset="0.0526" stop-color="#002cff"/><stop offset="0.105" stop-color="#0027ff"/><stop offset="0.158" stop-color="#0022ff"/><stop offset="0.211" stop-color="#001dff"/><stop offset="0.263" stop-color="#1517ff"/><stop offset="0.316" stop-color="#2d11ff"/><stop offset="0.368" stop-color="#470bff"/><stop offset="0.421" stop-color="#6205ff"/><stop offset="0.474" stop-color="#7f00ff"/><stop offset="0.526" stop-color="#9d00ff"/><stop offset="0.579" stop-color="#bc00ff"/><stop offset="0.632" stop-color="#de00ff"/><stop offset="0.684" stop-color="#ff00fc"/><stop offset="0.737" stop-color="#ff00dc"/><stop offset="0.789" stop-color="#ff00c1"/><stop offset="0.842" stop-color="#ff00ab"/><stop offset="0.895" stop-color="#ff0099"/><stop offset="0.947" stop-color="#ff0089"/><stop offset="1" stop-color="#ff007b"/></linearGradient>
<linearGradient id="s137" gradientUnits="userSpaceOnUse" x1="808.0" y1="0" x2="952.0" y2="0"><stop offset="0" stop-color="#002dff"/><stop offset="0.0556" stop-color="#0029ff"/><stop offset="0.111" stop-color="#0024ff"/><stop offset="0.167" stop-color="#001fff"/><stop offset="0.222" stop-color="#0019ff"/><stop offset="0.278" stop-color="#1714ff"/><stop offset="0.333" stop-color="#2f0eff"/><stop offset="0.389" stop-color="#4807ff"/><stop offset="0.444" stop-color="#6301ff"/><stop offset="0.5" stop-color="#7f00ff"/><stop offset="0.556" stop-color="#9d00ff"/><stop offset="0.611" stop-color="#bd00ff"/><stop offset="0.667" stop-color="#de00ff"/><stop offset="0.722" stop-color="#ff00fd"/><stop offset="0.778" stop-color="#ff00dc"/><stop offset="0.833" stop-color="#ff00c2"/><stop offset="0.889" stop-color="#ff00ac"/><stop offset="0.944" stop-color="#ff009a"/><stop offset="1" stop-color="#ff008a"/></linearGradient>
<linearGradient id="s138" gradientUnits="userSpaceOnUse" x1="808.0" y1="0" x2="944.0" y2="0"><stop offset="0" stop-color="#002aff"/><stop offset="0.0588" stop-color="#0025ff"/><stop offset="0.118" stop-color="#0020ff"/><stop offset="0.176" stop-color="#001bff"/><stop offset="0.235" stop-color="#0116ff"/><stop offset="0.294" stop-color="#1810ff"/><stop offset="0.353" stop-color="#300aff"/><stop offset="0.412" stop-color="#4a04ff"/><stop offset="0.471" stop-color="#6400ff"/><stop offset="0.529" stop-color="#8000ff"/><stop offset="0.588" stop-color="#9e00ff"/><stop offset="0.647" stop-color="#bd00ff"/><stop offset="0.706" stop-color="#de00ff"/><stop offset="0.765" stop-color="#ff00fd"/><stop offset="0.824" stop-color="#ff00dd"/><stop offset="0.882" stop-color="#ff00c3"/><stop offset="0.941" stop-color="#ff00ad"/><stop offset="1" stop-color="#ff009b"/></linearGradient>
<linearGradient id="s139" gradientUnits="userSpaceOnUse" x1="808.0" y1="0" x2="944.0" y2="0"><stop offset="0" stop-color="#0027ff"/><stop offset="0.0588" stop-color="#0022ff"/><stop offset="0.118" stop-color="#001dff"/><stop offset="0.176" stop-color="#0018ff"/><stop offset="0.235" stop-color="#0312ff"/><stop offset="0.294" stop-color="#1a0dff"/><stop offset="0.353" stop-color="#3207ff"/><stop offset="0.412" stop-color="#4b00ff"/><stop offset="0.471" stop-color="#6500ff"/><stop offset="0.529" stop-color="#8100ff"/><stop offset="0.588" stop-color="#9e00ff"/><stop offset="0.647" stop-color="#bd00ff"/><stop offset="0.706" stop-color="#de00ff"/><stop offset="0.765" stop-color="#ff00fe"/><stop offset="0.824" stop-color="#ff00de"/><stop offset="0.882" stop-color="#ff00c4"/><stop offset="0.941" stop-color="#ff00ae"/><stop offset="1" stop-color="#ff009c"/></linearGradient>
<linearGradient id="s140" gradientUnits="userSpaceOnUse" x1="808.0" y1="0" x2="936.0" y2="0"><stop offset="0" stop-color="#0023ff"/><stop offset="0.0625" stop-color="#001fff"/><stop offset="0.125" stop-color="#001aff"/><stop offset="0.188" stop-color="#0014ff"/><stop offset="0.25" stop-color="#050fff"/><stop offset="0.312" stop-color="#1c09ff"/><stop offset="0.375" stop-color="#3303ff"/><stop offset="0.438" stop-color="#4c00ff"/><stop offset="0.5" stop-color="#6600ff"/><stop offset="0.562" stop-color="#8200ff"/><stop offset="0.625" stop-color="#9f00ff"/><stop offset="0.688" stop-color="#bd00ff"/><stop offset="0.75" stop-color="#de00ff"/><stop offset="0.812" stop-color="#ff00fe"/><stop offset="0.875" stop-color="#ff00df"/><stop offset="0.938" stop-color="#ff00c5"/><stop offset="1" stop-color="#ff00af"/></linearGradient>
<linearGradient id="s141" gradientUnits="userSpaceOnUse" x1="808.0" y1="0" x2="928.0" y2="0"><stop offset="0" stop-color="#0020ff"/><stop offset="0.0667" stop-color="#001bff"/><stop offset="0.133" stop-color="#0016ff"/><stop offset="0.2" stop-color="#0011ff"/><stop offset="0.267" stop-color="#070cff"/><stop offset="0.333" stop-color="#1d06ff"/><stop offset="0.4" stop-color="#3500ff"/><stop offset="0.467" stop-color="#4d00ff"/><stop offset="0.533" stop-color="#6700ff"/><stop offset="0.6" stop-color="#8300ff"/><stop offset="0.667" stop-color="#9f00ff"/><stop offset="0.733" stop-color="#be00ff"/><stop offset="0.8" stop-color="#de00ff"/><stop offset="0.867" stop-color="#ff00ff"/><stop offset="0.933" stop-color="#ff00df"/><stop offset="1" stop-color="#ff00c6"/></linearGradient>
<linearGradient id="s142" gradientUnits="userSpaceOnUse" x1="808.0" y1="0" x2="928.0" y2="0"><stop offset="0" stop-color="#001dff"/><stop offset="0.0667" stop-color="#0018ff"/><stop offset="0.133" stop-color="#0013ff"/><stop offset="0.2" stop-color="#000eff"/><stop offset="0.267" stop-color="#0808ff"/><stop offset="0.333" stop-color="#1f02ff"/><stop offset="0.4" stop-color="#3600ff"/><stop offset="0.467" stop-color="#4f00ff"/><stop offset="0.533" stop-color="#6800ff"/><stop offset="0.6" stop-color="#8300ff"/><stop offset="0.667" stop-color="#a000ff"/><stop offset="0.733" stop-color="#be00ff"/><stop offset="0.8" stop-color="#dd00ff"/><stop offset="0.867" stop-color="#ff00ff"/><stop offset="0.933" stop-color="#ff00e0"/><stop offset="1" stop-color="#ff00c6"/></linearGradient>
<linearGradient id="s143" gradientUnits="userSpaceOnUse" x1="816.0" y1="0" x2="920.0" y2="0"><stop offset="0" stop-color="#0015ff"/><stop offset="0.0769" stop-color="#0010ff"/><stop offset="0.154" stop-color="#000bff"/><stop offset="0.231" stop-color="#0a05ff"/><stop offset="0.308" stop-color="#2000ff"/><stop offset="0.385" stop-color="#3800ff"/><stop offset="0.462" stop-color="#5000ff"/><stop offset="0.538" stop-color="#6900ff"/><stop offset="0.615" stop-color="#8400ff"/><stop offset="0.692" stop-color="#a000ff"/><stop offset="0.769" stop-color="#be00ff"/><stop offset="0.846" stop-color="#dd00ff"/><stop offset="0.923" stop-color="#fe00ff"/><stop offset="1" stop-color="#ff00e1"/></linearGradient>
<linearGradient id="s144" gradientUnits="userSpaceOnUse" x1="816.0" y1="0" x2="912.0" y2="0"><stop offset="0" stop-color="#0012ff"/><stop offset="0.0833" stop-color="#000dff"/><stop offset="0.167" stop-color="#0007ff"/><stop offset="0.25" stop-color="#0c02ff"/><stop offset="0.333" stop-color="#2200ff"/><stop offset="0.417" stop-color="#3900ff"/><stop offset="0.5" stop-color="#5100ff"/><stop offset="0.583" stop-color="#6a00ff"/><stop offset="0.667" stop-color="#8500ff"/><stop offset="0.75" stop-color="#a100ff"/><stop offset="0.833" stop-color="#be00ff"/><stop offset="0.917" stop-color="#dd00ff"/><stop offset="1" stop-color="#fe00ff"/></linearGradient>
<linearGradient id="s145" gradientUnits="userSpaceOnUse" x1="816.0" y1="0" x2="912.0" y2="0"><stop offset="0" stop-color="#000fff"/><stop offset="0.0833" stop-color="#000aff"/><stop offset="0.167" stop-color="#0004ff"/><stop offset="0.25" stop-color="#0e00ff"/><stop offset="0.333" stop-color="#2300ff"/><stop offset="0.417" stop-color="#3a00ff"/><stop offset="0.5" stop-color="#5200ff"/><stop offset="0.583" stop-color="#6b00ff"/><stop offset="0.667" stop-color="#8600ff"/><stop offset="0.75" stop-color="#a100ff"/><stop offset="0.833" stop-color="#be00ff"/><stop offset="0.917" stop-color="#dd00ff"/><stop offset="1" stop-color="#fd00ff"/></linearGradient>
<linearGradient id="s146" gradientUnits="userSpaceOnUse" x1="816.0" y1="0" x2="904.0" y2="0"><stop offset="0" stop-color="#000cff"/><stop offset="0.0909" stop-color="#0007ff"/><stop offset="0.182" stop-color="#0001ff"/><stop offset="0.273" stop-color="#0f00ff"/><stop offset="0.364" stop-color="#2500ff"/><stop offset="0.455" stop-color="#3c00ff"/><stop offset="0.545" stop-color="#5300ff"/><stop offset="0.636" stop-color="#6c00ff"/><stop offset="0.727" stop-color="#8600ff"/><stop offset="0.818" stop-color="#a200ff"/><stop offset="0.909" stop-color="#bf00ff"/><stop offset="1" stop-color="#dd00ff"/></linearGradient>
<linearGradient id="s147" gradientUnits="userSpaceOnUse" x1="816.0" y1="0" x2="904.0" y2="0"><stop offset="0" stop-color="#0009ff"/><stop offset="0.0909" stop-color="#0004ff"/><stop offset="0.182" stop-color="#0000ff"/><stop offset="0.273" stop-color="#1100ff"/><stop offset="0.364" stop-color="#2600ff"/><stop offset="0.455" stop-color="#3d00ff"/><stop offset="0.545" stop-color="#5400ff"/><stop offset="0.636" stop-color="#6d00ff"/><stop offset="0.727" stop-color="#8700ff"/><stop offset="0.818" stop-color="#a200ff"/><stop offset="0.909" stop-color="#bf00ff"/><stop offset="1" stop-color="#dd00ff"/></linearGradient>
<linearGradient id="s148" gradientUnits="userSpaceOnUse" x1="816.0" y1="0" x2="896.0" y2="0"><stop offset="0" stop-color="#0006ff"/><stop offset="0.1" stop-color="#0001ff"/><stop offset="0.2" stop-color="#0000ff"/><stop offset="0.3" stop-color="#1200ff"/><stop offset="0.4" stop-color="#2800ff"/><stop offset="0.5" stop-color="#3e00ff"/><stop offset="0.6" stop-color="#5500ff"/><stop offset="0.7" stop-color="#6e00ff"/><stop offset="0.8" stop-color="#8800ff"/><stop offset="0.9" stop-color="#a300ff"/><stop offset="1" stop-color="#bf00ff"/></linearGradient>
<linearGradient id="s149" gradientUnits="userSpaceOnUse" x1="816.0" y1="0" x2="888.0" y2="0"><stop offset="0" stop-color="#0003ff"/><stop offset="0.111" stop-color="#0000ff"/><stop offset="0.222" stop-color="#0000ff"/><stop offset="0.333" stop-color="#1400ff"/><stop offset="0.444" stop-color="#2900ff"/><stop offset="0.556" stop-color="#3f00ff"/><stop offset="0.667" stop-color="#5700ff"/><stop offset="0.778" stop-color="#6f00ff"/><stop offset="0.889" stop-color="#8800ff"/><stop offset="1" stop-color="#a300ff"/></linearGradient>
<linearGradient id="s150" gradientUnits="userSpaceOnUse" x1="824.0" y1="0" x2="888.0" y2="0"><stop offset="0" stop-color="#0000ff"/><stop offset="0.125" stop-color="#0100ff"/><stop offset="0.25" stop-color="#1500ff"/><stop offset="0.375" stop-color="#2a00ff"/><stop offset="0.5" stop-color="#4100ff"/><stop offset="0.625" stop-color="#5800ff"/><stop offset="0.75" stop-color="#7000ff"/><stop offset="0.875" stop-color="#8900ff"/><stop offset="1" stop-color="#a300ff"/></linearGradient>
<linearGradient id="s151" gradientUnits="userSpaceOnUse" x1="824.0" y1="0" x2="880.0" y2="0"><stop offset="0" stop-color="#0000ff"/><stop offset="0.143" stop-color="#0300ff"/><stop offset="0.286" stop-color="#1700ff"/><stop offset="0.429" stop-color="#2c00ff"/><stop offset="0.571" stop-color="#4200ff"/><stop offset="0.714" stop-color="#5900ff"/><stop offset="0.857" stop-color="#7100ff"/><stop offset="1" stop-color="#8a00ff"/></linearGradient>
<linearGradient id="s152" gradientUnits="userSpaceOnUse" x1="824.0" y1="0" x2="872.0" y2="0"><stop offset="0" stop-color="#0000ff"/><stop offset="0.167" stop-color="#0400ff"/><stop offset="0.333" stop-color="#1800ff"/><stop offset="0.5" stop-color="#2d00ff"/><stop offset="0.667" stop-color="#4300ff"/><stop offset="0.833" stop-color="#5a00ff"/><stop offset="1" stop-color="#7100ff"/></linearGradient>
<linearGradient id="s153" gradientUnits="userSpaceOnUse" x1="824.0" y1="0" x2="872.0" y2="0"><stop offset="0" stop-color="#0000ff"/><stop offset="0.167" stop-color="#0600ff"/><stop offset="0.333" stop-color="#1a00ff"/><stop offset="0.5" stop-color="#2e00ff"/><stop offset="0.667" stop-color="#4400ff"/><stop offset="0.833" stop-color="#5b00ff"/><stop offset="1" stop-color="#7200ff"/></linearGradient>
<linearGradient id="s154" gradientUnits="userSpaceOnUse" x1="832.0" y1="0" x2="864.0" y2="0"><stop offset="0" stop-color="#0700ff"/><stop offset="0.25" stop-color="#1b00ff"/><stop offset="0.5" stop-color="#3000ff"/><stop offset="0.75" stop-color="#4500ff"/><stop offset="1" stop-color="#5c00ff"/></linearGradient>
<linearGradient id="s155" gradientUnits="userSpaceOnUse" x1="832.0" y1="0" x2="856.0" y2="0"><stop offset="0" stop-color="#0900ff"/><stop offset="0.333" stop-color="#1d00ff"/><stop offset="0.667" stop-color="#3100ff"/><stop offset="1" stop-color="#4600ff"/></linearGradient>
<linearGradient id="s156" gradientUnits="userSpaceOnUse" x1="832.0" y1="0" x2="856.0" y2="0"><stop offset="0" stop-color="#0a00ff"/><stop offset="0.333" stop-color="#1e00ff"/><stop offset="0.667" stop-color="#3200ff"/><stop offset="1" stop-color="#4700ff"/></linearGradient>
</defs>
<g clip-path="url(#lc)">
<rect x="792.0" y="112.0" width="24.0" height="3.0" fill="url(#s0)"/>
<rect x="784.0" y="114.0" width="40.0" height="3.0" fill="url(#s1)"/>
<rect x="784.0" y="116.0" width="40.0" height="3.0" fill="url(#s2)"/>
<rect x="784.0" y="118.0" width="48.0" height="3.0" fill="url(#s3)"/>
<rect x="776.0" y="120.0" width="64.0" height="3.0" fill="url(#s4)"/>
<rect x="776.0" y="122.0" width="64.0" height="3.0" fill="url(#s5)"/>
<rect x="776.0" y="124.0" width="72.0" height="3.0" fill="url(#s6)"/>
<rect x="776.0" y="126.0" width="72.0" height="3.0" fill="url(#s7)"/>
<rect x="776.0" y="128.0" width="80.0" height="3.0" fill="url(#s8)"/>
<rect x="776.0" y="130.0" width="80.0" height="3.0" fill="url(#s9)"/>
<rect x="768.0" y="132.0" width="96.0" height="3.0" fill="url(#s10)"/>
<rect x="768.0" y="134.0" width="96.0" height="3.0" fill="url(#s11)"/>
<rect x="768.0" y="136.0" width="96.0" height="3.0" fill="url(#s12)"/>
<rect x="768.0" y="138.0" width="104.0" height="3.0" fill="url(#s13)"/>
<rect x="768.0" y="140.0" width="104.0" height="3.0" fill="url(#s14)"/>
<rect x="768.0" y="142.0" width="112.0" height="3.0" fill="url(#s15)"/>
<rect x="768.0" y="144.0" width="112.0" height="3.0" fill="url(#s16)"/>
<rect x="768.0" y="146.0" width="112.0" height="3.0" fill="url(#s17)"/>
<rect x="768.0" y="148.0" width="120.0" height="3.0" fill="url(#s18)"/>
<rect x="768.0" y="150.0" width="120.0" height="3.0" fill="url(#s19)"/>
<rect x="768.0" y="152.0" width="120.0" height="3.0" fill="url(#s20)"/>
<rect x="768.0" y="154.0" width="128.0" height="3.0" fill="url(#s21)"/>
<rect x="768.0" y="156.0" width="128.0" height="3.0" fill="url(#s22)"/>
<rect x="768.0" y="158.0" width="128.0" height="3.0" fill="url(#s23)"/>
<rect x="768.0" y="160.0" width="136.0" height="3.0" fill="url(#s24)"/>
<rect x="768.0" y="162.0" width="136.0" height="3.0" fill="url(#s25)"/>
<rect x="768.0" y="164.0" width="136.0" height="3.0" fill="url(#s26)"/>
<rect x="760.0" y="166.0" width="152.0" height="3.0" fill="url(#s27)"/>
<rect x="760.0" y="168.0" width="152.0" height="3.0" fill="url(#s28)"/>
<rect x="760.0" y="170.0" width="152.0" height="3.0" fill="url(#s29)"/>
<rect x="760.0" y="172.0" width="160.0" height="3.0" fill="url(#s30)"/>
<rect x="760.0" y="174.0" width="160.0" height="3.0" fill="url(#s31)"/>
<rect x="760.0" y="176.0" width="160.0" height="3.0" fill="url(#s32)"/>
<rect x="760.0" y="178.0" width="168.0" height="3.0" fill="url(#s33)"/>
<rect x="760.0" y="180.0" width="168.0" height="3.0" fill="url(#s34)"/>
<rect x="760.0" y="182.0" width="168.0" height="3.0" fill="url(#s35)"/>
<rect x="760.0" y="184.0" width="168.0" height="3.0" fill="url(#s36)"/>
<rect x="760.0" y="186.0" width="176.0" height="3.0" fill="url(#s37)"/>
<rect x="760.0" y="188.0" width="176.0" height="3.0" fill="url(#s38)"/>
<rect x="760.0" y="190.0" width="176.0" height="3.0" fill="url(#s39)"/>
<rect x="760.0" y="192.0" width="184.0" height="3.0" fill="url(#s40)"/>
<rect x="760.0" y="194.0" width="184.0" height="3.0" fill="url(#s41)"/>
<rect x="760.0" y="196.0" width="184.0" height="3.0" fill="url(#s42)"/>
<rect x="760.0" y="198.0" width="192.0" height="3.0" fill="url(#s43)"/>
<rect x="760.0" y="200.0" width="192.0" height="3.0" fill="url(#s44)"/>
<rect x="760.0" y="202.0" width="192.0" height="3.0" fill="url(#s45)"/>
<rect x="760.0" y="204.0" width="200.0" height="3.0" fill="url(#s46)"/>
<rect x="760.0" y="206.0" width="200.0" height="3.0" fill="url(#s47)"/>
<rect x="760.0" y="208.0" width="200.0" height="3.0" fill="url(#s48)"/>
<rect x="760.0" y="210.0" width="200.0" height="3.0" fill="url(#s49)"/>
<rect x="760.0" y="212.0" width="208.0" height="3.0" fill="url(#s50)"/>
<rect x="768.0" y="214.0" width="200.0" height="3.0" fill="url(#s51)"/>
<rect x="768.0" y="216.0" width="200.0" height="3.0" fill="url(#s52)"/>
<rect x="768.0" y="218.0" width="208.0" height="3.0" fill="url(#s53)"/>
<rect x="768.0" y="220.0" width="208.0" height="3.0" fill="url(#s54)"/>
<rect x="768.0" y="222.0" width="208.0" height="3.0" fill="url(#s55)"/>
<rect x="768.0" y="224.0" width="216.0" height="3.0" fill="url(#s56)"/>
<rect x="768.0" y="226.0" width="216.0" height="3.0" fill="url(#s57)"/>
<rect x="768.0" y="228.0" width="216.0" height="3.0" fill="url(#s58)"/>
<rect x="768.0" y="230.0" width="216.0" height="3.0" fill="url(#s59)"/>
<rect x="768.0" y="232.0" width="224.0" height="3.0" fill="url(#s60)"/>
<rect x="768.0" y="234.0" width="224.0" height="3.0" fill="url(#s61)"/>
<rect x="768.0" y="236.0" width="224.0" height="3.0" fill="url(#s62)"/>
<rect x="768.0" y="238.0" width="232.0" height="3.0" fill="url(#s63)"/>
<rect x="768.0" y="240.0" width="232.0" height="3.0" fill="url(#s64)"/>
<rect x="768.0" y="242.0" width="232.0" height="3.0" fill="url(#s65)"/>
<rect x="768.0" y="244.0" width="232.0" height="3.0" fill="url(#s66)"/>
<rect x="768.0" y="246.0" width="240.0" height="3.0" fill="url(#s67)"/>
<rect x="768.0" y="248.0" width="240.0" height="3.0" fill="url(#s68)"/>
<rect x="768.0" y="250.0" width="240.0" height="3.0" fill="url(#s69)"/>
<rect x="768.0" y="252.0" width="248.0" height="3.0" fill="url(#s70)"/>
<rect x="768.0" y="254.0" width="248.0" height="3.0" fill="url(#s71)"/>
<rect x="768.0" y="256.0" width="248.0" height="3.0" fill="url(#s72)"/>
<rect x="768.0" y="258.0" width="256.0" height="3.0" fill="url(#s73)"/>
<rect x="768.0" y="260.0" width="256.0" height="3.0" fill="url(#s74)"/>
<rect x="768.0" y="262.0" width="256.0" height="3.0" fill="url(#s75)"/>
<rect x="768.0" y="264.0" width="256.0" height="3.0" fill="url(#s76)"/>
<rect x="768.0" y="266.0" width="264.0" height="3.0" fill="url(#s77)"/>
<rect x="768.0" y="268.0" width="264.0" height="3.0" fill="url(#s78)"/>
<rect x="768.0" y="270.0" width="264.0" height="3.0" fill="url(#s79)"/>
<rect x="768.0" y="272.0" width="272.0" height="3.0" fill="url(#s80)"/>
<rect x="776.0" y="274.0" width="264.0" height="3.0" fill="url(#s81)"/>
<rect x="776.0" y="276.0" width="264.0" height="3.0" fill="url(#s82)"/>
<rect x="776.0" y="278.0" width="272.0" height="3.0" fill="url(#s83)"/>
<rect x="776.0" y="280.0" width="272.0" height="3.0" fill="url(#s84)"/>
<rect x="776.0" y="282.0" width="272.0" height="3.0" fill="url(#s85)"/>
<rect x="776.0" y="284.0" width="272.0" height="3.0" fill="url(#s86)"/>
<rect x="776.0" y="286.0" width="280.0" height="3.0" fill="url(#s87)"/>
<rect x="776.0" y="288.0" width="280.0" height="3.0" fill="url(#s88)"/>
<rect x="776.0" y="290.0" width="280.0" height="3.0" fill="url(#s89)"/>
<rect x="776.0" y="292.0" width="288.0" height="3.0" fill="url(#s90)"/>
<rect x="776.0" y="294.0" width="288.0" height="3.0" fill="url(#s91)"/>
<rect x="776.0" y="296.0" width="288.0" height="3.0" fill="url(#s92)"/>
<rect x="776.0" y="298.0" width="296.0" height="3.0" fill="url(#s93)"/>
<rect x="776.0" y="300.0" width="296.0" height="3.0" fill="url(#s94)"/>
<rect x="776.0" y="302.0" width="296.0" height="3.0" fill="url(#s95)"/>
<rect x="776.0" y="304.0" width="296.0" height="3.0" fill="url(#s96)"/>
<rect x="776.0" y="306.0" width="304.0" height="3.0" fill="url(#s97)"/>
<rect x="776.0" y="308.0" width="304.0" height="3.0" fill="url(#s98)"/>
<rect x="776.0" y="310.0" width="304.0" height="3.0" fill="url(#s99)"/>
<rect x="784.0" y="312.0" width="304.0" height="3.0" fill="url(#s100)"/>
<rect x="784.0" y="314.0" width="304.0" height="3.0" fill="url(#s101)"/>
<rect x="784.0" y="316.0" width="304.0" height="3.0" fill="url(#s102)"/>
<rect x="784.0" y="318.0" width="312.0" height="3.0" fill="url(#s103)"/>
<rect x="784.0" y="320.0" width="312.0" height="3.0" fill="url(#s104)"/>
<rect x="784.0" y="322.0" width="312.0" height="3.0" fill="url(#s105)"/>
<rect x="784.0" y="324.0" width="312.0" height="3.0" fill="url(#s106)"/>
<rect x="784.0" y="326.0" width="320.0" height="3.0" fill="url(#s107)"/>
<rect x="784.0" y="328.0" width="320.0" height="3.0" fill="url(#s108)"/>
<rect x="784.0" y="330.0" width="312.0" height="3.0" fill="url(#s109)"/>
<rect x="784.0" y="332.0" width="304.0" height="3.0" fill="url(#s110)"/>
<rect x="784.0" y="334.0" width="304.0" height="3.0" fill="url(#s111)"/>
<rect x="784.0" y="336.0" width="296.0" height="3.0" fill="url(#s112)"/>
<rect x="784.0" y="338.0" width="288.0" height="3.0" fill="url(#s113)"/>
<rect x="792.0" y="340.0" width="280.0" height="3.0" fill="url(#s114)"/>
<rect x="792.0" y="342.0" width="272.0" height="3.0" fill="url(#s115)"/>
<rect x="792.0" y="344.0" width="264.0" height="3.0" fill="url(#s116)"/>
<rect x="792.0" y="346.0" width="264.0" height="3.0" fill="url(#s117)"/>
<rect x="792.0" y="348.0" width="256.0" height="3.0" fill="url(#s118)"/>
<rect x="792.0" y="350.0" width="248.0" height="3.0" fill="url(#s119)"/>
<rect x="792.0" y="352.0" width="248.0" height="3.0" fill="url(#s120)"/>
<rect x="792.0" y="354.0" width="240.0" height="3.0" fill="url(#s121)"/>
<rect x="792.0" y="356.0" width="240.0" height="3.0" fill="url(#s122)"/>
<rect x="792.0" y="358.0" width="232.0" height="3.0" fill="url(#s123)"/>
<rect x="792.0" y="360.0" width="224.0" height="3.0" fill="url(#s124)"/>
<rect x="792.0" y="362.0" width="224.0" height="3.0" fill="url(#s125)"/>
<rect x="800.0" y="364.0" width="208.0" height="3.0" fill="url(#s126)"/>
<rect x="800.0" y="366.0" width="200.0" height="3.0" fill="url(#s127)"/>
<rect x="800.0" y="368.0" width="200.0" height="3.0" fill="url(#s128)"/>
<rect x="800.0" y="370.0" width="192.0" height="3.0" fill="url(#s129)"/>
<rect x="800.0" y="372.0" width="184.0" height="3.0" fill="url(#s130)"/>
<rect x="800.0" y="374.0" width="184.0" height="3.0" fill="url(#s131)"/>
<rect x="800.0" y="376.0" width="176.0" height="3.0" fill="url(#s132)"/>
<rect x="800.0" y="378.0" width="176.0" height="3.0" fill="url(#s133)"/>
<rect x="800.0" y="380.0" width="168.0" height="3.0" fill="url(#s134)"/>
<rect x="808.0" y="382.0" width="152.0" height="3.0" fill="url(#s135)"/>
<rect x="808.0" y="384.0" width="152.0" height="3.0" fill="url(#s136)"/>
<rect x="808.0" y="386.0" width="144.0" height="3.0" fill="url(#s137)"/>
<rect x="808.0" y="388.0" width="136.0" height="3.0" fill="url(#s138)"/>
<rect x="808.0" y="390.0" width="136.0" height="3.0" fill="url(#s139)"/>
<rect x="808.0" y="392.0" width="128.0" height="3.0" fill="url(#s140)"/>
<rect x="808.0" y="394.0" width="120.0" height="3.0" fill="url(#s141)"/>
<rect x="808.0" y="396.0" width="120.0" height="3.0" fill="url(#s142)"/>
<rect x="816.0" y="398.0" width="104.0" height="3.0" fill="url(#s143)"/>
<rect x="816.0" y="400.0" width="96.0" height="3.0" fill="url(#s144)"/>
<rect x="816.0" y="402.0" width="96.0" height="3.0" fill="url(#s145)"/>
<rect x="816.0" y="404.0" width="88.0" height="3.0" fill="url(#s146)"/>
<rect x="816.0" y="406.0" width="88.0" height="3.0" fill="url(#s147)"/>
<rect x="816.0" y="408.0" width="80.0" height="3.0" fill="url(#s148)"/>
<rect x="816.0" y="410.0" width="72.0" height="3.0" fill="url(#s149)"/>
<rect x="824.0" y="412.0" width="64.0" height="3.0" fill="url(#s150)"/>
<rect x="824.0" y="414.0" width="56.0" height="3.0" fill="url(#s151)"/>
<rect x="824.0" y="416.0" width="48.0" height="3.0" fill="url(#s152)"/>
<rect x="824.0" y="418.0" width="48.0" height="3.0" fill="url(#s153)"/>
<rect x="832.0" y="420.0" width="32.0" height="3.0" fill="url(#s154)"/>
<rect x="832.0" y="422.0" width="24.0" height="3.0" fill="url(#s155)"/>
<rect x="832.0" y="424.0" width="24.0" height="3.0" fill="url(#s156)"/>
<radialGradient id="dg" gradientUnits="userSpaceOnUse" cx="842" cy="417" r="55"><stop offset="0" stop-color="#000" stop-opacity="0.1"/><stop offset="0.3" stop-color="#000" stop-opacity="0.2"/><stop offset="1" stop-color="#000" stop-opacity="0.38"/></radialGradient>
<path d="M767.4,112.4 H1142 V427.3 H767.4 Z M1055.0,303.5 L901.0,205.0 L836.0,401.5 Z" fill="url(#dg)" fill-rule="evenodd"/>
</g>
<rect x="767.4" y="112.4" width="374.6" height="314.9" fill="none" stroke="#9a9a9a" stroke-width="1.2"/>
<rect x="1046.3" y="298.5" width="10.5" height="9.5" fill="none" stroke="#fff" stroke-width="1.15"/>
<circle cx="1059.0" cy="306.0" r="2.9" fill="#a00000" stroke="#300000" stroke-width="1"/>
<rect x="895.3" y="197.2" width="10.5" height="9.5" fill="none" stroke="#fff" stroke-width="1.15"/>
<circle cx="902.5" cy="202.2" r="2.9" fill="#0a9a0a" stroke="#103010" stroke-width="1"/>
<rect x="828.3" y="399.2" width="10.5" height="9.5" fill="none" stroke="#fff" stroke-width="1.15"/>
<circle cx="833.5" cy="405.4" r="2.9" fill="#0000d8" stroke="#000060" stroke-width="1"/>
<rect x="861.2" y="299.2" width="10.5" height="9.5" fill="none" stroke="#fff" stroke-width="1.15"/>
<circle cx="868.8" cy="308.4" r="2.9" fill="#00a8a8" stroke="#103030" stroke-width="1"/>
<rect x="904.2" y="364.3" width="10.5" height="9.5" fill="none" stroke="#fff" stroke-width="1.15"/>
<circle cx="906.3" cy="374.1" r="2.9" fill="#a000a0" stroke="#300030" stroke-width="1"/>
<rect x="948.4" y="233.3" width="10.5" height="8.2" fill="none" stroke="#fff" stroke-width="1.15"/>
<circle cx="953.5" cy="237.3" r="2.9" fill="#a0a000" stroke="#202000" stroke-width="1"/>
<rect x="901.4" y="298.2" width="10.5" height="9.5" fill="none" stroke="#111" stroke-width="1.15"/>
<circle cx="908.4" cy="307.7" r="2.9" fill="#ffffff" stroke="#111" stroke-width="1"/>
<line x1="767.3" y1="427.3" x2="767.3" y2="430.3" stroke="#9a9a9a" stroke-width="1.2"/>
<text transform="translate(767.3,442.4) scale(1.08,1)" font-size="10" fill="#d8d8d8" stroke="#d8d8d8" stroke-width="0.3" text-anchor="middle">0</text>
<line x1="763.4" y1="427.3" x2="767.4" y2="427.3" stroke="#9a9a9a" stroke-width="1.2"/>
<text transform="translate(762.9,431.6) scale(1.08,1)" font-size="10" fill="#d8d8d8" stroke="#d8d8d8" stroke-width="0.3" text-anchor="end">0</text>
<line x1="811.925" y1="427.3" x2="811.925" y2="430.3" stroke="#9a9a9a" stroke-width="1.2"/>
<text transform="translate(811.9,442.4) scale(1.08,1)" font-size="10" fill="#d8d8d8" stroke="#d8d8d8" stroke-width="0.3" text-anchor="middle">0,1</text>
<line x1="763.4" y1="389.94" x2="767.4" y2="389.94" stroke="#9a9a9a" stroke-width="1.2"/>
<text transform="translate(762.9,394.2) scale(1.08,1)" font-size="10" fill="#d8d8d8" stroke="#d8d8d8" stroke-width="0.3" text-anchor="end">0,1</text>
<line x1="856.55" y1="427.3" x2="856.55" y2="430.3" stroke="#9a9a9a" stroke-width="1.2"/>
<text transform="translate(856.5,442.4) scale(1.08,1)" font-size="10" fill="#d8d8d8" stroke="#d8d8d8" stroke-width="0.3" text-anchor="middle">0,2</text>
<line x1="763.4" y1="352.58" x2="767.4" y2="352.58" stroke="#9a9a9a" stroke-width="1.2"/>
<text transform="translate(762.9,356.9) scale(1.08,1)" font-size="10" fill="#d8d8d8" stroke="#d8d8d8" stroke-width="0.3" text-anchor="end">0,2</text>
<line x1="901.175" y1="427.3" x2="901.175" y2="430.3" stroke="#9a9a9a" stroke-width="1.2"/>
<text transform="translate(901.2,442.4) scale(1.08,1)" font-size="10" fill="#d8d8d8" stroke="#d8d8d8" stroke-width="0.3" text-anchor="middle">0,3</text>
<line x1="763.4" y1="315.22" x2="767.4" y2="315.22" stroke="#9a9a9a" stroke-width="1.2"/>
<text transform="translate(762.9,319.5) scale(1.08,1)" font-size="10" fill="#d8d8d8" stroke="#d8d8d8" stroke-width="0.3" text-anchor="end">0,3</text>
<line x1="945.8" y1="427.3" x2="945.8" y2="430.3" stroke="#9a9a9a" stroke-width="1.2"/>
<text transform="translate(945.8,442.4) scale(1.08,1)" font-size="10" fill="#d8d8d8" stroke="#d8d8d8" stroke-width="0.3" text-anchor="middle">0,4</text>
<line x1="763.4" y1="277.86" x2="767.4" y2="277.86" stroke="#9a9a9a" stroke-width="1.2"/>
<text transform="translate(762.9,282.2) scale(1.08,1)" font-size="10" fill="#d8d8d8" stroke="#d8d8d8" stroke-width="0.3" text-anchor="end">0,4</text>
<line x1="990.425" y1="427.3" x2="990.425" y2="430.3" stroke="#9a9a9a" stroke-width="1.2"/>
<text transform="translate(990.4,442.4) scale(1.08,1)" font-size="10" fill="#d8d8d8" stroke="#d8d8d8" stroke-width="0.3" text-anchor="middle">0,5</text>
<line x1="763.4" y1="240.5" x2="767.4" y2="240.5" stroke="#9a9a9a" stroke-width="1.2"/>
<text transform="translate(762.9,244.8) scale(1.08,1)" font-size="10" fill="#d8d8d8" stroke="#d8d8d8" stroke-width="0.3" text-anchor="end">0,5</text>
<line x1="1035.05" y1="427.3" x2="1035.05" y2="430.3" stroke="#9a9a9a" stroke-width="1.2"/>
<text transform="translate(1035.0,442.4) scale(1.08,1)" font-size="10" fill="#d8d8d8" stroke="#d8d8d8" stroke-width="0.3" text-anchor="middle">0,6</text>
<line x1="763.4" y1="203.14" x2="767.4" y2="203.14" stroke="#9a9a9a" stroke-width="1.2"/>
<text transform="translate(762.9,207.4) scale(1.08,1)" font-size="10" fill="#d8d8d8" stroke="#d8d8d8" stroke-width="0.3" text-anchor="end">0,6</text>
<line x1="1079.67" y1="427.3" x2="1079.67" y2="430.3" stroke="#9a9a9a" stroke-width="1.2"/>
<text transform="translate(1079.7,442.4) scale(1.08,1)" font-size="10" fill="#d8d8d8" stroke="#d8d8d8" stroke-width="0.3" text-anchor="middle">0,7</text>
<line x1="763.4" y1="165.78" x2="767.4" y2="165.78" stroke="#9a9a9a" stroke-width="1.2"/>
<text transform="translate(762.9,170.1) scale(1.08,1)" font-size="10" fill="#d8d8d8" stroke="#d8d8d8" stroke-width="0.3" text-anchor="end">0,7</text>
<line x1="1124.3" y1="427.3" x2="1124.3" y2="430.3" stroke="#9a9a9a" stroke-width="1.2"/>
<text transform="translate(1124.3,442.4) scale(1.08,1)" font-size="10" fill="#d8d8d8" stroke="#d8d8d8" stroke-width="0.3" text-anchor="middle">0,8</text>
<line x1="763.4" y1="128.42" x2="767.4" y2="128.42" stroke="#9a9a9a" stroke-width="1.2"/>
<text transform="translate(762.9,132.7) scale(1.08,1)" font-size="10" fill="#d8d8d8" stroke="#d8d8d8" stroke-width="0.3" text-anchor="end">0,8</text>
<text transform="translate(945.0,108.8) scale(1.1,1)" font-size="9.6" fill="#d8d8d8" stroke="#d8d8d8" stroke-width="0.3" text-anchor="middle">CIE 1931 xy</text>
<rect x="919.3" y="401.8" width="214.7" height="17.2" fill="#333333"/>
<text x="935.1" y="415.1" font-size="12.3" fill="#ececec" stroke="#ececec" stroke-width="0.3" lengthAdjust="spacingAndGlyphs" textLength="42.8">Gamut</text>
<text x="985.1" y="415.1" font-size="12.3" fill="#ececec" stroke="#ececec" stroke-width="0.3" lengthAdjust="spacingAndGlyphs" textLength="61.2">Coverage</text>
<text x="1052" y="415.1" font-size="12.3" fill="#ececec" stroke="#ececec" stroke-width="0.3" lengthAdjust="spacingAndGlyphs" textLength="66.3">97,9246%</text>
<text x="818.5" y="507.8" font-size="18.8" fill="#f0f0f0" stroke="#f0f0f0" stroke-width="0.3" lengthAdjust="spacingAndGlyphs" textLength="46.4">Peak</text>
<text x="873.4" y="507.8" font-size="18.8" fill="#f0f0f0" stroke="#f0f0f0" stroke-width="0.3" lengthAdjust="spacingAndGlyphs" textLength="114.3">Luminance:</text>
<text x="995.7" y="507.8" font-size="18.8" fill="#f0f0f0" stroke="#f0f0f0" stroke-width="0.3" lengthAdjust="spacingAndGlyphs" textLength="55.4">303,5</text>
<text x="1058.4" y="507.8" font-size="18.8" fill="#f0f0f0" stroke="#f0f0f0" stroke-width="0.3" lengthAdjust="spacingAndGlyphs" textLength="60.2">cd/m²</text>
</svg></body></html>
